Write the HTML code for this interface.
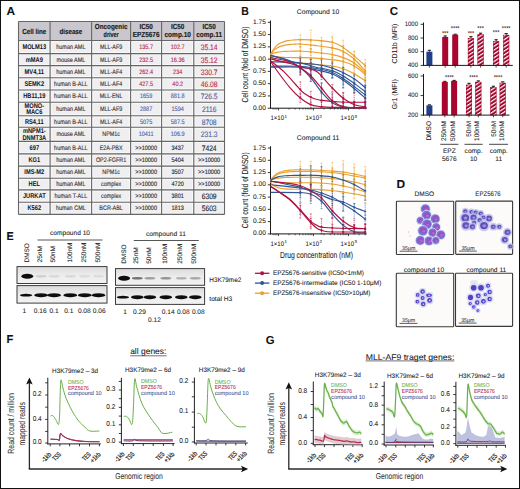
<!DOCTYPE html>
<html><head><meta charset="utf-8"><style>
html,body{margin:0;padding:0;background:#fff;}
body{width:520px;height:489px;overflow:hidden;}
svg{display:block;font-family:"Liberation Sans",sans-serif;}
</style></head><body>
<svg width="520" height="489" viewBox="0 0 520 489" dominant-baseline="central" text-rendering="geometricPrecision">
<rect x="0.5" y="0.5" width="519" height="488" fill="none" stroke="#111" stroke-width="1"/>
<text x="6.50" y="12.00" font-size="11.5" text-anchor="start" fill="#111" stroke="#111" stroke-width="0.07" font-weight="bold" textLength="8.60" lengthAdjust="spacingAndGlyphs" >A</text>
<rect x="18.50" y="21.50" width="206.00" height="19.00" fill="#c9c7cd" />
<rect x="18.50" y="40.50" width="206.00" height="173.90" fill="#efeff1" />
<rect x="19.70" y="41.70" width="29.20" height="10.70" fill="none" stroke="#fafafa" stroke-width="0.8"/>
<rect x="51.30" y="41.70" width="39.10" height="10.70" fill="none" stroke="#fafafa" stroke-width="0.8"/>
<rect x="92.80" y="41.70" width="36.60" height="10.70" fill="none" stroke="#fafafa" stroke-width="0.8"/>
<rect x="131.80" y="41.70" width="28.60" height="10.70" fill="none" stroke="#fafafa" stroke-width="0.8"/>
<rect x="162.80" y="41.70" width="29.80" height="10.70" fill="none" stroke="#fafafa" stroke-width="0.8"/>
<rect x="195.00" y="41.70" width="28.30" height="10.70" fill="none" stroke="#fafafa" stroke-width="0.8"/>
<rect x="19.70" y="54.80" width="29.20" height="9.60" fill="none" stroke="#fafafa" stroke-width="0.8"/>
<rect x="51.30" y="54.80" width="39.10" height="9.60" fill="none" stroke="#fafafa" stroke-width="0.8"/>
<rect x="92.80" y="54.80" width="36.60" height="9.60" fill="none" stroke="#fafafa" stroke-width="0.8"/>
<rect x="131.80" y="54.80" width="28.60" height="9.60" fill="none" stroke="#fafafa" stroke-width="0.8"/>
<rect x="162.80" y="54.80" width="29.80" height="9.60" fill="none" stroke="#fafafa" stroke-width="0.8"/>
<rect x="195.00" y="54.80" width="28.30" height="9.60" fill="none" stroke="#fafafa" stroke-width="0.8"/>
<rect x="19.70" y="66.80" width="29.20" height="9.70" fill="none" stroke="#fafafa" stroke-width="0.8"/>
<rect x="51.30" y="66.80" width="39.10" height="9.70" fill="none" stroke="#fafafa" stroke-width="0.8"/>
<rect x="92.80" y="66.80" width="36.60" height="9.70" fill="none" stroke="#fafafa" stroke-width="0.8"/>
<rect x="131.80" y="66.80" width="28.60" height="9.70" fill="none" stroke="#fafafa" stroke-width="0.8"/>
<rect x="162.80" y="66.80" width="29.80" height="9.70" fill="none" stroke="#fafafa" stroke-width="0.8"/>
<rect x="195.00" y="66.80" width="28.30" height="9.70" fill="none" stroke="#fafafa" stroke-width="0.8"/>
<rect x="19.70" y="78.90" width="29.20" height="9.90" fill="none" stroke="#fafafa" stroke-width="0.8"/>
<rect x="51.30" y="78.90" width="39.10" height="9.90" fill="none" stroke="#fafafa" stroke-width="0.8"/>
<rect x="92.80" y="78.90" width="36.60" height="9.90" fill="none" stroke="#fafafa" stroke-width="0.8"/>
<rect x="131.80" y="78.90" width="28.60" height="9.90" fill="none" stroke="#fafafa" stroke-width="0.8"/>
<rect x="162.80" y="78.90" width="29.80" height="9.90" fill="none" stroke="#fafafa" stroke-width="0.8"/>
<rect x="195.00" y="78.90" width="28.30" height="9.90" fill="none" stroke="#fafafa" stroke-width="0.8"/>
<rect x="19.70" y="91.20" width="29.20" height="9.80" fill="none" stroke="#fafafa" stroke-width="0.8"/>
<rect x="51.30" y="91.20" width="39.10" height="9.80" fill="none" stroke="#fafafa" stroke-width="0.8"/>
<rect x="92.80" y="91.20" width="36.60" height="9.80" fill="none" stroke="#fafafa" stroke-width="0.8"/>
<rect x="131.80" y="91.20" width="28.60" height="9.80" fill="none" stroke="#fafafa" stroke-width="0.8"/>
<rect x="162.80" y="91.20" width="29.80" height="9.80" fill="none" stroke="#fafafa" stroke-width="0.8"/>
<rect x="195.00" y="91.20" width="28.30" height="9.80" fill="none" stroke="#fafafa" stroke-width="0.8"/>
<rect x="19.70" y="103.40" width="29.20" height="11.20" fill="none" stroke="#fafafa" stroke-width="0.8"/>
<rect x="51.30" y="103.40" width="39.10" height="11.20" fill="none" stroke="#fafafa" stroke-width="0.8"/>
<rect x="92.80" y="103.40" width="36.60" height="11.20" fill="none" stroke="#fafafa" stroke-width="0.8"/>
<rect x="131.80" y="103.40" width="28.60" height="11.20" fill="none" stroke="#fafafa" stroke-width="0.8"/>
<rect x="162.80" y="103.40" width="29.80" height="11.20" fill="none" stroke="#fafafa" stroke-width="0.8"/>
<rect x="195.00" y="103.40" width="28.30" height="11.20" fill="none" stroke="#fafafa" stroke-width="0.8"/>
<rect x="19.70" y="117.00" width="29.20" height="9.00" fill="none" stroke="#fafafa" stroke-width="0.8"/>
<rect x="51.30" y="117.00" width="39.10" height="9.00" fill="none" stroke="#fafafa" stroke-width="0.8"/>
<rect x="92.80" y="117.00" width="36.60" height="9.00" fill="none" stroke="#fafafa" stroke-width="0.8"/>
<rect x="131.80" y="117.00" width="28.60" height="9.00" fill="none" stroke="#fafafa" stroke-width="0.8"/>
<rect x="162.80" y="117.00" width="29.80" height="9.00" fill="none" stroke="#fafafa" stroke-width="0.8"/>
<rect x="195.00" y="117.00" width="28.30" height="9.00" fill="none" stroke="#fafafa" stroke-width="0.8"/>
<rect x="19.70" y="128.40" width="29.20" height="11.80" fill="none" stroke="#fafafa" stroke-width="0.8"/>
<rect x="51.30" y="128.40" width="39.10" height="11.80" fill="none" stroke="#fafafa" stroke-width="0.8"/>
<rect x="92.80" y="128.40" width="36.60" height="11.80" fill="none" stroke="#fafafa" stroke-width="0.8"/>
<rect x="131.80" y="128.40" width="28.60" height="11.80" fill="none" stroke="#fafafa" stroke-width="0.8"/>
<rect x="162.80" y="128.40" width="29.80" height="11.80" fill="none" stroke="#fafafa" stroke-width="0.8"/>
<rect x="195.00" y="128.40" width="28.30" height="11.80" fill="none" stroke="#fafafa" stroke-width="0.8"/>
<rect x="19.70" y="142.60" width="29.20" height="10.10" fill="none" stroke="#fafafa" stroke-width="0.8"/>
<rect x="51.30" y="142.60" width="39.10" height="10.10" fill="none" stroke="#fafafa" stroke-width="0.8"/>
<rect x="92.80" y="142.60" width="36.60" height="10.10" fill="none" stroke="#fafafa" stroke-width="0.8"/>
<rect x="131.80" y="142.60" width="28.60" height="10.10" fill="none" stroke="#fafafa" stroke-width="0.8"/>
<rect x="162.80" y="142.60" width="29.80" height="10.10" fill="none" stroke="#fafafa" stroke-width="0.8"/>
<rect x="195.00" y="142.60" width="28.30" height="10.10" fill="none" stroke="#fafafa" stroke-width="0.8"/>
<rect x="19.70" y="155.10" width="29.20" height="9.80" fill="none" stroke="#fafafa" stroke-width="0.8"/>
<rect x="51.30" y="155.10" width="39.10" height="9.80" fill="none" stroke="#fafafa" stroke-width="0.8"/>
<rect x="92.80" y="155.10" width="36.60" height="9.80" fill="none" stroke="#fafafa" stroke-width="0.8"/>
<rect x="131.80" y="155.10" width="28.60" height="9.80" fill="none" stroke="#fafafa" stroke-width="0.8"/>
<rect x="162.80" y="155.10" width="29.80" height="9.80" fill="none" stroke="#fafafa" stroke-width="0.8"/>
<rect x="195.00" y="155.10" width="28.30" height="9.80" fill="none" stroke="#fafafa" stroke-width="0.8"/>
<rect x="19.70" y="167.30" width="29.20" height="9.70" fill="none" stroke="#fafafa" stroke-width="0.8"/>
<rect x="51.30" y="167.30" width="39.10" height="9.70" fill="none" stroke="#fafafa" stroke-width="0.8"/>
<rect x="92.80" y="167.30" width="36.60" height="9.70" fill="none" stroke="#fafafa" stroke-width="0.8"/>
<rect x="131.80" y="167.30" width="28.60" height="9.70" fill="none" stroke="#fafafa" stroke-width="0.8"/>
<rect x="162.80" y="167.30" width="29.80" height="9.70" fill="none" stroke="#fafafa" stroke-width="0.8"/>
<rect x="195.00" y="167.30" width="28.30" height="9.70" fill="none" stroke="#fafafa" stroke-width="0.8"/>
<rect x="19.70" y="179.40" width="29.20" height="9.30" fill="none" stroke="#fafafa" stroke-width="0.8"/>
<rect x="51.30" y="179.40" width="39.10" height="9.30" fill="none" stroke="#fafafa" stroke-width="0.8"/>
<rect x="92.80" y="179.40" width="36.60" height="9.30" fill="none" stroke="#fafafa" stroke-width="0.8"/>
<rect x="131.80" y="179.40" width="28.60" height="9.30" fill="none" stroke="#fafafa" stroke-width="0.8"/>
<rect x="162.80" y="179.40" width="29.80" height="9.30" fill="none" stroke="#fafafa" stroke-width="0.8"/>
<rect x="195.00" y="179.40" width="28.30" height="9.30" fill="none" stroke="#fafafa" stroke-width="0.8"/>
<rect x="19.70" y="191.10" width="29.20" height="10.00" fill="none" stroke="#fafafa" stroke-width="0.8"/>
<rect x="51.30" y="191.10" width="39.10" height="10.00" fill="none" stroke="#fafafa" stroke-width="0.8"/>
<rect x="92.80" y="191.10" width="36.60" height="10.00" fill="none" stroke="#fafafa" stroke-width="0.8"/>
<rect x="131.80" y="191.10" width="28.60" height="10.00" fill="none" stroke="#fafafa" stroke-width="0.8"/>
<rect x="162.80" y="191.10" width="29.80" height="10.00" fill="none" stroke="#fafafa" stroke-width="0.8"/>
<rect x="195.00" y="191.10" width="28.30" height="10.00" fill="none" stroke="#fafafa" stroke-width="0.8"/>
<rect x="19.70" y="203.50" width="29.20" height="9.70" fill="none" stroke="#fafafa" stroke-width="0.8"/>
<rect x="51.30" y="203.50" width="39.10" height="9.70" fill="none" stroke="#fafafa" stroke-width="0.8"/>
<rect x="92.80" y="203.50" width="36.60" height="9.70" fill="none" stroke="#fafafa" stroke-width="0.8"/>
<rect x="131.80" y="203.50" width="28.60" height="9.70" fill="none" stroke="#fafafa" stroke-width="0.8"/>
<rect x="162.80" y="203.50" width="29.80" height="9.70" fill="none" stroke="#fafafa" stroke-width="0.8"/>
<rect x="195.00" y="203.50" width="28.30" height="9.70" fill="none" stroke="#fafafa" stroke-width="0.8"/>
<line x1="18.50" y1="21.50" x2="18.50" y2="214.40" stroke="#666" stroke-width="1.1" />
<line x1="50.10" y1="21.50" x2="50.10" y2="214.40" stroke="#666" stroke-width="1.1" />
<line x1="91.60" y1="21.50" x2="91.60" y2="214.40" stroke="#666" stroke-width="1.1" />
<line x1="130.60" y1="21.50" x2="130.60" y2="214.40" stroke="#666" stroke-width="1.1" />
<line x1="161.60" y1="21.50" x2="161.60" y2="214.40" stroke="#666" stroke-width="1.1" />
<line x1="193.80" y1="21.50" x2="193.80" y2="214.40" stroke="#666" stroke-width="1.1" />
<line x1="224.50" y1="21.50" x2="224.50" y2="214.40" stroke="#666" stroke-width="1.1" />
<line x1="18.50" y1="21.50" x2="224.50" y2="21.50" stroke="#666" stroke-width="1.1" />
<line x1="18.50" y1="40.50" x2="224.50" y2="40.50" stroke="#666" stroke-width="1.1" />
<line x1="18.50" y1="53.60" x2="224.50" y2="53.60" stroke="#666" stroke-width="1.1" />
<line x1="18.50" y1="65.60" x2="224.50" y2="65.60" stroke="#666" stroke-width="1.1" />
<line x1="18.50" y1="77.70" x2="224.50" y2="77.70" stroke="#666" stroke-width="1.1" />
<line x1="18.50" y1="90.00" x2="224.50" y2="90.00" stroke="#666" stroke-width="1.1" />
<line x1="18.50" y1="102.20" x2="224.50" y2="102.20" stroke="#666" stroke-width="1.1" />
<line x1="18.50" y1="115.80" x2="224.50" y2="115.80" stroke="#666" stroke-width="1.1" />
<line x1="18.50" y1="127.20" x2="224.50" y2="127.20" stroke="#666" stroke-width="1.1" />
<line x1="18.50" y1="141.40" x2="224.50" y2="141.40" stroke="#666" stroke-width="1.1" />
<line x1="18.50" y1="153.90" x2="224.50" y2="153.90" stroke="#666" stroke-width="1.1" />
<line x1="18.50" y1="166.10" x2="224.50" y2="166.10" stroke="#666" stroke-width="1.1" />
<line x1="18.50" y1="178.20" x2="224.50" y2="178.20" stroke="#666" stroke-width="1.1" />
<line x1="18.50" y1="189.90" x2="224.50" y2="189.90" stroke="#666" stroke-width="1.1" />
<line x1="18.50" y1="202.30" x2="224.50" y2="202.30" stroke="#666" stroke-width="1.1" />
<line x1="18.50" y1="214.40" x2="224.50" y2="214.40" stroke="#666" stroke-width="1.1" />
<text x="34.30" y="31.00" font-size="7.3" text-anchor="middle" fill="#1a1a1a" stroke="#1a1a1a" stroke-width="0.15" font-weight="bold" textLength="23.90" lengthAdjust="spacingAndGlyphs" >Cell line</text>
<text x="70.85" y="31.00" font-size="7.3" text-anchor="middle" fill="#1a1a1a" stroke="#1a1a1a" stroke-width="0.15" font-weight="bold" textLength="22.90" lengthAdjust="spacingAndGlyphs" >disease</text>
<text x="111.10" y="26.20" font-size="7.3" text-anchor="middle" fill="#1a1a1a" stroke="#1a1a1a" stroke-width="0.15" font-weight="bold" textLength="32.70" lengthAdjust="spacingAndGlyphs" >Oncogenic</text>
<text x="111.10" y="34.60" font-size="7.3" text-anchor="middle" fill="#1a1a1a" stroke="#1a1a1a" stroke-width="0.15" font-weight="bold" textLength="15.00" lengthAdjust="spacingAndGlyphs" >driver</text>
<text x="146.10" y="26.10" font-size="7.3" text-anchor="middle" fill="#1a1a1a" stroke="#1a1a1a" stroke-width="0.15" font-weight="bold" textLength="13.40" lengthAdjust="spacingAndGlyphs" >IC50</text>
<text x="146.10" y="34.60" font-size="7.3" text-anchor="middle" fill="#1a1a1a" stroke="#1a1a1a" stroke-width="0.15" font-weight="bold" textLength="26.90" lengthAdjust="spacingAndGlyphs" >EPZ5676</text>
<text x="177.70" y="26.10" font-size="7.3" text-anchor="middle" fill="#1a1a1a" stroke="#1a1a1a" stroke-width="0.15" font-weight="bold" textLength="13.40" lengthAdjust="spacingAndGlyphs" >IC50</text>
<text x="177.70" y="34.60" font-size="7.3" text-anchor="middle" fill="#1a1a1a" stroke="#1a1a1a" stroke-width="0.15" font-weight="bold" textLength="26.40" lengthAdjust="spacingAndGlyphs" >comp.10</text>
<text x="209.15" y="26.10" font-size="7.3" text-anchor="middle" fill="#1a1a1a" stroke="#1a1a1a" stroke-width="0.15" font-weight="bold" textLength="13.40" lengthAdjust="spacingAndGlyphs" >IC50</text>
<text x="209.15" y="34.60" font-size="7.3" text-anchor="middle" fill="#1a1a1a" stroke="#1a1a1a" stroke-width="0.15" font-weight="bold" textLength="25.90" lengthAdjust="spacingAndGlyphs" >comp.11</text>
<text x="34.30" y="47.65" font-size="6.8" text-anchor="middle" fill="#111" font-weight="bold" textLength="23.80" lengthAdjust="spacingAndGlyphs" >MOLM13</text>
<text x="70.85" y="47.65" font-size="6.6" text-anchor="middle" fill="#333" stroke="#333" stroke-width="0.12" textLength="29.23" lengthAdjust="spacingAndGlyphs" >human AML</text>
<text x="111.10" y="47.65" font-size="6.6" text-anchor="middle" fill="#333" stroke="#333" stroke-width="0.12" textLength="22.26" lengthAdjust="spacingAndGlyphs" >MLL-AF9</text>
<text x="146.10" y="47.65" font-size="6.5" text-anchor="middle" fill="#b8284f" stroke="#b8284f" stroke-width="0.12" textLength="13.83" lengthAdjust="spacingAndGlyphs" >135.7</text>
<text x="177.70" y="47.65" font-size="6.5" text-anchor="middle" fill="#b8284f" stroke="#b8284f" stroke-width="0.12" textLength="13.83" lengthAdjust="spacingAndGlyphs" >102.7</text>
<text x="209.15" y="47.65" font-size="7.9" text-anchor="middle" fill="#b8284f" stroke="#b8284f" stroke-width="0.12" textLength="16.80" lengthAdjust="spacingAndGlyphs" >35.14</text>
<text x="34.30" y="60.20" font-size="6.8" text-anchor="middle" fill="#111" font-weight="bold" textLength="17.14" lengthAdjust="spacingAndGlyphs" >mMA9</text>
<text x="70.85" y="60.20" font-size="6.6" text-anchor="middle" fill="#333" stroke="#333" stroke-width="0.12" textLength="28.93" lengthAdjust="spacingAndGlyphs" >mouse AML</text>
<text x="111.10" y="60.20" font-size="6.6" text-anchor="middle" fill="#333" stroke="#333" stroke-width="0.12" textLength="22.26" lengthAdjust="spacingAndGlyphs" >MLL-AF9</text>
<text x="146.10" y="60.20" font-size="6.5" text-anchor="middle" fill="#b8284f" stroke="#b8284f" stroke-width="0.12" textLength="13.83" lengthAdjust="spacingAndGlyphs" >232.5</text>
<text x="177.70" y="60.20" font-size="6.5" text-anchor="middle" fill="#b8284f" stroke="#b8284f" stroke-width="0.12" textLength="13.83" lengthAdjust="spacingAndGlyphs" >16.36</text>
<text x="209.15" y="60.20" font-size="7.9" text-anchor="middle" fill="#b8284f" stroke="#b8284f" stroke-width="0.12" textLength="16.80" lengthAdjust="spacingAndGlyphs" >35.12</text>
<text x="34.30" y="72.25" font-size="6.8" text-anchor="middle" fill="#111" font-weight="bold" textLength="19.37" lengthAdjust="spacingAndGlyphs" >MV4,11</text>
<text x="70.85" y="72.25" font-size="6.6" text-anchor="middle" fill="#333" stroke="#333" stroke-width="0.12" textLength="29.23" lengthAdjust="spacingAndGlyphs" >human AML</text>
<text x="111.10" y="72.25" font-size="6.6" text-anchor="middle" fill="#333" stroke="#333" stroke-width="0.12" textLength="22.26" lengthAdjust="spacingAndGlyphs" >MLL-AF4</text>
<text x="146.10" y="72.25" font-size="6.5" text-anchor="middle" fill="#b8284f" stroke="#b8284f" stroke-width="0.12" textLength="13.83" lengthAdjust="spacingAndGlyphs" >262.4</text>
<text x="177.70" y="72.25" font-size="6.5" text-anchor="middle" fill="#b8284f" stroke="#b8284f" stroke-width="0.12" textLength="9.22" lengthAdjust="spacingAndGlyphs" >234</text>
<text x="209.15" y="72.25" font-size="7.9" text-anchor="middle" fill="#b8284f" stroke="#b8284f" stroke-width="0.12" textLength="16.80" lengthAdjust="spacingAndGlyphs" >330.7</text>
<text x="34.30" y="84.45" font-size="6.8" text-anchor="middle" fill="#111" font-weight="bold" textLength="19.68" lengthAdjust="spacingAndGlyphs" >SEMK2</text>
<text x="70.85" y="84.45" font-size="6.6" text-anchor="middle" fill="#333" stroke="#333" stroke-width="0.12" textLength="33.50" lengthAdjust="spacingAndGlyphs" >human B-ALL</text>
<text x="111.10" y="84.45" font-size="6.6" text-anchor="middle" fill="#333" stroke="#333" stroke-width="0.12" textLength="22.26" lengthAdjust="spacingAndGlyphs" >MLL-AF4</text>
<text x="146.10" y="84.45" font-size="6.5" text-anchor="middle" fill="#b8284f" stroke="#b8284f" stroke-width="0.12" textLength="13.83" lengthAdjust="spacingAndGlyphs" >427.5</text>
<text x="177.70" y="84.45" font-size="6.5" text-anchor="middle" fill="#b8284f" stroke="#b8284f" stroke-width="0.12" textLength="10.75" lengthAdjust="spacingAndGlyphs" >40.2</text>
<text x="209.15" y="84.45" font-size="7.9" text-anchor="middle" fill="#b8284f" stroke="#b8284f" stroke-width="0.12" textLength="16.80" lengthAdjust="spacingAndGlyphs" >46.08</text>
<text x="34.30" y="96.70" font-size="6.8" text-anchor="middle" fill="#111" font-weight="bold" textLength="22.23" lengthAdjust="spacingAndGlyphs" >HB11,19</text>
<text x="70.85" y="96.70" font-size="6.6" text-anchor="middle" fill="#333" stroke="#333" stroke-width="0.12" textLength="33.50" lengthAdjust="spacingAndGlyphs" >human B-ALL</text>
<text x="111.10" y="96.70" font-size="6.6" text-anchor="middle" fill="#333" stroke="#333" stroke-width="0.12" textLength="22.86" lengthAdjust="spacingAndGlyphs" >MLL-ENL</text>
<text x="146.10" y="96.70" font-size="6.5" text-anchor="middle" fill="#4b5f9e" stroke="#4b5f9e" stroke-width="0.12" textLength="12.29" lengthAdjust="spacingAndGlyphs" >1659</text>
<text x="177.70" y="96.70" font-size="6.5" text-anchor="middle" fill="#4b5f9e" stroke="#4b5f9e" stroke-width="0.12" textLength="13.83" lengthAdjust="spacingAndGlyphs" >881.8</text>
<text x="209.15" y="96.70" font-size="7.9" text-anchor="middle" fill="#4b5f9e" stroke="#4b5f9e" stroke-width="0.12" textLength="16.80" lengthAdjust="spacingAndGlyphs" >726.5</text>
<text x="34.30" y="106.30" font-size="6.8" text-anchor="middle" fill="#111" font-weight="bold" textLength="19.67" lengthAdjust="spacingAndGlyphs" >MONO-</text>
<text x="34.30" y="112.90" font-size="6.8" text-anchor="middle" fill="#111" font-weight="bold" textLength="16.19" lengthAdjust="spacingAndGlyphs" >MAC6</text>
<text x="70.85" y="109.60" font-size="6.6" text-anchor="middle" fill="#333" stroke="#333" stroke-width="0.12" textLength="29.23" lengthAdjust="spacingAndGlyphs" >human AML</text>
<text x="111.10" y="109.60" font-size="6.6" text-anchor="middle" fill="#333" stroke="#333" stroke-width="0.12" textLength="22.26" lengthAdjust="spacingAndGlyphs" >MLL-AF9</text>
<text x="146.10" y="109.60" font-size="6.5" text-anchor="middle" fill="#4b5f9e" stroke="#4b5f9e" stroke-width="0.12" textLength="12.29" lengthAdjust="spacingAndGlyphs" >2887</text>
<text x="177.70" y="109.60" font-size="6.5" text-anchor="middle" fill="#4b5f9e" stroke="#4b5f9e" stroke-width="0.12" textLength="12.29" lengthAdjust="spacingAndGlyphs" >1594</text>
<text x="209.15" y="109.60" font-size="7.9" text-anchor="middle" fill="#4b5f9e" stroke="#4b5f9e" stroke-width="0.12" textLength="14.44" lengthAdjust="spacingAndGlyphs" >2116</text>
<text x="34.30" y="122.10" font-size="6.8" text-anchor="middle" fill="#111" font-weight="bold" textLength="18.74" lengthAdjust="spacingAndGlyphs" >RS4,11</text>
<text x="70.85" y="122.10" font-size="6.6" text-anchor="middle" fill="#333" stroke="#333" stroke-width="0.12" textLength="33.50" lengthAdjust="spacingAndGlyphs" >human B-ALL</text>
<text x="111.10" y="122.10" font-size="6.6" text-anchor="middle" fill="#333" stroke="#333" stroke-width="0.12" textLength="22.26" lengthAdjust="spacingAndGlyphs" >MLL-AF4</text>
<text x="146.10" y="122.10" font-size="6.5" text-anchor="middle" fill="#4b5f9e" stroke="#4b5f9e" stroke-width="0.12" textLength="12.29" lengthAdjust="spacingAndGlyphs" >5075</text>
<text x="177.70" y="122.10" font-size="6.5" text-anchor="middle" fill="#4b5f9e" stroke="#4b5f9e" stroke-width="0.12" textLength="13.83" lengthAdjust="spacingAndGlyphs" >587.5</text>
<text x="209.15" y="122.10" font-size="7.9" text-anchor="middle" fill="#4b5f9e" stroke="#4b5f9e" stroke-width="0.12" textLength="14.94" lengthAdjust="spacingAndGlyphs" >8708</text>
<text x="34.30" y="131.60" font-size="6.8" text-anchor="middle" fill="#111" font-weight="bold" textLength="22.85" lengthAdjust="spacingAndGlyphs" >mNPM1-</text>
<text x="34.30" y="138.20" font-size="6.8" text-anchor="middle" fill="#111" font-weight="bold" textLength="23.80" lengthAdjust="spacingAndGlyphs" >DNMT3A</text>
<text x="70.85" y="134.90" font-size="6.6" text-anchor="middle" fill="#333" stroke="#333" stroke-width="0.12" textLength="28.93" lengthAdjust="spacingAndGlyphs" >mouse AML</text>
<text x="111.10" y="134.90" font-size="6.6" text-anchor="middle" fill="#333" stroke="#333" stroke-width="0.12" textLength="17.74" lengthAdjust="spacingAndGlyphs" >NPM1c</text>
<text x="146.10" y="134.90" font-size="6.5" text-anchor="middle" fill="#4b5f9e" stroke="#4b5f9e" stroke-width="0.12" textLength="14.95" lengthAdjust="spacingAndGlyphs" >10411</text>
<text x="177.70" y="134.90" font-size="6.5" text-anchor="middle" fill="#4b5f9e" stroke="#4b5f9e" stroke-width="0.12" textLength="13.83" lengthAdjust="spacingAndGlyphs" >106.9</text>
<text x="209.15" y="134.90" font-size="7.9" text-anchor="middle" fill="#4b5f9e" stroke="#4b5f9e" stroke-width="0.12" textLength="16.80" lengthAdjust="spacingAndGlyphs" >231.3</text>
<text x="34.30" y="148.25" font-size="6.8" text-anchor="middle" fill="#111" font-weight="bold" textLength="9.53" lengthAdjust="spacingAndGlyphs" >697</text>
<text x="70.85" y="148.25" font-size="6.6" text-anchor="middle" fill="#333" stroke="#333" stroke-width="0.12" textLength="33.50" lengthAdjust="spacingAndGlyphs" >human B-ALL</text>
<text x="111.10" y="148.25" font-size="6.6" text-anchor="middle" fill="#333" stroke="#333" stroke-width="0.12" textLength="22.86" lengthAdjust="spacingAndGlyphs" >E2A-PBX</text>
<text x="146.10" y="148.25" font-size="6.5" text-anchor="middle" fill="#222" stroke="#222" stroke-width="0.12" textLength="21.82" lengthAdjust="spacingAndGlyphs" >&gt;&gt;10000</text>
<text x="177.70" y="148.25" font-size="6.5" text-anchor="middle" fill="#222" stroke="#222" stroke-width="0.12" textLength="12.29" lengthAdjust="spacingAndGlyphs" >3437</text>
<text x="209.15" y="148.25" font-size="7.9" text-anchor="middle" fill="#222" stroke="#222" stroke-width="0.12" textLength="14.94" lengthAdjust="spacingAndGlyphs" >7424</text>
<text x="34.30" y="160.60" font-size="6.8" text-anchor="middle" fill="#111" font-weight="bold" textLength="11.74" lengthAdjust="spacingAndGlyphs" >KG1</text>
<text x="70.85" y="160.60" font-size="6.6" text-anchor="middle" fill="#333" stroke="#333" stroke-width="0.12" textLength="29.23" lengthAdjust="spacingAndGlyphs" >human AML</text>
<text x="111.10" y="160.60" font-size="6.6" text-anchor="middle" fill="#333" stroke="#333" stroke-width="0.12" textLength="30.37" lengthAdjust="spacingAndGlyphs" >OP2-FGFR1</text>
<text x="146.10" y="160.60" font-size="6.5" text-anchor="middle" fill="#222" stroke="#222" stroke-width="0.12" textLength="21.82" lengthAdjust="spacingAndGlyphs" >&gt;&gt;10000</text>
<text x="177.70" y="160.60" font-size="6.5" text-anchor="middle" fill="#222" stroke="#222" stroke-width="0.12" textLength="12.29" lengthAdjust="spacingAndGlyphs" >5404</text>
<text x="209.15" y="160.60" font-size="6.5" text-anchor="middle" fill="#222" stroke="#222" stroke-width="0.12" textLength="22.07" lengthAdjust="spacingAndGlyphs" >&gt;&gt;10000</text>
<text x="34.30" y="172.75" font-size="6.8" text-anchor="middle" fill="#111" font-weight="bold" textLength="19.99" lengthAdjust="spacingAndGlyphs" >IMS-M2</text>
<text x="70.85" y="172.75" font-size="6.6" text-anchor="middle" fill="#333" stroke="#333" stroke-width="0.12" textLength="29.23" lengthAdjust="spacingAndGlyphs" >human AML</text>
<text x="111.10" y="172.75" font-size="6.6" text-anchor="middle" fill="#333" stroke="#333" stroke-width="0.12" textLength="17.74" lengthAdjust="spacingAndGlyphs" >NPM1c</text>
<text x="146.10" y="172.75" font-size="6.5" text-anchor="middle" fill="#222" stroke="#222" stroke-width="0.12" textLength="21.82" lengthAdjust="spacingAndGlyphs" >&gt;&gt;10000</text>
<text x="177.70" y="172.75" font-size="6.5" text-anchor="middle" fill="#222" stroke="#222" stroke-width="0.12" textLength="12.29" lengthAdjust="spacingAndGlyphs" >3507</text>
<text x="209.15" y="172.75" font-size="6.5" text-anchor="middle" fill="#222" stroke="#222" stroke-width="0.12" textLength="22.07" lengthAdjust="spacingAndGlyphs" >&gt;&gt;10000</text>
<text x="34.30" y="184.65" font-size="6.8" text-anchor="middle" fill="#111" font-weight="bold" textLength="11.42" lengthAdjust="spacingAndGlyphs" >HEL</text>
<text x="70.85" y="184.65" font-size="6.6" text-anchor="middle" fill="#333" stroke="#333" stroke-width="0.12" textLength="29.23" lengthAdjust="spacingAndGlyphs" >human AML</text>
<text x="111.10" y="184.65" font-size="6.6" text-anchor="middle" fill="#333" stroke="#333" stroke-width="0.12" textLength="20.15" lengthAdjust="spacingAndGlyphs" >complex</text>
<text x="146.10" y="184.65" font-size="6.5" text-anchor="middle" fill="#222" stroke="#222" stroke-width="0.12" textLength="21.82" lengthAdjust="spacingAndGlyphs" >&gt;&gt;10000</text>
<text x="177.70" y="184.65" font-size="6.5" text-anchor="middle" fill="#222" stroke="#222" stroke-width="0.12" textLength="12.29" lengthAdjust="spacingAndGlyphs" >4720</text>
<text x="209.15" y="184.65" font-size="6.5" text-anchor="middle" fill="#222" stroke="#222" stroke-width="0.12" textLength="22.07" lengthAdjust="spacingAndGlyphs" >&gt;&gt;10000</text>
<text x="34.30" y="196.70" font-size="6.8" text-anchor="middle" fill="#111" font-weight="bold" textLength="22.74" lengthAdjust="spacingAndGlyphs" >JURKAT</text>
<text x="70.85" y="196.70" font-size="6.6" text-anchor="middle" fill="#333" stroke="#333" stroke-width="0.12" textLength="32.79" lengthAdjust="spacingAndGlyphs" >human T-ALL</text>
<text x="111.10" y="196.70" font-size="6.6" text-anchor="middle" fill="#333" stroke="#333" stroke-width="0.12" textLength="20.15" lengthAdjust="spacingAndGlyphs" >complex</text>
<text x="146.10" y="196.70" font-size="6.5" text-anchor="middle" fill="#222" stroke="#222" stroke-width="0.12" textLength="21.82" lengthAdjust="spacingAndGlyphs" >&gt;&gt;10000</text>
<text x="177.70" y="196.70" font-size="6.5" text-anchor="middle" fill="#222" stroke="#222" stroke-width="0.12" textLength="12.29" lengthAdjust="spacingAndGlyphs" >3801</text>
<text x="209.15" y="196.70" font-size="7.9" text-anchor="middle" fill="#222" stroke="#222" stroke-width="0.12" textLength="14.94" lengthAdjust="spacingAndGlyphs" >6309</text>
<text x="34.30" y="208.95" font-size="6.8" text-anchor="middle" fill="#111" font-weight="bold" textLength="13.66" lengthAdjust="spacingAndGlyphs" >K562</text>
<text x="70.85" y="208.95" font-size="6.6" text-anchor="middle" fill="#333" stroke="#333" stroke-width="0.12" textLength="29.84" lengthAdjust="spacingAndGlyphs" >human CML</text>
<text x="111.10" y="208.95" font-size="6.6" text-anchor="middle" fill="#333" stroke="#333" stroke-width="0.12" textLength="23.46" lengthAdjust="spacingAndGlyphs" >BCR-ABL</text>
<text x="146.10" y="208.95" font-size="6.5" text-anchor="middle" fill="#222" stroke="#222" stroke-width="0.12" textLength="21.82" lengthAdjust="spacingAndGlyphs" >&gt;&gt;10000</text>
<text x="177.70" y="208.95" font-size="6.5" text-anchor="middle" fill="#222" stroke="#222" stroke-width="0.12" textLength="12.29" lengthAdjust="spacingAndGlyphs" >1813</text>
<text x="209.15" y="208.95" font-size="7.9" text-anchor="middle" fill="#222" stroke="#222" stroke-width="0.12" textLength="14.94" lengthAdjust="spacingAndGlyphs" >5603</text>
<text x="241.30" y="12.20" font-size="11.5" text-anchor="start" fill="#111" stroke="#111" stroke-width="0.07" font-weight="bold" textLength="7.60" lengthAdjust="spacingAndGlyphs" >B</text>
<text x="318.00" y="12.30" font-size="6.7" text-anchor="middle" fill="#222" stroke="#222" stroke-width="0.07" textLength="42.50" lengthAdjust="spacingAndGlyphs" >Compound 10</text>
<line x1="267.80" y1="108.20" x2="270.50" y2="108.20" stroke="#222" stroke-width="0.9" />
<text x="265.80" y="108.20" font-size="6.6" text-anchor="end" fill="#222" stroke="#222" stroke-width="0.07" textLength="12.80" lengthAdjust="spacingAndGlyphs" >0.00</text>
<line x1="267.80" y1="95.93" x2="270.50" y2="95.93" stroke="#222" stroke-width="0.9" />
<text x="265.80" y="95.93" font-size="6.6" text-anchor="end" fill="#222" stroke="#222" stroke-width="0.07" textLength="12.80" lengthAdjust="spacingAndGlyphs" >0.25</text>
<line x1="267.80" y1="83.67" x2="270.50" y2="83.67" stroke="#222" stroke-width="0.9" />
<text x="265.80" y="83.67" font-size="6.6" text-anchor="end" fill="#222" stroke="#222" stroke-width="0.07" textLength="12.80" lengthAdjust="spacingAndGlyphs" >0.50</text>
<line x1="267.80" y1="71.40" x2="270.50" y2="71.40" stroke="#222" stroke-width="0.9" />
<text x="265.80" y="71.40" font-size="6.6" text-anchor="end" fill="#222" stroke="#222" stroke-width="0.07" textLength="12.80" lengthAdjust="spacingAndGlyphs" >0.75</text>
<line x1="267.80" y1="59.13" x2="270.50" y2="59.13" stroke="#222" stroke-width="0.9" />
<text x="265.80" y="59.13" font-size="6.6" text-anchor="end" fill="#222" stroke="#222" stroke-width="0.07" textLength="12.80" lengthAdjust="spacingAndGlyphs" >1.00</text>
<line x1="267.80" y1="46.86" x2="270.50" y2="46.86" stroke="#222" stroke-width="0.9" />
<text x="265.80" y="46.86" font-size="6.6" text-anchor="end" fill="#222" stroke="#222" stroke-width="0.07" textLength="12.80" lengthAdjust="spacingAndGlyphs" >1.25</text>
<line x1="267.80" y1="34.59" x2="270.50" y2="34.59" stroke="#222" stroke-width="0.9" />
<text x="265.80" y="34.59" font-size="6.6" text-anchor="end" fill="#222" stroke="#222" stroke-width="0.07" textLength="12.80" lengthAdjust="spacingAndGlyphs" >1.50</text>
<line x1="267.80" y1="22.33" x2="270.50" y2="22.33" stroke="#222" stroke-width="0.9" />
<text x="265.80" y="22.33" font-size="6.6" text-anchor="end" fill="#222" stroke="#222" stroke-width="0.07" textLength="12.80" lengthAdjust="spacingAndGlyphs" >1.75</text>
<line x1="273.08" y1="108.20" x2="273.08" y2="109.50" stroke="#222" stroke-width="0.8" />
<line x1="275.11" y1="108.20" x2="275.11" y2="109.50" stroke="#222" stroke-width="0.8" />
<line x1="276.90" y1="108.20" x2="276.90" y2="109.50" stroke="#222" stroke-width="0.8" />
<line x1="278.50" y1="108.20" x2="278.50" y2="110.40" stroke="#222" stroke-width="0.8" />
<line x1="289.04" y1="108.20" x2="289.04" y2="109.50" stroke="#222" stroke-width="0.8" />
<line x1="295.20" y1="108.20" x2="295.20" y2="109.50" stroke="#222" stroke-width="0.8" />
<line x1="299.57" y1="108.20" x2="299.57" y2="109.50" stroke="#222" stroke-width="0.8" />
<line x1="302.96" y1="108.20" x2="302.96" y2="109.50" stroke="#222" stroke-width="0.8" />
<line x1="305.74" y1="108.20" x2="305.74" y2="109.50" stroke="#222" stroke-width="0.8" />
<line x1="308.08" y1="108.20" x2="308.08" y2="109.50" stroke="#222" stroke-width="0.8" />
<line x1="310.11" y1="108.20" x2="310.11" y2="109.50" stroke="#222" stroke-width="0.8" />
<line x1="311.90" y1="108.20" x2="311.90" y2="109.50" stroke="#222" stroke-width="0.8" />
<line x1="313.50" y1="108.20" x2="313.50" y2="110.40" stroke="#222" stroke-width="0.8" />
<line x1="324.04" y1="108.20" x2="324.04" y2="109.50" stroke="#222" stroke-width="0.8" />
<line x1="330.20" y1="108.20" x2="330.20" y2="109.50" stroke="#222" stroke-width="0.8" />
<line x1="334.57" y1="108.20" x2="334.57" y2="109.50" stroke="#222" stroke-width="0.8" />
<line x1="337.96" y1="108.20" x2="337.96" y2="109.50" stroke="#222" stroke-width="0.8" />
<line x1="340.74" y1="108.20" x2="340.74" y2="109.50" stroke="#222" stroke-width="0.8" />
<line x1="343.08" y1="108.20" x2="343.08" y2="109.50" stroke="#222" stroke-width="0.8" />
<line x1="345.11" y1="108.20" x2="345.11" y2="109.50" stroke="#222" stroke-width="0.8" />
<line x1="346.90" y1="108.20" x2="346.90" y2="109.50" stroke="#222" stroke-width="0.8" />
<line x1="348.50" y1="108.20" x2="348.50" y2="110.40" stroke="#222" stroke-width="0.8" />
<line x1="359.04" y1="108.20" x2="359.04" y2="109.50" stroke="#222" stroke-width="0.8" />
<line x1="365.20" y1="108.20" x2="365.20" y2="109.50" stroke="#222" stroke-width="0.8" />
<text x="270.40" y="118.30" font-size="6.6" text-anchor="start" fill="#222" stroke="#222" stroke-width="0.07" textLength="13.60" lengthAdjust="spacingAndGlyphs" >1×10</text>
<text x="284.50" y="116.20" font-size="4.4" text-anchor="start" fill="#222" stroke="#222" stroke-width="0.07" >1</text>
<text x="305.40" y="118.30" font-size="6.6" text-anchor="start" fill="#222" stroke="#222" stroke-width="0.07" textLength="13.60" lengthAdjust="spacingAndGlyphs" >1×10</text>
<text x="319.50" y="116.20" font-size="4.4" text-anchor="start" fill="#222" stroke="#222" stroke-width="0.07" >2</text>
<text x="340.40" y="118.30" font-size="6.6" text-anchor="start" fill="#222" stroke="#222" stroke-width="0.07" textLength="13.60" lengthAdjust="spacingAndGlyphs" >1×10</text>
<text x="354.50" y="116.20" font-size="4.4" text-anchor="start" fill="#222" stroke="#222" stroke-width="0.07" >3</text>
<line x1="270.50" y1="20.50" x2="270.50" y2="108.65" stroke="#1a1a1a" stroke-width="1" />
<line x1="270.05" y1="108.20" x2="366.50" y2="108.20" stroke="#1a1a1a" stroke-width="1" />
<text x="245.20" y="64.50" font-size="8.8" text-anchor="middle" fill="#222" stroke="#222" stroke-width="0.07" textLength="76.00" lengthAdjust="spacingAndGlyphs" transform="rotate(-90 245.20 64.50)" >Cell count (fold of DMSO)</text>
<text x="318.00" y="138.00" font-size="6.7" text-anchor="middle" fill="#222" stroke="#222" stroke-width="0.07" textLength="42.50" lengthAdjust="spacingAndGlyphs" >Compound 11</text>
<line x1="267.80" y1="233.90" x2="270.50" y2="233.90" stroke="#222" stroke-width="0.9" />
<text x="265.80" y="233.90" font-size="6.6" text-anchor="end" fill="#222" stroke="#222" stroke-width="0.07" textLength="12.80" lengthAdjust="spacingAndGlyphs" >0.00</text>
<line x1="267.80" y1="221.63" x2="270.50" y2="221.63" stroke="#222" stroke-width="0.9" />
<text x="265.80" y="221.63" font-size="6.6" text-anchor="end" fill="#222" stroke="#222" stroke-width="0.07" textLength="12.80" lengthAdjust="spacingAndGlyphs" >0.25</text>
<line x1="267.80" y1="209.37" x2="270.50" y2="209.37" stroke="#222" stroke-width="0.9" />
<text x="265.80" y="209.37" font-size="6.6" text-anchor="end" fill="#222" stroke="#222" stroke-width="0.07" textLength="12.80" lengthAdjust="spacingAndGlyphs" >0.50</text>
<line x1="267.80" y1="197.10" x2="270.50" y2="197.10" stroke="#222" stroke-width="0.9" />
<text x="265.80" y="197.10" font-size="6.6" text-anchor="end" fill="#222" stroke="#222" stroke-width="0.07" textLength="12.80" lengthAdjust="spacingAndGlyphs" >0.75</text>
<line x1="267.80" y1="184.83" x2="270.50" y2="184.83" stroke="#222" stroke-width="0.9" />
<text x="265.80" y="184.83" font-size="6.6" text-anchor="end" fill="#222" stroke="#222" stroke-width="0.07" textLength="12.80" lengthAdjust="spacingAndGlyphs" >1.00</text>
<line x1="267.80" y1="172.56" x2="270.50" y2="172.56" stroke="#222" stroke-width="0.9" />
<text x="265.80" y="172.56" font-size="6.6" text-anchor="end" fill="#222" stroke="#222" stroke-width="0.07" textLength="12.80" lengthAdjust="spacingAndGlyphs" >1.25</text>
<line x1="267.80" y1="160.30" x2="270.50" y2="160.30" stroke="#222" stroke-width="0.9" />
<text x="265.80" y="160.30" font-size="6.6" text-anchor="end" fill="#222" stroke="#222" stroke-width="0.07" textLength="12.80" lengthAdjust="spacingAndGlyphs" >1.50</text>
<line x1="267.80" y1="148.03" x2="270.50" y2="148.03" stroke="#222" stroke-width="0.9" />
<text x="265.80" y="148.03" font-size="6.6" text-anchor="end" fill="#222" stroke="#222" stroke-width="0.07" textLength="12.80" lengthAdjust="spacingAndGlyphs" >1.75</text>
<line x1="273.08" y1="233.90" x2="273.08" y2="235.20" stroke="#222" stroke-width="0.8" />
<line x1="275.11" y1="233.90" x2="275.11" y2="235.20" stroke="#222" stroke-width="0.8" />
<line x1="276.90" y1="233.90" x2="276.90" y2="235.20" stroke="#222" stroke-width="0.8" />
<line x1="278.50" y1="233.90" x2="278.50" y2="236.10" stroke="#222" stroke-width="0.8" />
<line x1="289.04" y1="233.90" x2="289.04" y2="235.20" stroke="#222" stroke-width="0.8" />
<line x1="295.20" y1="233.90" x2="295.20" y2="235.20" stroke="#222" stroke-width="0.8" />
<line x1="299.57" y1="233.90" x2="299.57" y2="235.20" stroke="#222" stroke-width="0.8" />
<line x1="302.96" y1="233.90" x2="302.96" y2="235.20" stroke="#222" stroke-width="0.8" />
<line x1="305.74" y1="233.90" x2="305.74" y2="235.20" stroke="#222" stroke-width="0.8" />
<line x1="308.08" y1="233.90" x2="308.08" y2="235.20" stroke="#222" stroke-width="0.8" />
<line x1="310.11" y1="233.90" x2="310.11" y2="235.20" stroke="#222" stroke-width="0.8" />
<line x1="311.90" y1="233.90" x2="311.90" y2="235.20" stroke="#222" stroke-width="0.8" />
<line x1="313.50" y1="233.90" x2="313.50" y2="236.10" stroke="#222" stroke-width="0.8" />
<line x1="324.04" y1="233.90" x2="324.04" y2="235.20" stroke="#222" stroke-width="0.8" />
<line x1="330.20" y1="233.90" x2="330.20" y2="235.20" stroke="#222" stroke-width="0.8" />
<line x1="334.57" y1="233.90" x2="334.57" y2="235.20" stroke="#222" stroke-width="0.8" />
<line x1="337.96" y1="233.90" x2="337.96" y2="235.20" stroke="#222" stroke-width="0.8" />
<line x1="340.74" y1="233.90" x2="340.74" y2="235.20" stroke="#222" stroke-width="0.8" />
<line x1="343.08" y1="233.90" x2="343.08" y2="235.20" stroke="#222" stroke-width="0.8" />
<line x1="345.11" y1="233.90" x2="345.11" y2="235.20" stroke="#222" stroke-width="0.8" />
<line x1="346.90" y1="233.90" x2="346.90" y2="235.20" stroke="#222" stroke-width="0.8" />
<line x1="348.50" y1="233.90" x2="348.50" y2="236.10" stroke="#222" stroke-width="0.8" />
<line x1="359.04" y1="233.90" x2="359.04" y2="235.20" stroke="#222" stroke-width="0.8" />
<line x1="365.20" y1="233.90" x2="365.20" y2="235.20" stroke="#222" stroke-width="0.8" />
<text x="270.40" y="244.00" font-size="6.6" text-anchor="start" fill="#222" stroke="#222" stroke-width="0.07" textLength="13.60" lengthAdjust="spacingAndGlyphs" >1×10</text>
<text x="284.50" y="241.90" font-size="4.4" text-anchor="start" fill="#222" stroke="#222" stroke-width="0.07" >1</text>
<text x="305.40" y="244.00" font-size="6.6" text-anchor="start" fill="#222" stroke="#222" stroke-width="0.07" textLength="13.60" lengthAdjust="spacingAndGlyphs" >1×10</text>
<text x="319.50" y="241.90" font-size="4.4" text-anchor="start" fill="#222" stroke="#222" stroke-width="0.07" >2</text>
<text x="340.40" y="244.00" font-size="6.6" text-anchor="start" fill="#222" stroke="#222" stroke-width="0.07" textLength="13.60" lengthAdjust="spacingAndGlyphs" >1×10</text>
<text x="354.50" y="241.90" font-size="4.4" text-anchor="start" fill="#222" stroke="#222" stroke-width="0.07" >3</text>
<line x1="270.50" y1="146.20" x2="270.50" y2="234.35" stroke="#1a1a1a" stroke-width="1" />
<line x1="270.05" y1="233.90" x2="366.50" y2="233.90" stroke="#1a1a1a" stroke-width="1" />
<text x="245.20" y="190.20" font-size="8.8" text-anchor="middle" fill="#222" stroke="#222" stroke-width="0.07" textLength="76.00" lengthAdjust="spacingAndGlyphs" transform="rotate(-90 245.20 190.20)" >Cell count (fold of DMSO)</text>
<text x="316.50" y="255.30" font-size="8.8" text-anchor="middle" fill="#222" stroke="#222" stroke-width="0.07" textLength="73.00" lengthAdjust="spacingAndGlyphs" >Drug concentration (nM)</text>
<line x1="254.90" y1="273.30" x2="269.40" y2="273.30" stroke="#b0123f" stroke-width="1.3" />
<circle cx="262.1" cy="273.3" r="2.0" fill="#b0123f"/>
<text x="272.90" y="273.30" font-size="6.5" text-anchor="start" fill="#222" stroke="#222" stroke-width="0.07" textLength="91.00" lengthAdjust="spacingAndGlyphs" >EPZ5676-sensitive (IC50&lt;1mM)</text>
<line x1="254.90" y1="283.10" x2="269.40" y2="283.10" stroke="#2f5596" stroke-width="1.3" />
<circle cx="262.1" cy="283.1" r="2.0" fill="#2f5596"/>
<text x="272.90" y="283.10" font-size="6.5" text-anchor="start" fill="#222" stroke="#222" stroke-width="0.07" textLength="108.40" lengthAdjust="spacingAndGlyphs" >EPZ5676-intermediate (IC50 1-10μM)</text>
<line x1="254.90" y1="293.20" x2="269.40" y2="293.20" stroke="#e8a02c" stroke-width="1.3" />
<circle cx="262.1" cy="293.2" r="2.0" fill="#e8a02c"/>
<text x="272.90" y="293.20" font-size="6.5" text-anchor="start" fill="#222" stroke="#222" stroke-width="0.07" textLength="97.60" lengthAdjust="spacingAndGlyphs" >EPZ5676-insensitive (IC50&gt;10μM)</text>
<line x1="300.3" y1="34.81" x2="300.3" y2="44.41" stroke="#e8a02c" stroke-width="0.9" stroke-dasharray="1.4 0.6" opacity="0.6"/>
<path d="M299.2,34.81 H301.40000000000003 M299.2,44.41 H301.40000000000003" stroke="#e8a02c" stroke-width="0.7" opacity="0.6"/>
<rect x="299.40000000000003" y="38.71" width="1.8" height="1.8" fill="#e8a02c" opacity="0.9"/>
<line x1="310.8" y1="30.00" x2="310.8" y2="50.06" stroke="#e8a02c" stroke-width="0.9" stroke-dasharray="1.4 0.6" opacity="0.6"/>
<path d="M309.7,30.00 H311.90000000000003 M309.7,50.06 H311.90000000000003" stroke="#e8a02c" stroke-width="0.7" opacity="0.6"/>
<rect x="309.90000000000003" y="39.13" width="1.8" height="1.8" fill="#e8a02c" opacity="0.9"/>
<line x1="321.5" y1="37.48" x2="321.5" y2="44.48" stroke="#e8a02c" stroke-width="0.9" stroke-dasharray="1.4 0.6" opacity="0.6"/>
<path d="M320.4,37.48 H322.6 M320.4,44.48 H322.6" stroke="#e8a02c" stroke-width="0.7" opacity="0.6"/>
<rect x="320.6" y="40.08" width="1.8" height="1.8" fill="#e8a02c" opacity="0.9"/>
<line x1="332.3" y1="36.19" x2="332.3" y2="48.39" stroke="#e8a02c" stroke-width="0.9" stroke-dasharray="1.4 0.6" opacity="0.6"/>
<path d="M331.2,36.19 H333.40000000000003 M331.2,48.39 H333.40000000000003" stroke="#e8a02c" stroke-width="0.7" opacity="0.6"/>
<rect x="331.40000000000003" y="41.39" width="1.8" height="1.8" fill="#e8a02c" opacity="0.9"/>
<line x1="343.2" y1="40.08" x2="343.2" y2="54.88" stroke="#e8a02c" stroke-width="0.9" stroke-dasharray="1.4 0.6" opacity="0.6"/>
<path d="M342.09999999999997,40.08 H344.3 M342.09999999999997,54.88 H344.3" stroke="#e8a02c" stroke-width="0.7" opacity="0.6"/>
<rect x="342.3" y="46.58" width="1.8" height="1.8" fill="#e8a02c" opacity="0.9"/>
<line x1="354.2" y1="51.07" x2="354.2" y2="60.67" stroke="#e8a02c" stroke-width="0.9" stroke-dasharray="1.4 0.6" opacity="0.6"/>
<path d="M353.09999999999997,51.07 H355.3 M353.09999999999997,60.67 H355.3" stroke="#e8a02c" stroke-width="0.7" opacity="0.6"/>
<rect x="353.3" y="54.97" width="1.8" height="1.8" fill="#e8a02c" opacity="0.9"/>
<line x1="365.2" y1="59.63" x2="365.2" y2="71.83" stroke="#e8a02c" stroke-width="0.9" stroke-dasharray="1.4 0.6" opacity="0.6"/>
<path d="M364.09999999999997,59.63 H366.3 M364.09999999999997,71.83 H366.3" stroke="#e8a02c" stroke-width="0.7" opacity="0.6"/>
<rect x="364.3" y="64.83" width="1.8" height="1.8" fill="#e8a02c" opacity="0.9"/>
<line x1="300.3" y1="40.45" x2="300.3" y2="47.45" stroke="#e8a02c" stroke-width="0.9" stroke-dasharray="1.4 0.6" opacity="0.6"/>
<path d="M299.2,40.45 H301.40000000000003 M299.2,47.45 H301.40000000000003" stroke="#e8a02c" stroke-width="0.7" opacity="0.6"/>
<rect x="299.40000000000003" y="43.05" width="1.8" height="1.8" fill="#e8a02c" opacity="0.9"/>
<line x1="310.8" y1="41.48" x2="310.8" y2="48.48" stroke="#e8a02c" stroke-width="0.9" stroke-dasharray="1.4 0.6" opacity="0.6"/>
<path d="M309.7,41.48 H311.90000000000003 M309.7,48.48 H311.90000000000003" stroke="#e8a02c" stroke-width="0.7" opacity="0.6"/>
<rect x="309.90000000000003" y="44.08" width="1.8" height="1.8" fill="#e8a02c" opacity="0.9"/>
<line x1="321.5" y1="40.23" x2="321.5" y2="52.43" stroke="#e8a02c" stroke-width="0.9" stroke-dasharray="1.4 0.6" opacity="0.6"/>
<path d="M320.4,40.23 H322.6 M320.4,52.43 H322.6" stroke="#e8a02c" stroke-width="0.7" opacity="0.6"/>
<rect x="320.6" y="45.43" width="1.8" height="1.8" fill="#e8a02c" opacity="0.9"/>
<line x1="332.3" y1="37.89" x2="332.3" y2="57.89" stroke="#e8a02c" stroke-width="0.9" stroke-dasharray="1.4 0.6" opacity="0.6"/>
<path d="M331.2,37.89 H333.40000000000003 M331.2,57.89 H333.40000000000003" stroke="#e8a02c" stroke-width="0.7" opacity="0.6"/>
<rect x="331.40000000000003" y="46.99" width="1.8" height="1.8" fill="#e8a02c" opacity="0.9"/>
<line x1="343.2" y1="45.47" x2="343.2" y2="57.67" stroke="#e8a02c" stroke-width="0.9" stroke-dasharray="1.4 0.6" opacity="0.6"/>
<path d="M342.09999999999997,45.47 H344.3 M342.09999999999997,57.67 H344.3" stroke="#e8a02c" stroke-width="0.7" opacity="0.6"/>
<rect x="342.3" y="50.67" width="1.8" height="1.8" fill="#e8a02c" opacity="0.9"/>
<line x1="354.2" y1="51.62" x2="354.2" y2="66.42" stroke="#e8a02c" stroke-width="0.9" stroke-dasharray="1.4 0.6" opacity="0.6"/>
<path d="M353.09999999999997,51.62 H355.3 M353.09999999999997,66.42 H355.3" stroke="#e8a02c" stroke-width="0.7" opacity="0.6"/>
<rect x="353.3" y="58.12" width="1.8" height="1.8" fill="#e8a02c" opacity="0.9"/>
<line x1="365.2" y1="63.28" x2="365.2" y2="78.08" stroke="#e8a02c" stroke-width="0.9" stroke-dasharray="1.4 0.6" opacity="0.6"/>
<path d="M364.09999999999997,63.28 H366.3 M364.09999999999997,78.08 H366.3" stroke="#e8a02c" stroke-width="0.7" opacity="0.6"/>
<rect x="364.3" y="69.78" width="1.8" height="1.8" fill="#e8a02c" opacity="0.9"/>
<line x1="300.3" y1="46.32" x2="300.3" y2="55.92" stroke="#e8a02c" stroke-width="0.9" stroke-dasharray="1.4 0.6" opacity="0.6"/>
<path d="M299.2,46.32 H301.40000000000003 M299.2,55.92 H301.40000000000003" stroke="#e8a02c" stroke-width="0.7" opacity="0.6"/>
<rect x="299.40000000000003" y="50.22" width="1.8" height="1.8" fill="#e8a02c" opacity="0.9"/>
<line x1="310.8" y1="48.46" x2="310.8" y2="55.46" stroke="#e8a02c" stroke-width="0.9" stroke-dasharray="1.4 0.6" opacity="0.6"/>
<path d="M309.7,48.46 H311.90000000000003 M309.7,55.46 H311.90000000000003" stroke="#e8a02c" stroke-width="0.7" opacity="0.6"/>
<rect x="309.90000000000003" y="51.06" width="1.8" height="1.8" fill="#e8a02c" opacity="0.9"/>
<line x1="321.5" y1="48.36" x2="321.5" y2="57.96" stroke="#e8a02c" stroke-width="0.9" stroke-dasharray="1.4 0.6" opacity="0.6"/>
<path d="M320.4,48.36 H322.6 M320.4,57.96 H322.6" stroke="#e8a02c" stroke-width="0.7" opacity="0.6"/>
<rect x="320.6" y="52.26" width="1.8" height="1.8" fill="#e8a02c" opacity="0.9"/>
<line x1="332.3" y1="45.89" x2="332.3" y2="63.29" stroke="#e8a02c" stroke-width="0.9" stroke-dasharray="1.4 0.6" opacity="0.6"/>
<path d="M331.2,45.89 H333.40000000000003 M331.2,63.29 H333.40000000000003" stroke="#e8a02c" stroke-width="0.7" opacity="0.6"/>
<rect x="331.40000000000003" y="53.69" width="1.8" height="1.8" fill="#e8a02c" opacity="0.9"/>
<line x1="343.2" y1="46.35" x2="343.2" y2="68.95" stroke="#e8a02c" stroke-width="0.9" stroke-dasharray="1.4 0.6" opacity="0.6"/>
<path d="M342.09999999999997,46.35 H344.3 M342.09999999999997,68.95 H344.3" stroke="#e8a02c" stroke-width="0.7" opacity="0.6"/>
<rect x="342.3" y="56.75" width="1.8" height="1.8" fill="#e8a02c" opacity="0.9"/>
<line x1="354.2" y1="58.26" x2="354.2" y2="67.86" stroke="#e8a02c" stroke-width="0.9" stroke-dasharray="1.4 0.6" opacity="0.6"/>
<path d="M353.09999999999997,58.26 H355.3 M353.09999999999997,67.86 H355.3" stroke="#e8a02c" stroke-width="0.7" opacity="0.6"/>
<rect x="353.3" y="62.16" width="1.8" height="1.8" fill="#e8a02c" opacity="0.9"/>
<line x1="365.2" y1="66.64" x2="365.2" y2="78.84" stroke="#e8a02c" stroke-width="0.9" stroke-dasharray="1.4 0.6" opacity="0.6"/>
<path d="M364.09999999999997,66.64 H366.3 M364.09999999999997,78.84 H366.3" stroke="#e8a02c" stroke-width="0.7" opacity="0.6"/>
<rect x="364.3" y="71.84" width="1.8" height="1.8" fill="#e8a02c" opacity="0.9"/>
<line x1="300.3" y1="46.29" x2="300.3" y2="68.89" stroke="#e8a02c" stroke-width="0.9" stroke-dasharray="1.4 0.6" opacity="0.6"/>
<path d="M299.2,46.29 H301.40000000000003 M299.2,68.89 H301.40000000000003" stroke="#e8a02c" stroke-width="0.7" opacity="0.6"/>
<rect x="299.40000000000003" y="56.69" width="1.8" height="1.8" fill="#e8a02c" opacity="0.9"/>
<line x1="310.8" y1="49.25" x2="310.8" y2="66.65" stroke="#e8a02c" stroke-width="0.9" stroke-dasharray="1.4 0.6" opacity="0.6"/>
<path d="M309.7,49.25 H311.90000000000003 M309.7,66.65 H311.90000000000003" stroke="#e8a02c" stroke-width="0.7" opacity="0.6"/>
<rect x="309.90000000000003" y="57.05" width="1.8" height="1.8" fill="#e8a02c" opacity="0.9"/>
<line x1="321.5" y1="50.00" x2="321.5" y2="67.40" stroke="#e8a02c" stroke-width="0.9" stroke-dasharray="1.4 0.6" opacity="0.6"/>
<path d="M320.4,50.00 H322.6 M320.4,67.40 H322.6" stroke="#e8a02c" stroke-width="0.7" opacity="0.6"/>
<rect x="320.6" y="57.80" width="1.8" height="1.8" fill="#e8a02c" opacity="0.9"/>
<line x1="332.3" y1="48.39" x2="332.3" y2="70.99" stroke="#e8a02c" stroke-width="0.9" stroke-dasharray="1.4 0.6" opacity="0.6"/>
<path d="M331.2,48.39 H333.40000000000003 M331.2,70.99 H333.40000000000003" stroke="#e8a02c" stroke-width="0.7" opacity="0.6"/>
<rect x="331.40000000000003" y="58.79" width="1.8" height="1.8" fill="#e8a02c" opacity="0.9"/>
<line x1="343.2" y1="52.84" x2="343.2" y2="70.24" stroke="#e8a02c" stroke-width="0.9" stroke-dasharray="1.4 0.6" opacity="0.6"/>
<path d="M342.09999999999997,52.84 H344.3 M342.09999999999997,70.24 H344.3" stroke="#e8a02c" stroke-width="0.7" opacity="0.6"/>
<rect x="342.3" y="60.64" width="1.8" height="1.8" fill="#e8a02c" opacity="0.9"/>
<line x1="354.2" y1="58.63" x2="354.2" y2="73.43" stroke="#e8a02c" stroke-width="0.9" stroke-dasharray="1.4 0.6" opacity="0.6"/>
<path d="M353.09999999999997,58.63 H355.3 M353.09999999999997,73.43 H355.3" stroke="#e8a02c" stroke-width="0.7" opacity="0.6"/>
<rect x="353.3" y="65.12" width="1.8" height="1.8" fill="#e8a02c" opacity="0.9"/>
<line x1="365.2" y1="70.77" x2="365.2" y2="77.77" stroke="#e8a02c" stroke-width="0.9" stroke-dasharray="1.4 0.6" opacity="0.6"/>
<path d="M364.09999999999997,70.77 H366.3 M364.09999999999997,77.77 H366.3" stroke="#e8a02c" stroke-width="0.7" opacity="0.6"/>
<rect x="364.3" y="73.37" width="1.8" height="1.8" fill="#e8a02c" opacity="0.9"/>
<line x1="300.3" y1="57.98" x2="300.3" y2="67.58" stroke="#e8a02c" stroke-width="0.9" stroke-dasharray="1.4 0.6" opacity="0.6"/>
<path d="M299.2,57.98 H301.40000000000003 M299.2,67.58 H301.40000000000003" stroke="#e8a02c" stroke-width="0.7" opacity="0.6"/>
<rect x="299.40000000000003" y="61.88" width="1.8" height="1.8" fill="#e8a02c" opacity="0.9"/>
<line x1="310.8" y1="59.20" x2="310.8" y2="68.80" stroke="#e8a02c" stroke-width="0.9" stroke-dasharray="1.4 0.6" opacity="0.6"/>
<path d="M309.7,59.20 H311.90000000000003 M309.7,68.80 H311.90000000000003" stroke="#e8a02c" stroke-width="0.7" opacity="0.6"/>
<rect x="309.90000000000003" y="63.10" width="1.8" height="1.8" fill="#e8a02c" opacity="0.9"/>
<line x1="321.5" y1="58.96" x2="321.5" y2="71.16" stroke="#e8a02c" stroke-width="0.9" stroke-dasharray="1.4 0.6" opacity="0.6"/>
<path d="M320.4,58.96 H322.6 M320.4,71.16 H322.6" stroke="#e8a02c" stroke-width="0.7" opacity="0.6"/>
<rect x="320.6" y="64.16" width="1.8" height="1.8" fill="#e8a02c" opacity="0.9"/>
<line x1="332.3" y1="57.29" x2="332.3" y2="74.69" stroke="#e8a02c" stroke-width="0.9" stroke-dasharray="1.4 0.6" opacity="0.6"/>
<path d="M331.2,57.29 H333.40000000000003 M331.2,74.69 H333.40000000000003" stroke="#e8a02c" stroke-width="0.7" opacity="0.6"/>
<rect x="331.40000000000003" y="65.09" width="1.8" height="1.8" fill="#e8a02c" opacity="0.9"/>
<line x1="343.2" y1="60.14" x2="343.2" y2="77.54" stroke="#e8a02c" stroke-width="0.9" stroke-dasharray="1.4 0.6" opacity="0.6"/>
<path d="M342.09999999999997,60.14 H344.3 M342.09999999999997,77.54 H344.3" stroke="#e8a02c" stroke-width="0.7" opacity="0.6"/>
<rect x="342.3" y="67.94" width="1.8" height="1.8" fill="#e8a02c" opacity="0.9"/>
<line x1="354.2" y1="63.69" x2="354.2" y2="83.69" stroke="#e8a02c" stroke-width="0.9" stroke-dasharray="1.4 0.6" opacity="0.6"/>
<path d="M353.09999999999997,63.69 H355.3 M353.09999999999997,83.69 H355.3" stroke="#e8a02c" stroke-width="0.7" opacity="0.6"/>
<rect x="353.3" y="72.79" width="1.8" height="1.8" fill="#e8a02c" opacity="0.9"/>
<line x1="365.2" y1="70.81" x2="365.2" y2="90.81" stroke="#e8a02c" stroke-width="0.9" stroke-dasharray="1.4 0.6" opacity="0.6"/>
<path d="M364.09999999999997,70.81 H366.3 M364.09999999999997,90.81 H366.3" stroke="#e8a02c" stroke-width="0.7" opacity="0.6"/>
<rect x="364.3" y="79.91" width="1.8" height="1.8" fill="#e8a02c" opacity="0.9"/>
<line x1="300.3" y1="56.81" x2="300.3" y2="69.81" stroke="#2f5596" stroke-width="0.9" stroke-dasharray="1.4 0.6" opacity="0.6"/>
<path d="M299.2,56.81 H301.40000000000003 M299.2,69.81 H301.40000000000003" stroke="#2f5596" stroke-width="0.7" opacity="0.6"/>
<rect x="299.40000000000003" y="62.41" width="1.8" height="1.8" fill="#2f5596" opacity="0.9"/>
<line x1="310.8" y1="59.52" x2="310.8" y2="68.52" stroke="#2f5596" stroke-width="0.9" stroke-dasharray="1.4 0.6" opacity="0.6"/>
<path d="M309.7,59.52 H311.90000000000003 M309.7,68.52 H311.90000000000003" stroke="#2f5596" stroke-width="0.7" opacity="0.6"/>
<rect x="309.90000000000003" y="63.12" width="1.8" height="1.8" fill="#2f5596" opacity="0.9"/>
<line x1="321.5" y1="58.21" x2="321.5" y2="73.21" stroke="#2f5596" stroke-width="0.9" stroke-dasharray="1.4 0.6" opacity="0.6"/>
<path d="M320.4,58.21 H322.6 M320.4,73.21 H322.6" stroke="#2f5596" stroke-width="0.7" opacity="0.6"/>
<rect x="320.6" y="64.81" width="1.8" height="1.8" fill="#2f5596" opacity="0.9"/>
<line x1="332.3" y1="61.63" x2="332.3" y2="74.63" stroke="#2f5596" stroke-width="0.9" stroke-dasharray="1.4 0.6" opacity="0.6"/>
<path d="M331.2,61.63 H333.40000000000003 M331.2,74.63 H333.40000000000003" stroke="#2f5596" stroke-width="0.7" opacity="0.6"/>
<rect x="331.40000000000003" y="67.23" width="1.8" height="1.8" fill="#2f5596" opacity="0.9"/>
<line x1="343.2" y1="67.30" x2="343.2" y2="78.30" stroke="#2f5596" stroke-width="0.9" stroke-dasharray="1.4 0.6" opacity="0.6"/>
<path d="M342.09999999999997,67.30 H344.3 M342.09999999999997,78.30 H344.3" stroke="#2f5596" stroke-width="0.7" opacity="0.6"/>
<rect x="342.3" y="71.90" width="1.8" height="1.8" fill="#2f5596" opacity="0.9"/>
<line x1="354.2" y1="75.49" x2="354.2" y2="82.49" stroke="#2f5596" stroke-width="0.9" stroke-dasharray="1.4 0.6" opacity="0.6"/>
<path d="M353.09999999999997,75.49 H355.3 M353.09999999999997,82.49 H355.3" stroke="#2f5596" stroke-width="0.7" opacity="0.6"/>
<rect x="353.3" y="78.09" width="1.8" height="1.8" fill="#2f5596" opacity="0.9"/>
<line x1="365.2" y1="79.97" x2="365.2" y2="94.97" stroke="#2f5596" stroke-width="0.9" stroke-dasharray="1.4 0.6" opacity="0.6"/>
<path d="M364.09999999999997,79.97 H366.3 M364.09999999999997,94.97 H366.3" stroke="#2f5596" stroke-width="0.7" opacity="0.6"/>
<rect x="364.3" y="86.57" width="1.8" height="1.8" fill="#2f5596" opacity="0.9"/>
<line x1="300.3" y1="57.56" x2="300.3" y2="68.56" stroke="#2f5596" stroke-width="0.9" stroke-dasharray="1.4 0.6" opacity="0.6"/>
<path d="M299.2,57.56 H301.40000000000003 M299.2,68.56 H301.40000000000003" stroke="#2f5596" stroke-width="0.7" opacity="0.6"/>
<rect x="299.40000000000003" y="62.16" width="1.8" height="1.8" fill="#2f5596" opacity="0.9"/>
<line x1="310.8" y1="62.37" x2="310.8" y2="69.37" stroke="#2f5596" stroke-width="0.9" stroke-dasharray="1.4 0.6" opacity="0.6"/>
<path d="M309.7,62.37 H311.90000000000003 M309.7,69.37 H311.90000000000003" stroke="#2f5596" stroke-width="0.7" opacity="0.6"/>
<rect x="309.90000000000003" y="64.97" width="1.8" height="1.8" fill="#2f5596" opacity="0.9"/>
<line x1="321.5" y1="59.88" x2="321.5" y2="76.88" stroke="#2f5596" stroke-width="0.9" stroke-dasharray="1.4 0.6" opacity="0.6"/>
<path d="M320.4,59.88 H322.6 M320.4,76.88 H322.6" stroke="#2f5596" stroke-width="0.7" opacity="0.6"/>
<rect x="320.6" y="67.48" width="1.8" height="1.8" fill="#2f5596" opacity="0.9"/>
<line x1="332.3" y1="63.24" x2="332.3" y2="78.24" stroke="#2f5596" stroke-width="0.9" stroke-dasharray="1.4 0.6" opacity="0.6"/>
<path d="M331.2,63.24 H333.40000000000003 M331.2,78.24 H333.40000000000003" stroke="#2f5596" stroke-width="0.7" opacity="0.6"/>
<rect x="331.40000000000003" y="69.84" width="1.8" height="1.8" fill="#2f5596" opacity="0.9"/>
<line x1="343.2" y1="67.40" x2="343.2" y2="84.40" stroke="#2f5596" stroke-width="0.9" stroke-dasharray="1.4 0.6" opacity="0.6"/>
<path d="M342.09999999999997,67.40 H344.3 M342.09999999999997,84.40 H344.3" stroke="#2f5596" stroke-width="0.7" opacity="0.6"/>
<rect x="342.3" y="75.00" width="1.8" height="1.8" fill="#2f5596" opacity="0.9"/>
<line x1="354.2" y1="73.77" x2="354.2" y2="92.77" stroke="#2f5596" stroke-width="0.9" stroke-dasharray="1.4 0.6" opacity="0.6"/>
<path d="M353.09999999999997,73.77 H355.3 M353.09999999999997,92.77 H355.3" stroke="#2f5596" stroke-width="0.7" opacity="0.6"/>
<rect x="353.3" y="82.37" width="1.8" height="1.8" fill="#2f5596" opacity="0.9"/>
<line x1="365.2" y1="85.17" x2="365.2" y2="98.17" stroke="#2f5596" stroke-width="0.9" stroke-dasharray="1.4 0.6" opacity="0.6"/>
<path d="M364.09999999999997,85.17 H366.3 M364.09999999999997,98.17 H366.3" stroke="#2f5596" stroke-width="0.7" opacity="0.6"/>
<rect x="364.3" y="90.77" width="1.8" height="1.8" fill="#2f5596" opacity="0.9"/>
<line x1="300.3" y1="58.01" x2="300.3" y2="75.01" stroke="#2f5596" stroke-width="0.9" stroke-dasharray="1.4 0.6" opacity="0.6"/>
<path d="M299.2,58.01 H301.40000000000003 M299.2,75.01 H301.40000000000003" stroke="#2f5596" stroke-width="0.7" opacity="0.6"/>
<rect x="299.40000000000003" y="65.61" width="1.8" height="1.8" fill="#2f5596" opacity="0.9"/>
<line x1="310.8" y1="59.29" x2="310.8" y2="76.29" stroke="#2f5596" stroke-width="0.9" stroke-dasharray="1.4 0.6" opacity="0.6"/>
<path d="M309.7,59.29 H311.90000000000003 M309.7,76.29 H311.90000000000003" stroke="#2f5596" stroke-width="0.7" opacity="0.6"/>
<rect x="309.90000000000003" y="66.89" width="1.8" height="1.8" fill="#2f5596" opacity="0.9"/>
<line x1="321.5" y1="64.29" x2="321.5" y2="75.29" stroke="#2f5596" stroke-width="0.9" stroke-dasharray="1.4 0.6" opacity="0.6"/>
<path d="M320.4,64.29 H322.6 M320.4,75.29 H322.6" stroke="#2f5596" stroke-width="0.7" opacity="0.6"/>
<rect x="320.6" y="68.89" width="1.8" height="1.8" fill="#2f5596" opacity="0.9"/>
<line x1="332.3" y1="66.87" x2="332.3" y2="77.87" stroke="#2f5596" stroke-width="0.9" stroke-dasharray="1.4 0.6" opacity="0.6"/>
<path d="M331.2,66.87 H333.40000000000003 M331.2,77.87 H333.40000000000003" stroke="#2f5596" stroke-width="0.7" opacity="0.6"/>
<rect x="331.40000000000003" y="71.47" width="1.8" height="1.8" fill="#2f5596" opacity="0.9"/>
<line x1="343.2" y1="69.10" x2="343.2" y2="88.10" stroke="#2f5596" stroke-width="0.9" stroke-dasharray="1.4 0.6" opacity="0.6"/>
<path d="M342.09999999999997,69.10 H344.3 M342.09999999999997,88.10 H344.3" stroke="#2f5596" stroke-width="0.7" opacity="0.6"/>
<rect x="342.3" y="77.70" width="1.8" height="1.8" fill="#2f5596" opacity="0.9"/>
<line x1="354.2" y1="81.96" x2="354.2" y2="90.96" stroke="#2f5596" stroke-width="0.9" stroke-dasharray="1.4 0.6" opacity="0.6"/>
<path d="M353.09999999999997,81.96 H355.3 M353.09999999999997,90.96 H355.3" stroke="#2f5596" stroke-width="0.7" opacity="0.6"/>
<rect x="353.3" y="85.56" width="1.8" height="1.8" fill="#2f5596" opacity="0.9"/>
<line x1="365.2" y1="85.37" x2="365.2" y2="104.37" stroke="#2f5596" stroke-width="0.9" stroke-dasharray="1.4 0.6" opacity="0.6"/>
<path d="M364.09999999999997,85.37 H366.3 M364.09999999999997,104.37 H366.3" stroke="#2f5596" stroke-width="0.7" opacity="0.6"/>
<rect x="364.3" y="93.97" width="1.8" height="1.8" fill="#2f5596" opacity="0.9"/>
<line x1="300.3" y1="62.95" x2="300.3" y2="71.95" stroke="#2f5596" stroke-width="0.9" stroke-dasharray="1.4 0.6" opacity="0.6"/>
<path d="M299.2,62.95 H301.40000000000003 M299.2,71.95 H301.40000000000003" stroke="#2f5596" stroke-width="0.7" opacity="0.6"/>
<rect x="299.40000000000003" y="66.55" width="1.8" height="1.8" fill="#2f5596" opacity="0.9"/>
<line x1="310.8" y1="63.49" x2="310.8" y2="74.49" stroke="#2f5596" stroke-width="0.9" stroke-dasharray="1.4 0.6" opacity="0.6"/>
<path d="M309.7,63.49 H311.90000000000003 M309.7,74.49 H311.90000000000003" stroke="#2f5596" stroke-width="0.7" opacity="0.6"/>
<rect x="309.90000000000003" y="68.09" width="1.8" height="1.8" fill="#2f5596" opacity="0.9"/>
<line x1="321.5" y1="67.71" x2="321.5" y2="74.71" stroke="#2f5596" stroke-width="0.9" stroke-dasharray="1.4 0.6" opacity="0.6"/>
<path d="M320.4,67.71 H322.6 M320.4,74.71 H322.6" stroke="#2f5596" stroke-width="0.7" opacity="0.6"/>
<rect x="320.6" y="70.31" width="1.8" height="1.8" fill="#2f5596" opacity="0.9"/>
<line x1="332.3" y1="70.47" x2="332.3" y2="77.47" stroke="#2f5596" stroke-width="0.9" stroke-dasharray="1.4 0.6" opacity="0.6"/>
<path d="M331.2,70.47 H333.40000000000003 M331.2,77.47 H333.40000000000003" stroke="#2f5596" stroke-width="0.7" opacity="0.6"/>
<rect x="331.40000000000003" y="73.07" width="1.8" height="1.8" fill="#2f5596" opacity="0.9"/>
<line x1="343.2" y1="72.70" x2="343.2" y2="87.70" stroke="#2f5596" stroke-width="0.9" stroke-dasharray="1.4 0.6" opacity="0.6"/>
<path d="M342.09999999999997,72.70 H344.3 M342.09999999999997,87.70 H344.3" stroke="#2f5596" stroke-width="0.7" opacity="0.6"/>
<rect x="342.3" y="79.30" width="1.8" height="1.8" fill="#2f5596" opacity="0.9"/>
<line x1="354.2" y1="84.05" x2="354.2" y2="93.05" stroke="#2f5596" stroke-width="0.9" stroke-dasharray="1.4 0.6" opacity="0.6"/>
<path d="M353.09999999999997,84.05 H355.3 M353.09999999999997,93.05 H355.3" stroke="#2f5596" stroke-width="0.7" opacity="0.6"/>
<rect x="353.3" y="87.65" width="1.8" height="1.8" fill="#2f5596" opacity="0.9"/>
<line x1="365.2" y1="93.54" x2="365.2" y2="102.54" stroke="#2f5596" stroke-width="0.9" stroke-dasharray="1.4 0.6" opacity="0.6"/>
<path d="M364.09999999999997,93.54 H366.3 M364.09999999999997,102.54 H366.3" stroke="#2f5596" stroke-width="0.7" opacity="0.6"/>
<rect x="364.3" y="97.14" width="1.8" height="1.8" fill="#2f5596" opacity="0.9"/>
<line x1="300.3" y1="62.28" x2="300.3" y2="73.28" stroke="#2f5596" stroke-width="0.9" stroke-dasharray="1.4 0.6" opacity="0.6"/>
<path d="M299.2,62.28 H301.40000000000003 M299.2,73.28 H301.40000000000003" stroke="#2f5596" stroke-width="0.7" opacity="0.6"/>
<rect x="299.40000000000003" y="66.88" width="1.8" height="1.8" fill="#2f5596" opacity="0.9"/>
<line x1="310.8" y1="74.27" x2="310.8" y2="81.27" stroke="#2f5596" stroke-width="0.9" stroke-dasharray="1.4 0.6" opacity="0.6"/>
<path d="M309.7,74.27 H311.90000000000003 M309.7,81.27 H311.90000000000003" stroke="#2f5596" stroke-width="0.7" opacity="0.6"/>
<rect x="309.90000000000003" y="76.87" width="1.8" height="1.8" fill="#2f5596" opacity="0.9"/>
<line x1="321.5" y1="82.50" x2="321.5" y2="101.50" stroke="#2f5596" stroke-width="0.9" stroke-dasharray="1.4 0.6" opacity="0.6"/>
<path d="M320.4,82.50 H322.6 M320.4,101.50 H322.6" stroke="#2f5596" stroke-width="0.7" opacity="0.6"/>
<rect x="320.6" y="91.10" width="1.8" height="1.8" fill="#2f5596" opacity="0.9"/>
<line x1="332.3" y1="97.22" x2="332.3" y2="108.00" stroke="#2f5596" stroke-width="0.9" stroke-dasharray="1.4 0.6" opacity="0.6"/>
<path d="M331.2,97.22 H333.40000000000003 M331.2,108.00 H333.40000000000003" stroke="#2f5596" stroke-width="0.7" opacity="0.6"/>
<rect x="331.40000000000003" y="101.82" width="1.8" height="1.8" fill="#2f5596" opacity="0.9"/>
<line x1="343.2" y1="97.34" x2="343.2" y2="108.00" stroke="#2f5596" stroke-width="0.9" stroke-dasharray="1.4 0.6" opacity="0.6"/>
<path d="M342.09999999999997,97.34 H344.3 M342.09999999999997,108.00 H344.3" stroke="#2f5596" stroke-width="0.7" opacity="0.6"/>
<rect x="342.3" y="105.94" width="1.8" height="1.8" fill="#2f5596" opacity="0.9"/>
<line x1="354.2" y1="102.23" x2="354.2" y2="108.00" stroke="#2f5596" stroke-width="0.9" stroke-dasharray="1.4 0.6" opacity="0.6"/>
<path d="M353.09999999999997,102.23 H355.3 M353.09999999999997,108.00 H355.3" stroke="#2f5596" stroke-width="0.7" opacity="0.6"/>
<rect x="353.3" y="106.83" width="1.8" height="1.8" fill="#2f5596" opacity="0.9"/>
<line x1="365.2" y1="101.49" x2="365.2" y2="108.00" stroke="#2f5596" stroke-width="0.9" stroke-dasharray="1.4 0.6" opacity="0.6"/>
<path d="M364.09999999999997,101.49 H366.3 M364.09999999999997,108.00 H366.3" stroke="#2f5596" stroke-width="0.7" opacity="0.6"/>
<rect x="364.3" y="107.09" width="1.8" height="1.8" fill="#2f5596" opacity="0.9"/>
<line x1="300.3" y1="63.13" x2="300.3" y2="72.13" stroke="#b0123f" stroke-width="0.9" stroke-dasharray="1.4 0.6" opacity="0.6"/>
<path d="M299.2,63.13 H301.40000000000003 M299.2,72.13 H301.40000000000003" stroke="#b0123f" stroke-width="0.7" opacity="0.6"/>
<rect x="299.40000000000003" y="66.73" width="1.8" height="1.8" fill="#b0123f" opacity="0.9"/>
<line x1="310.8" y1="70.41" x2="310.8" y2="81.41" stroke="#b0123f" stroke-width="0.9" stroke-dasharray="1.4 0.6" opacity="0.6"/>
<path d="M309.7,70.41 H311.90000000000003 M309.7,81.41 H311.90000000000003" stroke="#b0123f" stroke-width="0.7" opacity="0.6"/>
<rect x="309.90000000000003" y="75.01" width="1.8" height="1.8" fill="#b0123f" opacity="0.9"/>
<line x1="321.5" y1="83.62" x2="321.5" y2="92.62" stroke="#b0123f" stroke-width="0.9" stroke-dasharray="1.4 0.6" opacity="0.6"/>
<path d="M320.4,83.62 H322.6 M320.4,92.62 H322.6" stroke="#b0123f" stroke-width="0.7" opacity="0.6"/>
<rect x="320.6" y="87.22" width="1.8" height="1.8" fill="#b0123f" opacity="0.9"/>
<line x1="332.3" y1="94.17" x2="332.3" y2="107.17" stroke="#b0123f" stroke-width="0.9" stroke-dasharray="1.4 0.6" opacity="0.6"/>
<path d="M331.2,94.17 H333.40000000000003 M331.2,107.17 H333.40000000000003" stroke="#b0123f" stroke-width="0.7" opacity="0.6"/>
<rect x="331.40000000000003" y="99.77" width="1.8" height="1.8" fill="#b0123f" opacity="0.9"/>
<line x1="343.2" y1="97.05" x2="343.2" y2="108.00" stroke="#b0123f" stroke-width="0.9" stroke-dasharray="1.4 0.6" opacity="0.6"/>
<path d="M342.09999999999997,97.05 H344.3 M342.09999999999997,108.00 H344.3" stroke="#b0123f" stroke-width="0.7" opacity="0.6"/>
<rect x="342.3" y="105.65" width="1.8" height="1.8" fill="#b0123f" opacity="0.9"/>
<line x1="354.2" y1="102.12" x2="354.2" y2="108.00" stroke="#b0123f" stroke-width="0.9" stroke-dasharray="1.4 0.6" opacity="0.6"/>
<path d="M353.09999999999997,102.12 H355.3 M353.09999999999997,108.00 H355.3" stroke="#b0123f" stroke-width="0.7" opacity="0.6"/>
<rect x="353.3" y="106.72" width="1.8" height="1.8" fill="#b0123f" opacity="0.9"/>
<line x1="365.2" y1="101.49" x2="365.2" y2="108.00" stroke="#b0123f" stroke-width="0.9" stroke-dasharray="1.4 0.6" opacity="0.6"/>
<path d="M364.09999999999997,101.49 H366.3 M364.09999999999997,108.00 H366.3" stroke="#b0123f" stroke-width="0.7" opacity="0.6"/>
<rect x="364.3" y="107.09" width="1.8" height="1.8" fill="#b0123f" opacity="0.9"/>
<line x1="300.3" y1="58.08" x2="300.3" y2="75.08" stroke="#b0123f" stroke-width="0.9" stroke-dasharray="1.4 0.6" opacity="0.6"/>
<path d="M299.2,58.08 H301.40000000000003 M299.2,75.08 H301.40000000000003" stroke="#b0123f" stroke-width="0.7" opacity="0.6"/>
<rect x="299.40000000000003" y="65.68" width="1.8" height="1.8" fill="#b0123f" opacity="0.9"/>
<line x1="310.8" y1="62.95" x2="310.8" y2="75.95" stroke="#b0123f" stroke-width="0.9" stroke-dasharray="1.4 0.6" opacity="0.6"/>
<path d="M309.7,62.95 H311.90000000000003 M309.7,75.95 H311.90000000000003" stroke="#b0123f" stroke-width="0.7" opacity="0.6"/>
<rect x="309.90000000000003" y="68.55" width="1.8" height="1.8" fill="#b0123f" opacity="0.9"/>
<line x1="321.5" y1="72.61" x2="321.5" y2="79.61" stroke="#b0123f" stroke-width="0.9" stroke-dasharray="1.4 0.6" opacity="0.6"/>
<path d="M320.4,72.61 H322.6 M320.4,79.61 H322.6" stroke="#b0123f" stroke-width="0.7" opacity="0.6"/>
<rect x="320.6" y="75.21" width="1.8" height="1.8" fill="#b0123f" opacity="0.9"/>
<line x1="332.3" y1="84.48" x2="332.3" y2="91.48" stroke="#b0123f" stroke-width="0.9" stroke-dasharray="1.4 0.6" opacity="0.6"/>
<path d="M331.2,84.48 H333.40000000000003 M331.2,91.48 H333.40000000000003" stroke="#b0123f" stroke-width="0.7" opacity="0.6"/>
<rect x="331.40000000000003" y="87.08" width="1.8" height="1.8" fill="#b0123f" opacity="0.9"/>
<line x1="343.2" y1="92.80" x2="343.2" y2="103.80" stroke="#b0123f" stroke-width="0.9" stroke-dasharray="1.4 0.6" opacity="0.6"/>
<path d="M342.09999999999997,92.80 H344.3 M342.09999999999997,103.80 H344.3" stroke="#b0123f" stroke-width="0.7" opacity="0.6"/>
<rect x="342.3" y="97.40" width="1.8" height="1.8" fill="#b0123f" opacity="0.9"/>
<line x1="354.2" y1="101.09" x2="354.2" y2="108.00" stroke="#b0123f" stroke-width="0.9" stroke-dasharray="1.4 0.6" opacity="0.6"/>
<path d="M353.09999999999997,101.09 H355.3 M353.09999999999997,108.00 H355.3" stroke="#b0123f" stroke-width="0.7" opacity="0.6"/>
<rect x="353.3" y="103.69" width="1.8" height="1.8" fill="#b0123f" opacity="0.9"/>
<line x1="365.2" y1="97.24" x2="365.2" y2="108.00" stroke="#b0123f" stroke-width="0.9" stroke-dasharray="1.4 0.6" opacity="0.6"/>
<path d="M364.09999999999997,97.24 H366.3 M364.09999999999997,108.00 H366.3" stroke="#b0123f" stroke-width="0.7" opacity="0.6"/>
<rect x="364.3" y="105.84" width="1.8" height="1.8" fill="#b0123f" opacity="0.9"/>
<line x1="300.3" y1="81.81" x2="300.3" y2="96.81" stroke="#b0123f" stroke-width="0.9" stroke-dasharray="1.4 0.6" opacity="0.6"/>
<path d="M299.2,81.81 H301.40000000000003 M299.2,96.81 H301.40000000000003" stroke="#b0123f" stroke-width="0.7" opacity="0.6"/>
<rect x="299.40000000000003" y="88.41" width="1.8" height="1.8" fill="#b0123f" opacity="0.9"/>
<line x1="310.8" y1="91.39" x2="310.8" y2="102.39" stroke="#b0123f" stroke-width="0.9" stroke-dasharray="1.4 0.6" opacity="0.6"/>
<path d="M309.7,91.39 H311.90000000000003 M309.7,102.39 H311.90000000000003" stroke="#b0123f" stroke-width="0.7" opacity="0.6"/>
<rect x="309.90000000000003" y="95.99" width="1.8" height="1.8" fill="#b0123f" opacity="0.9"/>
<line x1="321.5" y1="93.79" x2="321.5" y2="106.79" stroke="#b0123f" stroke-width="0.9" stroke-dasharray="1.4 0.6" opacity="0.6"/>
<path d="M320.4,93.79 H322.6 M320.4,106.79 H322.6" stroke="#b0123f" stroke-width="0.7" opacity="0.6"/>
<rect x="320.6" y="99.39" width="1.8" height="1.8" fill="#b0123f" opacity="0.9"/>
<line x1="332.3" y1="92.82" x2="332.3" y2="108.00" stroke="#b0123f" stroke-width="0.9" stroke-dasharray="1.4 0.6" opacity="0.6"/>
<path d="M331.2,92.82 H333.40000000000003 M331.2,108.00 H333.40000000000003" stroke="#b0123f" stroke-width="0.7" opacity="0.6"/>
<rect x="331.40000000000003" y="100.42" width="1.8" height="1.8" fill="#b0123f" opacity="0.9"/>
<line x1="343.2" y1="92.54" x2="343.2" y2="108.00" stroke="#b0123f" stroke-width="0.9" stroke-dasharray="1.4 0.6" opacity="0.6"/>
<path d="M342.09999999999997,92.54 H344.3 M342.09999999999997,108.00 H344.3" stroke="#b0123f" stroke-width="0.7" opacity="0.6"/>
<rect x="342.3" y="101.14" width="1.8" height="1.8" fill="#b0123f" opacity="0.9"/>
<line x1="354.2" y1="92.67" x2="354.2" y2="108.00" stroke="#b0123f" stroke-width="0.9" stroke-dasharray="1.4 0.6" opacity="0.6"/>
<path d="M353.09999999999997,92.67 H355.3 M353.09999999999997,108.00 H355.3" stroke="#b0123f" stroke-width="0.7" opacity="0.6"/>
<rect x="353.3" y="101.27" width="1.8" height="1.8" fill="#b0123f" opacity="0.9"/>
<line x1="365.2" y1="98.80" x2="365.2" y2="105.80" stroke="#b0123f" stroke-width="0.9" stroke-dasharray="1.4 0.6" opacity="0.6"/>
<path d="M364.09999999999997,98.80 H366.3 M364.09999999999997,105.80 H366.3" stroke="#b0123f" stroke-width="0.7" opacity="0.6"/>
<rect x="364.3" y="101.40" width="1.8" height="1.8" fill="#b0123f" opacity="0.9"/>
<line x1="300.3" y1="93.40" x2="300.3" y2="102.40" stroke="#b0123f" stroke-width="0.9" stroke-dasharray="1.4 0.6" opacity="0.6"/>
<path d="M299.2,93.40 H301.40000000000003 M299.2,102.40 H301.40000000000003" stroke="#b0123f" stroke-width="0.7" opacity="0.6"/>
<rect x="299.40000000000003" y="97.00" width="1.8" height="1.8" fill="#b0123f" opacity="0.9"/>
<line x1="310.8" y1="97.08" x2="310.8" y2="108.00" stroke="#b0123f" stroke-width="0.9" stroke-dasharray="1.4 0.6" opacity="0.6"/>
<path d="M309.7,97.08 H311.90000000000003 M309.7,108.00 H311.90000000000003" stroke="#b0123f" stroke-width="0.7" opacity="0.6"/>
<rect x="309.90000000000003" y="103.68" width="1.8" height="1.8" fill="#b0123f" opacity="0.9"/>
<line x1="321.5" y1="102.18" x2="321.5" y2="108.00" stroke="#b0123f" stroke-width="0.9" stroke-dasharray="1.4 0.6" opacity="0.6"/>
<path d="M320.4,102.18 H322.6 M320.4,108.00 H322.6" stroke="#b0123f" stroke-width="0.7" opacity="0.6"/>
<rect x="320.6" y="105.78" width="1.8" height="1.8" fill="#b0123f" opacity="0.9"/>
<line x1="332.3" y1="102.76" x2="332.3" y2="108.00" stroke="#b0123f" stroke-width="0.9" stroke-dasharray="1.4 0.6" opacity="0.6"/>
<path d="M331.2,102.76 H333.40000000000003 M331.2,108.00 H333.40000000000003" stroke="#b0123f" stroke-width="0.7" opacity="0.6"/>
<rect x="331.40000000000003" y="106.36" width="1.8" height="1.8" fill="#b0123f" opacity="0.9"/>
<line x1="343.2" y1="102.93" x2="343.2" y2="108.00" stroke="#b0123f" stroke-width="0.9" stroke-dasharray="1.4 0.6" opacity="0.6"/>
<path d="M342.09999999999997,102.93 H344.3 M342.09999999999997,108.00 H344.3" stroke="#b0123f" stroke-width="0.7" opacity="0.6"/>
<rect x="342.3" y="106.53" width="1.8" height="1.8" fill="#b0123f" opacity="0.9"/>
<line x1="354.2" y1="102.96" x2="354.2" y2="108.00" stroke="#b0123f" stroke-width="0.9" stroke-dasharray="1.4 0.6" opacity="0.6"/>
<path d="M353.09999999999997,102.96 H355.3 M353.09999999999997,108.00 H355.3" stroke="#b0123f" stroke-width="0.7" opacity="0.6"/>
<rect x="353.3" y="106.56" width="1.8" height="1.8" fill="#b0123f" opacity="0.9"/>
<line x1="365.2" y1="103.00" x2="365.2" y2="108.00" stroke="#b0123f" stroke-width="0.9" stroke-dasharray="1.4 0.6" opacity="0.6"/>
<path d="M364.09999999999997,103.00 H366.3 M364.09999999999997,108.00 H366.3" stroke="#b0123f" stroke-width="0.7" opacity="0.6"/>
<rect x="364.3" y="106.60" width="1.8" height="1.8" fill="#b0123f" opacity="0.9"/>
<path d="M270.50,54.50 C270.92,53.74 272.17,51.25 273.00,49.97 C273.83,48.68 274.67,47.69 275.50,46.79 C276.33,45.89 277.17,45.20 278.00,44.57 C278.83,43.94 279.67,43.46 280.50,43.02 C281.33,42.58 282.17,42.24 283.00,41.93 C283.83,41.62 284.67,41.39 285.50,41.17 C286.33,40.96 287.17,40.79 288.00,40.64 C288.83,40.49 289.67,40.37 290.50,40.27 C291.33,40.16 292.17,40.08 293.00,40.01 C293.83,39.93 294.67,39.88 295.50,39.82 C296.33,39.77 297.17,39.73 298.00,39.70 C298.83,39.66 297.67,39.52 300.50,39.61 C303.33,39.69 309.68,39.75 315.00,40.20 C320.32,40.65 327.72,41.10 332.40,42.30 C337.08,43.50 339.52,45.18 343.10,47.40 C346.68,49.62 350.17,52.50 353.90,55.60 C357.63,58.70 363.57,64.27 365.50,66.00" stroke="#e8a02c" stroke-width="1.15" fill="none" />
<path d="M270.50,54.50 C270.92,53.96 272.17,52.20 273.00,51.29 C273.83,50.38 274.67,49.68 275.50,49.04 C276.33,48.40 277.17,47.91 278.00,47.46 C278.83,47.02 279.67,46.68 280.50,46.36 C281.33,46.05 282.17,45.81 283.00,45.59 C283.83,45.38 284.67,45.21 285.50,45.06 C286.33,44.90 287.17,44.79 288.00,44.68 C288.83,44.57 289.67,44.49 290.50,44.41 C291.33,44.34 292.17,44.28 293.00,44.23 C293.83,44.18 294.67,44.14 295.50,44.10 C296.33,44.06 297.17,44.04 298.00,44.01 C298.83,43.98 297.67,43.72 300.50,43.95 C303.33,44.18 309.68,44.74 315.00,45.40 C320.32,46.06 327.72,46.88 332.40,47.90 C337.08,48.92 339.52,49.70 343.10,51.50 C346.68,53.30 350.17,55.45 353.90,58.70 C357.63,61.95 363.57,68.95 365.50,71.00" stroke="#e8a02c" stroke-width="1.15" fill="none" />
<path d="M270.50,54.50 C270.92,54.31 272.17,53.66 273.00,53.34 C273.83,53.02 274.67,52.79 275.50,52.58 C276.33,52.37 277.17,52.21 278.00,52.07 C278.83,51.93 279.67,51.83 280.50,51.74 C281.33,51.65 282.17,51.58 283.00,51.52 C283.83,51.46 284.67,51.42 285.50,51.38 C286.33,51.34 287.17,51.31 288.00,51.28 C288.83,51.26 289.67,51.24 290.50,51.22 C291.33,51.20 292.17,51.19 293.00,51.18 C293.83,51.17 294.67,51.16 295.50,51.15 C296.33,51.15 297.17,51.14 298.00,51.13 C298.83,51.13 297.67,50.93 300.50,51.12 C303.33,51.32 309.68,51.72 315.00,52.30 C320.32,52.88 327.72,53.72 332.40,54.60 C337.08,55.48 339.52,56.23 343.10,57.60 C346.68,58.97 350.17,60.23 353.90,62.80 C357.63,65.37 363.57,71.30 365.50,73.00" stroke="#e8a02c" stroke-width="1.15" fill="none" />
<path d="M270.50,54.50 C270.92,54.70 272.17,55.39 273.00,55.72 C273.83,56.05 274.67,56.26 275.50,56.46 C276.33,56.66 277.17,56.79 278.00,56.91 C278.83,57.03 279.67,57.11 280.50,57.18 C281.33,57.25 282.17,57.30 283.00,57.35 C283.83,57.39 284.67,57.42 285.50,57.45 C286.33,57.47 287.17,57.49 288.00,57.51 C288.83,57.52 289.67,57.53 290.50,57.54 C291.33,57.55 292.17,57.56 293.00,57.57 C293.83,57.57 294.67,57.58 295.50,57.58 C296.33,57.58 297.17,57.59 298.00,57.59 C298.83,57.59 297.67,57.51 300.50,57.59 C303.33,57.68 309.68,57.75 315.00,58.10 C320.32,58.45 327.72,59.13 332.40,59.70 C337.08,60.27 339.52,60.48 343.10,61.50 C346.68,62.52 350.17,63.63 353.90,65.80 C357.63,67.97 363.57,73.05 365.50,74.50" stroke="#e8a02c" stroke-width="1.15" fill="none" />
<path d="M270.50,55.50 C270.92,55.98 272.17,57.60 273.00,58.37 C273.83,59.14 274.67,59.65 275.50,60.11 C276.33,60.58 277.17,60.89 278.00,61.17 C278.83,61.45 279.67,61.64 280.50,61.81 C281.33,61.98 282.17,62.10 283.00,62.20 C283.83,62.30 284.67,62.37 285.50,62.44 C286.33,62.50 287.17,62.54 288.00,62.58 C288.83,62.62 289.67,62.64 290.50,62.67 C291.33,62.69 292.17,62.70 293.00,62.72 C293.83,62.73 294.67,62.74 295.50,62.75 C296.33,62.76 297.17,62.76 298.00,62.77 C298.83,62.78 297.67,62.49 300.50,62.78 C303.33,63.07 309.68,63.96 315.00,64.50 C320.32,65.04 327.72,65.28 332.40,66.00 C337.08,66.72 339.52,67.55 343.10,68.80 C346.68,70.05 350.17,71.47 353.90,73.50 C357.63,75.53 363.57,79.75 365.50,81.00" stroke="#e8a02c" stroke-width="1.15" fill="none" />
<path d="M270.50,55.30 C273.48,56.18 283.72,59.28 288.40,60.60 C293.08,61.92 294.17,62.58 298.60,63.20 C303.03,63.82 309.43,63.50 315.00,64.30 C320.57,65.10 327.30,66.58 332.00,68.00 C336.70,69.42 339.47,70.95 343.20,72.80 C346.93,74.65 350.68,76.62 354.40,79.10 C358.12,81.58 363.65,86.27 365.50,87.70" stroke="#2f5596" stroke-width="1.15" fill="none" />
<path d="M270.50,61.80 C275.18,61.93 291.18,61.73 298.60,62.60 C306.02,63.47 309.43,65.67 315.00,67.00 C320.57,68.33 327.30,69.12 332.00,70.60 C336.70,72.08 339.47,73.77 343.20,75.90 C346.93,78.03 350.68,80.73 354.40,83.40 C358.12,86.07 363.65,90.48 365.50,91.90" stroke="#2f5596" stroke-width="1.15" fill="none" />
<path d="M270.50,66.20 C275.18,66.22 291.18,65.95 298.60,66.30 C306.02,66.65 309.43,67.32 315.00,68.30 C320.57,69.28 327.30,70.48 332.00,72.20 C336.70,73.92 339.47,76.20 343.20,78.60 C346.93,81.00 350.68,83.85 354.40,86.60 C358.12,89.35 363.65,93.68 365.50,95.10" stroke="#2f5596" stroke-width="1.15" fill="none" />
<path d="M270.50,67.20 C275.18,67.20 291.18,66.80 298.60,67.20 C306.02,67.60 309.43,68.50 315.00,69.60 C320.57,70.70 327.30,72.03 332.00,73.80 C336.70,75.57 339.47,77.72 343.20,80.20 C346.93,82.68 350.68,85.68 354.40,88.70 C358.12,91.72 363.65,96.70 365.50,98.30" stroke="#2f5596" stroke-width="1.15" fill="none" />
<path d="M270.50,55.50 C273.42,56.25 283.08,58.00 288.00,60.00 C292.92,62.00 296.23,64.58 300.00,67.50 C303.77,70.42 307.03,73.43 310.60,77.50 C314.17,81.57 317.83,87.72 321.40,91.90 C324.97,96.08 328.45,100.12 332.00,102.60 C335.55,105.08 338.87,105.93 342.70,106.80 C346.53,107.67 351.20,107.60 355.00,107.80 C358.80,108.00 363.75,107.97 365.50,108.00" stroke="#2f5596" stroke-width="1.15" fill="none" />
<path d="M270.50,57.60 C273.48,58.25 283.48,59.87 288.40,61.50 C293.32,63.13 296.40,65.15 300.00,67.40 C303.60,69.65 306.43,71.57 310.00,75.00 C313.57,78.43 317.73,83.75 321.40,88.00 C325.07,92.25 328.45,97.42 332.00,100.50 C335.55,103.58 338.87,105.30 342.70,106.50 C346.53,107.70 351.20,107.45 355.00,107.70 C358.80,107.95 363.75,107.95 365.50,108.00" stroke="#b0123f" stroke-width="1.15" fill="none" />
<path d="M270.50,59.00 C273.75,59.75 285.08,62.25 290.00,63.50 C294.92,64.75 295.83,65.32 300.00,66.50 C304.17,67.68 311.43,69.02 315.00,70.60 C318.57,72.18 318.57,73.15 321.40,76.00 C324.23,78.85 328.37,83.98 332.00,87.70 C335.63,91.42 339.47,95.47 343.20,98.30 C346.93,101.13 350.68,103.28 354.40,104.70 C358.12,106.12 363.65,106.45 365.50,106.80" stroke="#b0123f" stroke-width="1.15" fill="none" />
<path d="M270.50,60.80 C272.85,62.72 280.42,68.35 284.60,72.30 C288.78,76.25 292.30,80.97 295.60,84.50 C298.90,88.03 301.27,91.12 304.40,93.50 C307.53,95.88 311.47,97.65 314.40,98.80 C317.33,99.95 317.73,99.87 322.00,100.40 C326.27,100.93 332.75,101.68 340.00,102.00 C347.25,102.32 361.25,102.25 365.50,102.30" stroke="#b0123f" stroke-width="1.15" fill="none" />
<path d="M270.50,61.30 C271.92,63.33 275.73,69.08 279.00,73.50 C282.27,77.92 286.60,83.77 290.10,87.80 C293.60,91.83 296.68,94.93 300.00,97.70 C303.32,100.47 306.67,102.92 310.00,104.40 C313.33,105.88 315.83,106.10 320.00,106.60 C324.17,107.10 327.42,107.25 335.00,107.40 C342.58,107.55 360.42,107.48 365.50,107.50" stroke="#b0123f" stroke-width="1.15" fill="none" />
<line x1="300.3" y1="166.21" x2="300.3" y2="173.21" stroke="#e8a02c" stroke-width="0.9" stroke-dasharray="1.4 0.6" opacity="0.6"/>
<path d="M299.2,166.21 H301.40000000000003 M299.2,173.21 H301.40000000000003" stroke="#e8a02c" stroke-width="0.7" opacity="0.6"/>
<rect x="299.40000000000003" y="168.81" width="1.8" height="1.8" fill="#e8a02c" opacity="0.9"/>
<line x1="310.8" y1="161.22" x2="310.8" y2="178.62" stroke="#e8a02c" stroke-width="0.9" stroke-dasharray="1.4 0.6" opacity="0.6"/>
<path d="M309.7,161.22 H311.90000000000003 M309.7,178.62 H311.90000000000003" stroke="#e8a02c" stroke-width="0.7" opacity="0.6"/>
<rect x="309.90000000000003" y="169.02" width="1.8" height="1.8" fill="#e8a02c" opacity="0.9"/>
<line x1="321.5" y1="162.98" x2="321.5" y2="177.78" stroke="#e8a02c" stroke-width="0.9" stroke-dasharray="1.4 0.6" opacity="0.6"/>
<path d="M320.4,162.98 H322.6 M320.4,177.78 H322.6" stroke="#e8a02c" stroke-width="0.7" opacity="0.6"/>
<rect x="320.6" y="169.48" width="1.8" height="1.8" fill="#e8a02c" opacity="0.9"/>
<line x1="332.3" y1="162.33" x2="332.3" y2="179.73" stroke="#e8a02c" stroke-width="0.9" stroke-dasharray="1.4 0.6" opacity="0.6"/>
<path d="M331.2,162.33 H333.40000000000003 M331.2,179.73 H333.40000000000003" stroke="#e8a02c" stroke-width="0.7" opacity="0.6"/>
<rect x="331.40000000000003" y="170.13" width="1.8" height="1.8" fill="#e8a02c" opacity="0.9"/>
<line x1="343.2" y1="160.74" x2="343.2" y2="183.34" stroke="#e8a02c" stroke-width="0.9" stroke-dasharray="1.4 0.6" opacity="0.6"/>
<path d="M342.09999999999997,160.74 H344.3 M342.09999999999997,183.34 H344.3" stroke="#e8a02c" stroke-width="0.7" opacity="0.6"/>
<rect x="342.3" y="171.14" width="1.8" height="1.8" fill="#e8a02c" opacity="0.9"/>
<line x1="354.2" y1="164.05" x2="354.2" y2="184.05" stroke="#e8a02c" stroke-width="0.9" stroke-dasharray="1.4 0.6" opacity="0.6"/>
<path d="M353.09999999999997,164.05 H355.3 M353.09999999999997,184.05 H355.3" stroke="#e8a02c" stroke-width="0.7" opacity="0.6"/>
<rect x="353.3" y="173.15" width="1.8" height="1.8" fill="#e8a02c" opacity="0.9"/>
<line x1="365.2" y1="166.53" x2="365.2" y2="186.53" stroke="#e8a02c" stroke-width="0.9" stroke-dasharray="1.4 0.6" opacity="0.6"/>
<path d="M364.09999999999997,166.53 H366.3 M364.09999999999997,186.53 H366.3" stroke="#e8a02c" stroke-width="0.7" opacity="0.6"/>
<rect x="364.3" y="175.63" width="1.8" height="1.8" fill="#e8a02c" opacity="0.9"/>
<line x1="300.3" y1="161.40" x2="300.3" y2="181.40" stroke="#e8a02c" stroke-width="0.9" stroke-dasharray="1.4 0.6" opacity="0.6"/>
<path d="M299.2,161.40 H301.40000000000003 M299.2,181.40 H301.40000000000003" stroke="#e8a02c" stroke-width="0.7" opacity="0.6"/>
<rect x="299.40000000000003" y="170.50" width="1.8" height="1.8" fill="#e8a02c" opacity="0.9"/>
<line x1="310.8" y1="165.37" x2="310.8" y2="177.57" stroke="#e8a02c" stroke-width="0.9" stroke-dasharray="1.4 0.6" opacity="0.6"/>
<path d="M309.7,165.37 H311.90000000000003 M309.7,177.57 H311.90000000000003" stroke="#e8a02c" stroke-width="0.7" opacity="0.6"/>
<rect x="309.90000000000003" y="170.57" width="1.8" height="1.8" fill="#e8a02c" opacity="0.9"/>
<line x1="321.5" y1="167.08" x2="321.5" y2="176.68" stroke="#e8a02c" stroke-width="0.9" stroke-dasharray="1.4 0.6" opacity="0.6"/>
<path d="M320.4,167.08 H322.6 M320.4,176.68 H322.6" stroke="#e8a02c" stroke-width="0.7" opacity="0.6"/>
<rect x="320.6" y="170.98" width="1.8" height="1.8" fill="#e8a02c" opacity="0.9"/>
<line x1="332.3" y1="167.74" x2="332.3" y2="177.34" stroke="#e8a02c" stroke-width="0.9" stroke-dasharray="1.4 0.6" opacity="0.6"/>
<path d="M331.2,167.74 H333.40000000000003 M331.2,177.34 H333.40000000000003" stroke="#e8a02c" stroke-width="0.7" opacity="0.6"/>
<rect x="331.40000000000003" y="171.64" width="1.8" height="1.8" fill="#e8a02c" opacity="0.9"/>
<line x1="343.2" y1="164.04" x2="343.2" y2="184.04" stroke="#e8a02c" stroke-width="0.9" stroke-dasharray="1.4 0.6" opacity="0.6"/>
<path d="M342.09999999999997,164.04 H344.3 M342.09999999999997,184.04 H344.3" stroke="#e8a02c" stroke-width="0.7" opacity="0.6"/>
<rect x="342.3" y="173.14" width="1.8" height="1.8" fill="#e8a02c" opacity="0.9"/>
<line x1="354.2" y1="167.34" x2="354.2" y2="184.74" stroke="#e8a02c" stroke-width="0.9" stroke-dasharray="1.4 0.6" opacity="0.6"/>
<path d="M353.09999999999997,167.34 H355.3 M353.09999999999997,184.74 H355.3" stroke="#e8a02c" stroke-width="0.7" opacity="0.6"/>
<rect x="353.3" y="175.14" width="1.8" height="1.8" fill="#e8a02c" opacity="0.9"/>
<line x1="365.2" y1="170.65" x2="365.2" y2="185.45" stroke="#e8a02c" stroke-width="0.9" stroke-dasharray="1.4 0.6" opacity="0.6"/>
<path d="M364.09999999999997,170.65 H366.3 M364.09999999999997,185.45 H366.3" stroke="#e8a02c" stroke-width="0.7" opacity="0.6"/>
<rect x="364.3" y="177.15" width="1.8" height="1.8" fill="#e8a02c" opacity="0.9"/>
<line x1="300.3" y1="172.42" x2="300.3" y2="182.02" stroke="#e8a02c" stroke-width="0.9" stroke-dasharray="1.4 0.6" opacity="0.6"/>
<path d="M299.2,172.42 H301.40000000000003 M299.2,182.02 H301.40000000000003" stroke="#e8a02c" stroke-width="0.7" opacity="0.6"/>
<rect x="299.40000000000003" y="176.32" width="1.8" height="1.8" fill="#e8a02c" opacity="0.9"/>
<line x1="310.8" y1="167.35" x2="310.8" y2="187.35" stroke="#e8a02c" stroke-width="0.9" stroke-dasharray="1.4 0.6" opacity="0.6"/>
<path d="M309.7,167.35 H311.90000000000003 M309.7,187.35 H311.90000000000003" stroke="#e8a02c" stroke-width="0.7" opacity="0.6"/>
<rect x="309.90000000000003" y="176.45" width="1.8" height="1.8" fill="#e8a02c" opacity="0.9"/>
<line x1="321.5" y1="169.12" x2="321.5" y2="186.52" stroke="#e8a02c" stroke-width="0.9" stroke-dasharray="1.4 0.6" opacity="0.6"/>
<path d="M320.4,169.12 H322.6 M320.4,186.52 H322.6" stroke="#e8a02c" stroke-width="0.7" opacity="0.6"/>
<rect x="320.6" y="176.92" width="1.8" height="1.8" fill="#e8a02c" opacity="0.9"/>
<line x1="332.3" y1="168.54" x2="332.3" y2="188.54" stroke="#e8a02c" stroke-width="0.9" stroke-dasharray="1.4 0.6" opacity="0.6"/>
<path d="M331.2,168.54 H333.40000000000003 M331.2,188.54 H333.40000000000003" stroke="#e8a02c" stroke-width="0.7" opacity="0.6"/>
<rect x="331.40000000000003" y="177.64" width="1.8" height="1.8" fill="#e8a02c" opacity="0.9"/>
<line x1="343.2" y1="173.94" x2="343.2" y2="186.14" stroke="#e8a02c" stroke-width="0.9" stroke-dasharray="1.4 0.6" opacity="0.6"/>
<path d="M342.09999999999997,173.94 H344.3 M342.09999999999997,186.14 H344.3" stroke="#e8a02c" stroke-width="0.7" opacity="0.6"/>
<rect x="342.3" y="179.14" width="1.8" height="1.8" fill="#e8a02c" opacity="0.9"/>
<line x1="354.2" y1="177.25" x2="354.2" y2="186.85" stroke="#e8a02c" stroke-width="0.9" stroke-dasharray="1.4 0.6" opacity="0.6"/>
<path d="M353.09999999999997,177.25 H355.3 M353.09999999999997,186.85 H355.3" stroke="#e8a02c" stroke-width="0.7" opacity="0.6"/>
<rect x="353.3" y="181.15" width="1.8" height="1.8" fill="#e8a02c" opacity="0.9"/>
<line x1="365.2" y1="178.63" x2="365.2" y2="190.83" stroke="#e8a02c" stroke-width="0.9" stroke-dasharray="1.4 0.6" opacity="0.6"/>
<path d="M364.09999999999997,178.63 H366.3 M364.09999999999997,190.83 H366.3" stroke="#e8a02c" stroke-width="0.7" opacity="0.6"/>
<rect x="364.3" y="183.83" width="1.8" height="1.8" fill="#e8a02c" opacity="0.9"/>
<line x1="300.3" y1="174.10" x2="300.3" y2="191.50" stroke="#e8a02c" stroke-width="0.9" stroke-dasharray="1.4 0.6" opacity="0.6"/>
<path d="M299.2,174.10 H301.40000000000003 M299.2,191.50 H301.40000000000003" stroke="#e8a02c" stroke-width="0.7" opacity="0.6"/>
<rect x="299.40000000000003" y="181.90" width="1.8" height="1.8" fill="#e8a02c" opacity="0.9"/>
<line x1="310.8" y1="179.30" x2="310.8" y2="186.30" stroke="#e8a02c" stroke-width="0.9" stroke-dasharray="1.4 0.6" opacity="0.6"/>
<path d="M309.7,179.30 H311.90000000000003 M309.7,186.30 H311.90000000000003" stroke="#e8a02c" stroke-width="0.7" opacity="0.6"/>
<rect x="309.90000000000003" y="181.90" width="1.8" height="1.8" fill="#e8a02c" opacity="0.9"/>
<line x1="321.5" y1="179.76" x2="321.5" y2="186.76" stroke="#e8a02c" stroke-width="0.9" stroke-dasharray="1.4 0.6" opacity="0.6"/>
<path d="M320.4,179.76 H322.6 M320.4,186.76 H322.6" stroke="#e8a02c" stroke-width="0.7" opacity="0.6"/>
<rect x="320.6" y="182.36" width="1.8" height="1.8" fill="#e8a02c" opacity="0.9"/>
<line x1="332.3" y1="179.25" x2="332.3" y2="188.85" stroke="#e8a02c" stroke-width="0.9" stroke-dasharray="1.4 0.6" opacity="0.6"/>
<path d="M331.2,179.25 H333.40000000000003 M331.2,188.85 H333.40000000000003" stroke="#e8a02c" stroke-width="0.7" opacity="0.6"/>
<rect x="331.40000000000003" y="183.15" width="1.8" height="1.8" fill="#e8a02c" opacity="0.9"/>
<line x1="343.2" y1="174.75" x2="343.2" y2="197.35" stroke="#e8a02c" stroke-width="0.9" stroke-dasharray="1.4 0.6" opacity="0.6"/>
<path d="M342.09999999999997,174.75 H344.3 M342.09999999999997,197.35 H344.3" stroke="#e8a02c" stroke-width="0.7" opacity="0.6"/>
<rect x="342.3" y="185.15" width="1.8" height="1.8" fill="#e8a02c" opacity="0.9"/>
<line x1="354.2" y1="185.06" x2="354.2" y2="192.06" stroke="#e8a02c" stroke-width="0.9" stroke-dasharray="1.4 0.6" opacity="0.6"/>
<path d="M353.09999999999997,185.06 H355.3 M353.09999999999997,192.06 H355.3" stroke="#e8a02c" stroke-width="0.7" opacity="0.6"/>
<rect x="353.3" y="187.66" width="1.8" height="1.8" fill="#e8a02c" opacity="0.9"/>
<line x1="365.2" y1="184.51" x2="365.2" y2="199.31" stroke="#e8a02c" stroke-width="0.9" stroke-dasharray="1.4 0.6" opacity="0.6"/>
<path d="M364.09999999999997,184.51 H366.3 M364.09999999999997,199.31 H366.3" stroke="#e8a02c" stroke-width="0.7" opacity="0.6"/>
<rect x="364.3" y="191.01" width="1.8" height="1.8" fill="#e8a02c" opacity="0.9"/>
<line x1="300.3" y1="183.18" x2="300.3" y2="195.38" stroke="#e8a02c" stroke-width="0.9" stroke-dasharray="1.4 0.6" opacity="0.6"/>
<path d="M299.2,183.18 H301.40000000000003 M299.2,195.38 H301.40000000000003" stroke="#e8a02c" stroke-width="0.7" opacity="0.6"/>
<rect x="299.40000000000003" y="188.38" width="1.8" height="1.8" fill="#e8a02c" opacity="0.9"/>
<line x1="310.8" y1="178.07" x2="310.8" y2="200.67" stroke="#e8a02c" stroke-width="0.9" stroke-dasharray="1.4 0.6" opacity="0.6"/>
<path d="M309.7,178.07 H311.90000000000003 M309.7,200.67 H311.90000000000003" stroke="#e8a02c" stroke-width="0.7" opacity="0.6"/>
<rect x="309.90000000000003" y="188.47" width="1.8" height="1.8" fill="#e8a02c" opacity="0.9"/>
<line x1="321.5" y1="179.82" x2="321.5" y2="199.82" stroke="#e8a02c" stroke-width="0.9" stroke-dasharray="1.4 0.6" opacity="0.6"/>
<path d="M320.4,179.82 H322.6 M320.4,199.82 H322.6" stroke="#e8a02c" stroke-width="0.7" opacity="0.6"/>
<rect x="320.6" y="188.92" width="1.8" height="1.8" fill="#e8a02c" opacity="0.9"/>
<line x1="332.3" y1="179.24" x2="332.3" y2="201.84" stroke="#e8a02c" stroke-width="0.9" stroke-dasharray="1.4 0.6" opacity="0.6"/>
<path d="M331.2,179.24 H333.40000000000003 M331.2,201.84 H333.40000000000003" stroke="#e8a02c" stroke-width="0.7" opacity="0.6"/>
<rect x="331.40000000000003" y="189.64" width="1.8" height="1.8" fill="#e8a02c" opacity="0.9"/>
<line x1="343.2" y1="184.63" x2="343.2" y2="199.43" stroke="#e8a02c" stroke-width="0.9" stroke-dasharray="1.4 0.6" opacity="0.6"/>
<path d="M342.09999999999997,184.63 H344.3 M342.09999999999997,199.43 H344.3" stroke="#e8a02c" stroke-width="0.7" opacity="0.6"/>
<rect x="342.3" y="191.13" width="1.8" height="1.8" fill="#e8a02c" opacity="0.9"/>
<line x1="354.2" y1="189.04" x2="354.2" y2="198.64" stroke="#e8a02c" stroke-width="0.9" stroke-dasharray="1.4 0.6" opacity="0.6"/>
<path d="M353.09999999999997,189.04 H355.3 M353.09999999999997,198.64 H355.3" stroke="#e8a02c" stroke-width="0.7" opacity="0.6"/>
<rect x="353.3" y="192.94" width="1.8" height="1.8" fill="#e8a02c" opacity="0.9"/>
<line x1="365.2" y1="191.14" x2="365.2" y2="200.74" stroke="#e8a02c" stroke-width="0.9" stroke-dasharray="1.4 0.6" opacity="0.6"/>
<path d="M364.09999999999997,191.14 H366.3 M364.09999999999997,200.74 H366.3" stroke="#e8a02c" stroke-width="0.7" opacity="0.6"/>
<rect x="364.3" y="195.04" width="1.8" height="1.8" fill="#e8a02c" opacity="0.9"/>
<line x1="300.3" y1="168.84" x2="300.3" y2="181.84" stroke="#2f5596" stroke-width="0.9" stroke-dasharray="1.4 0.6" opacity="0.6"/>
<path d="M299.2,168.84 H301.40000000000003 M299.2,181.84 H301.40000000000003" stroke="#2f5596" stroke-width="0.7" opacity="0.6"/>
<rect x="299.40000000000003" y="174.44" width="1.8" height="1.8" fill="#2f5596" opacity="0.9"/>
<line x1="310.8" y1="165.88" x2="310.8" y2="184.88" stroke="#2f5596" stroke-width="0.9" stroke-dasharray="1.4 0.6" opacity="0.6"/>
<path d="M309.7,165.88 H311.90000000000003 M309.7,184.88 H311.90000000000003" stroke="#2f5596" stroke-width="0.7" opacity="0.6"/>
<rect x="309.90000000000003" y="174.48" width="1.8" height="1.8" fill="#2f5596" opacity="0.9"/>
<line x1="321.5" y1="166.51" x2="321.5" y2="185.51" stroke="#2f5596" stroke-width="0.9" stroke-dasharray="1.4 0.6" opacity="0.6"/>
<path d="M320.4,166.51 H322.6 M320.4,185.51 H322.6" stroke="#2f5596" stroke-width="0.7" opacity="0.6"/>
<rect x="320.6" y="175.11" width="1.8" height="1.8" fill="#2f5596" opacity="0.9"/>
<line x1="332.3" y1="172.58" x2="332.3" y2="181.58" stroke="#2f5596" stroke-width="0.9" stroke-dasharray="1.4 0.6" opacity="0.6"/>
<path d="M331.2,172.58 H333.40000000000003 M331.2,181.58 H333.40000000000003" stroke="#2f5596" stroke-width="0.7" opacity="0.6"/>
<rect x="331.40000000000003" y="176.18" width="1.8" height="1.8" fill="#2f5596" opacity="0.9"/>
<line x1="343.2" y1="174.58" x2="343.2" y2="185.58" stroke="#2f5596" stroke-width="0.9" stroke-dasharray="1.4 0.6" opacity="0.6"/>
<path d="M342.09999999999997,174.58 H344.3 M342.09999999999997,185.58 H344.3" stroke="#2f5596" stroke-width="0.7" opacity="0.6"/>
<rect x="342.3" y="179.18" width="1.8" height="1.8" fill="#2f5596" opacity="0.9"/>
<line x1="354.2" y1="179.11" x2="354.2" y2="190.11" stroke="#2f5596" stroke-width="0.9" stroke-dasharray="1.4 0.6" opacity="0.6"/>
<path d="M353.09999999999997,179.11 H355.3 M353.09999999999997,190.11 H355.3" stroke="#2f5596" stroke-width="0.7" opacity="0.6"/>
<rect x="353.3" y="183.71" width="1.8" height="1.8" fill="#2f5596" opacity="0.9"/>
<line x1="365.2" y1="181.33" x2="365.2" y2="200.33" stroke="#2f5596" stroke-width="0.9" stroke-dasharray="1.4 0.6" opacity="0.6"/>
<path d="M364.09999999999997,181.33 H366.3 M364.09999999999997,200.33 H366.3" stroke="#2f5596" stroke-width="0.7" opacity="0.6"/>
<rect x="364.3" y="189.93" width="1.8" height="1.8" fill="#2f5596" opacity="0.9"/>
<line x1="300.3" y1="180.62" x2="300.3" y2="193.62" stroke="#2f5596" stroke-width="0.9" stroke-dasharray="1.4 0.6" opacity="0.6"/>
<path d="M299.2,180.62 H301.40000000000003 M299.2,193.62 H301.40000000000003" stroke="#2f5596" stroke-width="0.7" opacity="0.6"/>
<rect x="299.40000000000003" y="186.22" width="1.8" height="1.8" fill="#2f5596" opacity="0.9"/>
<line x1="310.8" y1="181.97" x2="310.8" y2="200.97" stroke="#2f5596" stroke-width="0.9" stroke-dasharray="1.4 0.6" opacity="0.6"/>
<path d="M309.7,181.97 H311.90000000000003 M309.7,200.97 H311.90000000000003" stroke="#2f5596" stroke-width="0.7" opacity="0.6"/>
<rect x="309.90000000000003" y="190.57" width="1.8" height="1.8" fill="#2f5596" opacity="0.9"/>
<line x1="321.5" y1="190.70" x2="321.5" y2="199.70" stroke="#2f5596" stroke-width="0.9" stroke-dasharray="1.4 0.6" opacity="0.6"/>
<path d="M320.4,190.70 H322.6 M320.4,199.70 H322.6" stroke="#2f5596" stroke-width="0.7" opacity="0.6"/>
<rect x="320.6" y="194.30" width="1.8" height="1.8" fill="#2f5596" opacity="0.9"/>
<line x1="332.3" y1="191.07" x2="332.3" y2="208.07" stroke="#2f5596" stroke-width="0.9" stroke-dasharray="1.4 0.6" opacity="0.6"/>
<path d="M331.2,191.07 H333.40000000000003 M331.2,208.07 H333.40000000000003" stroke="#2f5596" stroke-width="0.7" opacity="0.6"/>
<rect x="331.40000000000003" y="198.67" width="1.8" height="1.8" fill="#2f5596" opacity="0.9"/>
<line x1="343.2" y1="193.50" x2="343.2" y2="210.50" stroke="#2f5596" stroke-width="0.9" stroke-dasharray="1.4 0.6" opacity="0.6"/>
<path d="M342.09999999999997,193.50 H344.3 M342.09999999999997,210.50 H344.3" stroke="#2f5596" stroke-width="0.7" opacity="0.6"/>
<rect x="342.3" y="201.10" width="1.8" height="1.8" fill="#2f5596" opacity="0.9"/>
<line x1="354.2" y1="203.71" x2="354.2" y2="210.71" stroke="#2f5596" stroke-width="0.9" stroke-dasharray="1.4 0.6" opacity="0.6"/>
<path d="M353.09999999999997,203.71 H355.3 M353.09999999999997,210.71 H355.3" stroke="#2f5596" stroke-width="0.7" opacity="0.6"/>
<rect x="353.3" y="206.31" width="1.8" height="1.8" fill="#2f5596" opacity="0.9"/>
<line x1="365.2" y1="202.98" x2="365.2" y2="219.98" stroke="#2f5596" stroke-width="0.9" stroke-dasharray="1.4 0.6" opacity="0.6"/>
<path d="M364.09999999999997,202.98 H366.3 M364.09999999999997,219.98 H366.3" stroke="#2f5596" stroke-width="0.7" opacity="0.6"/>
<rect x="364.3" y="210.58" width="1.8" height="1.8" fill="#2f5596" opacity="0.9"/>
<line x1="300.3" y1="178.63" x2="300.3" y2="197.63" stroke="#2f5596" stroke-width="0.9" stroke-dasharray="1.4 0.6" opacity="0.6"/>
<path d="M299.2,178.63 H301.40000000000003 M299.2,197.63 H301.40000000000003" stroke="#2f5596" stroke-width="0.7" opacity="0.6"/>
<rect x="299.40000000000003" y="187.23" width="1.8" height="1.8" fill="#2f5596" opacity="0.9"/>
<line x1="310.8" y1="184.68" x2="310.8" y2="195.68" stroke="#2f5596" stroke-width="0.9" stroke-dasharray="1.4 0.6" opacity="0.6"/>
<path d="M309.7,184.68 H311.90000000000003 M309.7,195.68 H311.90000000000003" stroke="#2f5596" stroke-width="0.7" opacity="0.6"/>
<rect x="309.90000000000003" y="189.28" width="1.8" height="1.8" fill="#2f5596" opacity="0.9"/>
<line x1="321.5" y1="187.79" x2="321.5" y2="198.79" stroke="#2f5596" stroke-width="0.9" stroke-dasharray="1.4 0.6" opacity="0.6"/>
<path d="M320.4,187.79 H322.6 M320.4,198.79 H322.6" stroke="#2f5596" stroke-width="0.7" opacity="0.6"/>
<rect x="320.6" y="192.39" width="1.8" height="1.8" fill="#2f5596" opacity="0.9"/>
<line x1="332.3" y1="188.69" x2="332.3" y2="205.69" stroke="#2f5596" stroke-width="0.9" stroke-dasharray="1.4 0.6" opacity="0.6"/>
<path d="M331.2,188.69 H333.40000000000003 M331.2,205.69 H333.40000000000003" stroke="#2f5596" stroke-width="0.7" opacity="0.6"/>
<rect x="331.40000000000003" y="196.29" width="1.8" height="1.8" fill="#2f5596" opacity="0.9"/>
<line x1="343.2" y1="196.50" x2="343.2" y2="211.50" stroke="#2f5596" stroke-width="0.9" stroke-dasharray="1.4 0.6" opacity="0.6"/>
<path d="M342.09999999999997,196.50 H344.3 M342.09999999999997,211.50 H344.3" stroke="#2f5596" stroke-width="0.7" opacity="0.6"/>
<rect x="342.3" y="203.10" width="1.8" height="1.8" fill="#2f5596" opacity="0.9"/>
<line x1="354.2" y1="203.38" x2="354.2" y2="218.38" stroke="#2f5596" stroke-width="0.9" stroke-dasharray="1.4 0.6" opacity="0.6"/>
<path d="M353.09999999999997,203.38 H355.3 M353.09999999999997,218.38 H355.3" stroke="#2f5596" stroke-width="0.7" opacity="0.6"/>
<rect x="353.3" y="209.97" width="1.8" height="1.8" fill="#2f5596" opacity="0.9"/>
<line x1="365.2" y1="214.77" x2="365.2" y2="223.77" stroke="#2f5596" stroke-width="0.9" stroke-dasharray="1.4 0.6" opacity="0.6"/>
<path d="M364.09999999999997,214.77 H366.3 M364.09999999999997,223.77 H366.3" stroke="#2f5596" stroke-width="0.7" opacity="0.6"/>
<rect x="364.3" y="218.37" width="1.8" height="1.8" fill="#2f5596" opacity="0.9"/>
<line x1="300.3" y1="183.14" x2="300.3" y2="202.14" stroke="#2f5596" stroke-width="0.9" stroke-dasharray="1.4 0.6" opacity="0.6"/>
<path d="M299.2,183.14 H301.40000000000003 M299.2,202.14 H301.40000000000003" stroke="#2f5596" stroke-width="0.7" opacity="0.6"/>
<rect x="299.40000000000003" y="191.74" width="1.8" height="1.8" fill="#2f5596" opacity="0.9"/>
<line x1="310.8" y1="184.63" x2="310.8" y2="203.63" stroke="#2f5596" stroke-width="0.9" stroke-dasharray="1.4 0.6" opacity="0.6"/>
<path d="M309.7,184.63 H311.90000000000003 M309.7,203.63 H311.90000000000003" stroke="#2f5596" stroke-width="0.7" opacity="0.6"/>
<rect x="309.90000000000003" y="193.23" width="1.8" height="1.8" fill="#2f5596" opacity="0.9"/>
<line x1="321.5" y1="193.62" x2="321.5" y2="208.62" stroke="#2f5596" stroke-width="0.9" stroke-dasharray="1.4 0.6" opacity="0.6"/>
<path d="M320.4,193.62 H322.6 M320.4,208.62 H322.6" stroke="#2f5596" stroke-width="0.7" opacity="0.6"/>
<rect x="320.6" y="200.22" width="1.8" height="1.8" fill="#2f5596" opacity="0.9"/>
<line x1="332.3" y1="210.51" x2="332.3" y2="217.51" stroke="#2f5596" stroke-width="0.9" stroke-dasharray="1.4 0.6" opacity="0.6"/>
<path d="M331.2,210.51 H333.40000000000003 M331.2,217.51 H333.40000000000003" stroke="#2f5596" stroke-width="0.7" opacity="0.6"/>
<rect x="331.40000000000003" y="213.11" width="1.8" height="1.8" fill="#2f5596" opacity="0.9"/>
<line x1="343.2" y1="216.90" x2="343.2" y2="233.70" stroke="#2f5596" stroke-width="0.9" stroke-dasharray="1.4 0.6" opacity="0.6"/>
<path d="M342.09999999999997,216.90 H344.3 M342.09999999999997,233.70 H344.3" stroke="#2f5596" stroke-width="0.7" opacity="0.6"/>
<rect x="342.3" y="224.50" width="1.8" height="1.8" fill="#2f5596" opacity="0.9"/>
<line x1="354.2" y1="225.19" x2="354.2" y2="233.70" stroke="#2f5596" stroke-width="0.9" stroke-dasharray="1.4 0.6" opacity="0.6"/>
<path d="M353.09999999999997,225.19 H355.3 M353.09999999999997,233.70 H355.3" stroke="#2f5596" stroke-width="0.7" opacity="0.6"/>
<rect x="353.3" y="230.79" width="1.8" height="1.8" fill="#2f5596" opacity="0.9"/>
<line x1="365.2" y1="229.37" x2="365.2" y2="233.70" stroke="#2f5596" stroke-width="0.9" stroke-dasharray="1.4 0.6" opacity="0.6"/>
<path d="M364.09999999999997,229.37 H366.3 M364.09999999999997,233.70 H366.3" stroke="#2f5596" stroke-width="0.7" opacity="0.6"/>
<rect x="364.3" y="231.97" width="1.8" height="1.8" fill="#2f5596" opacity="0.9"/>
<line x1="300.3" y1="182.49" x2="300.3" y2="189.49" stroke="#b0123f" stroke-width="0.9" stroke-dasharray="1.4 0.6" opacity="0.6"/>
<path d="M299.2,182.49 H301.40000000000003 M299.2,189.49 H301.40000000000003" stroke="#b0123f" stroke-width="0.7" opacity="0.6"/>
<rect x="299.40000000000003" y="185.09" width="1.8" height="1.8" fill="#b0123f" opacity="0.9"/>
<line x1="310.8" y1="183.35" x2="310.8" y2="198.35" stroke="#b0123f" stroke-width="0.9" stroke-dasharray="1.4 0.6" opacity="0.6"/>
<path d="M309.7,183.35 H311.90000000000003 M309.7,198.35 H311.90000000000003" stroke="#b0123f" stroke-width="0.7" opacity="0.6"/>
<rect x="309.90000000000003" y="189.95" width="1.8" height="1.8" fill="#b0123f" opacity="0.9"/>
<line x1="321.5" y1="192.42" x2="321.5" y2="203.42" stroke="#b0123f" stroke-width="0.9" stroke-dasharray="1.4 0.6" opacity="0.6"/>
<path d="M320.4,192.42 H322.6 M320.4,203.42 H322.6" stroke="#b0123f" stroke-width="0.7" opacity="0.6"/>
<rect x="320.6" y="197.02" width="1.8" height="1.8" fill="#b0123f" opacity="0.9"/>
<line x1="332.3" y1="203.29" x2="332.3" y2="218.29" stroke="#b0123f" stroke-width="0.9" stroke-dasharray="1.4 0.6" opacity="0.6"/>
<path d="M331.2,203.29 H333.40000000000003 M331.2,218.29 H333.40000000000003" stroke="#b0123f" stroke-width="0.7" opacity="0.6"/>
<rect x="331.40000000000003" y="209.89" width="1.8" height="1.8" fill="#b0123f" opacity="0.9"/>
<line x1="343.2" y1="217.70" x2="343.2" y2="224.70" stroke="#b0123f" stroke-width="0.9" stroke-dasharray="1.4 0.6" opacity="0.6"/>
<path d="M342.09999999999997,217.70 H344.3 M342.09999999999997,224.70 H344.3" stroke="#b0123f" stroke-width="0.7" opacity="0.6"/>
<rect x="342.3" y="220.30" width="1.8" height="1.8" fill="#b0123f" opacity="0.9"/>
<line x1="354.2" y1="219.99" x2="354.2" y2="233.70" stroke="#b0123f" stroke-width="0.9" stroke-dasharray="1.4 0.6" opacity="0.6"/>
<path d="M353.09999999999997,219.99 H355.3 M353.09999999999997,233.70 H355.3" stroke="#b0123f" stroke-width="0.7" opacity="0.6"/>
<rect x="353.3" y="226.59" width="1.8" height="1.8" fill="#b0123f" opacity="0.9"/>
<line x1="365.2" y1="224.07" x2="365.2" y2="233.07" stroke="#b0123f" stroke-width="0.9" stroke-dasharray="1.4 0.6" opacity="0.6"/>
<path d="M364.09999999999997,224.07 H366.3 M364.09999999999997,233.07 H366.3" stroke="#b0123f" stroke-width="0.7" opacity="0.6"/>
<rect x="364.3" y="227.67" width="1.8" height="1.8" fill="#b0123f" opacity="0.9"/>
<line x1="300.3" y1="205.44" x2="300.3" y2="214.44" stroke="#b0123f" stroke-width="0.9" stroke-dasharray="1.4 0.6" opacity="0.6"/>
<path d="M299.2,205.44 H301.40000000000003 M299.2,214.44 H301.40000000000003" stroke="#b0123f" stroke-width="0.7" opacity="0.6"/>
<rect x="299.40000000000003" y="209.04" width="1.8" height="1.8" fill="#b0123f" opacity="0.9"/>
<line x1="310.8" y1="213.84" x2="310.8" y2="228.84" stroke="#b0123f" stroke-width="0.9" stroke-dasharray="1.4 0.6" opacity="0.6"/>
<path d="M309.7,213.84 H311.90000000000003 M309.7,228.84 H311.90000000000003" stroke="#b0123f" stroke-width="0.7" opacity="0.6"/>
<rect x="309.90000000000003" y="220.44" width="1.8" height="1.8" fill="#b0123f" opacity="0.9"/>
<line x1="321.5" y1="218.60" x2="321.5" y2="233.70" stroke="#b0123f" stroke-width="0.9" stroke-dasharray="1.4 0.6" opacity="0.6"/>
<path d="M320.4,218.60 H322.6 M320.4,233.70 H322.6" stroke="#b0123f" stroke-width="0.7" opacity="0.6"/>
<rect x="320.6" y="226.20" width="1.8" height="1.8" fill="#b0123f" opacity="0.9"/>
<line x1="332.3" y1="218.37" x2="332.3" y2="233.70" stroke="#b0123f" stroke-width="0.9" stroke-dasharray="1.4 0.6" opacity="0.6"/>
<path d="M331.2,218.37 H333.40000000000003 M331.2,233.70 H333.40000000000003" stroke="#b0123f" stroke-width="0.7" opacity="0.6"/>
<rect x="331.40000000000003" y="226.97" width="1.8" height="1.8" fill="#b0123f" opacity="0.9"/>
<line x1="343.2" y1="224.84" x2="343.2" y2="231.84" stroke="#b0123f" stroke-width="0.9" stroke-dasharray="1.4 0.6" opacity="0.6"/>
<path d="M342.09999999999997,224.84 H344.3 M342.09999999999997,231.84 H344.3" stroke="#b0123f" stroke-width="0.7" opacity="0.6"/>
<rect x="342.3" y="227.44" width="1.8" height="1.8" fill="#b0123f" opacity="0.9"/>
<line x1="354.2" y1="224.97" x2="354.2" y2="231.97" stroke="#b0123f" stroke-width="0.9" stroke-dasharray="1.4 0.6" opacity="0.6"/>
<path d="M353.09999999999997,224.97 H355.3 M353.09999999999997,231.97 H355.3" stroke="#b0123f" stroke-width="0.7" opacity="0.6"/>
<rect x="353.3" y="227.57" width="1.8" height="1.8" fill="#b0123f" opacity="0.9"/>
<line x1="365.2" y1="224.10" x2="365.2" y2="233.10" stroke="#b0123f" stroke-width="0.9" stroke-dasharray="1.4 0.6" opacity="0.6"/>
<path d="M364.09999999999997,224.10 H366.3 M364.09999999999997,233.10 H366.3" stroke="#b0123f" stroke-width="0.7" opacity="0.6"/>
<rect x="364.3" y="227.70" width="1.8" height="1.8" fill="#b0123f" opacity="0.9"/>
<line x1="300.3" y1="203.16" x2="300.3" y2="218.16" stroke="#b0123f" stroke-width="0.9" stroke-dasharray="1.4 0.6" opacity="0.6"/>
<path d="M299.2,203.16 H301.40000000000003 M299.2,218.16 H301.40000000000003" stroke="#b0123f" stroke-width="0.7" opacity="0.6"/>
<rect x="299.40000000000003" y="209.76" width="1.8" height="1.8" fill="#b0123f" opacity="0.9"/>
<line x1="310.8" y1="218.18" x2="310.8" y2="227.18" stroke="#b0123f" stroke-width="0.9" stroke-dasharray="1.4 0.6" opacity="0.6"/>
<path d="M309.7,218.18 H311.90000000000003 M309.7,227.18 H311.90000000000003" stroke="#b0123f" stroke-width="0.7" opacity="0.6"/>
<rect x="309.90000000000003" y="221.78" width="1.8" height="1.8" fill="#b0123f" opacity="0.9"/>
<line x1="321.5" y1="226.59" x2="321.5" y2="233.59" stroke="#b0123f" stroke-width="0.9" stroke-dasharray="1.4 0.6" opacity="0.6"/>
<path d="M320.4,226.59 H322.6 M320.4,233.59 H322.6" stroke="#b0123f" stroke-width="0.7" opacity="0.6"/>
<rect x="320.6" y="229.19" width="1.8" height="1.8" fill="#b0123f" opacity="0.9"/>
<line x1="332.3" y1="224.22" x2="332.3" y2="233.70" stroke="#b0123f" stroke-width="0.9" stroke-dasharray="1.4 0.6" opacity="0.6"/>
<path d="M331.2,224.22 H333.40000000000003 M331.2,233.70 H333.40000000000003" stroke="#b0123f" stroke-width="0.7" opacity="0.6"/>
<rect x="331.40000000000003" y="230.82" width="1.8" height="1.8" fill="#b0123f" opacity="0.9"/>
<line x1="343.2" y1="224.50" x2="343.2" y2="233.70" stroke="#b0123f" stroke-width="0.9" stroke-dasharray="1.4 0.6" opacity="0.6"/>
<path d="M342.09999999999997,224.50 H344.3 M342.09999999999997,233.70 H344.3" stroke="#b0123f" stroke-width="0.7" opacity="0.6"/>
<rect x="342.3" y="231.10" width="1.8" height="1.8" fill="#b0123f" opacity="0.9"/>
<line x1="354.2" y1="224.50" x2="354.2" y2="233.70" stroke="#b0123f" stroke-width="0.9" stroke-dasharray="1.4 0.6" opacity="0.6"/>
<path d="M353.09999999999997,224.50 H355.3 M353.09999999999997,233.70 H355.3" stroke="#b0123f" stroke-width="0.7" opacity="0.6"/>
<rect x="353.3" y="231.10" width="1.8" height="1.8" fill="#b0123f" opacity="0.9"/>
<line x1="365.2" y1="224.50" x2="365.2" y2="233.70" stroke="#b0123f" stroke-width="0.9" stroke-dasharray="1.4 0.6" opacity="0.6"/>
<path d="M364.09999999999997,224.50 H366.3 M364.09999999999997,233.70 H366.3" stroke="#b0123f" stroke-width="0.7" opacity="0.6"/>
<rect x="364.3" y="231.10" width="1.8" height="1.8" fill="#b0123f" opacity="0.9"/>
<path d="M270.50,180.60 C270.92,180.01 272.17,178.07 273.00,177.09 C273.83,176.10 274.67,175.37 275.50,174.70 C276.33,174.03 277.17,173.53 278.00,173.07 C278.83,172.61 279.67,172.27 280.50,171.96 C281.33,171.65 282.17,171.42 283.00,171.21 C283.83,171.00 284.67,170.84 285.50,170.69 C286.33,170.55 287.17,170.44 288.00,170.34 C288.83,170.25 289.67,170.17 290.50,170.11 C291.33,170.04 292.17,169.99 293.00,169.95 C293.83,169.90 294.67,169.87 295.50,169.83 C296.33,169.80 297.17,169.78 298.00,169.76 C298.83,169.74 297.67,169.67 300.50,169.71 C303.33,169.75 309.75,169.78 315.00,170.00 C320.25,170.22 327.33,170.67 332.00,171.00 C336.67,171.33 339.33,171.50 343.00,172.00 C346.67,172.50 350.25,173.23 354.00,174.00 C357.75,174.77 363.58,176.17 365.50,176.60" stroke="#e8a02c" stroke-width="1.15" fill="none" />
<path d="M270.50,180.60 C270.92,180.11 272.17,178.46 273.00,177.63 C273.83,176.80 274.67,176.18 275.50,175.61 C276.33,175.04 277.17,174.62 278.00,174.23 C278.83,173.85 279.67,173.56 280.50,173.30 C281.33,173.03 282.17,172.84 283.00,172.66 C283.83,172.48 284.67,172.35 285.50,172.23 C286.33,172.10 287.17,172.01 288.00,171.93 C288.83,171.85 289.67,171.79 290.50,171.73 C291.33,171.67 292.17,171.63 293.00,171.59 C293.83,171.55 294.67,171.52 295.50,171.50 C296.33,171.47 297.17,171.45 298.00,171.44 C298.83,171.42 297.67,171.38 300.50,171.39 C303.33,171.40 309.75,171.32 315.00,171.50 C320.25,171.68 327.33,172.08 332.00,172.50 C336.67,172.92 339.33,173.42 343.00,174.00 C346.67,174.58 350.25,175.32 354.00,176.00 C357.75,176.68 363.58,177.75 365.50,178.10" stroke="#e8a02c" stroke-width="1.15" fill="none" />
<path d="M270.50,180.60 C270.92,180.41 272.17,179.76 273.00,179.44 C273.83,179.12 274.67,178.89 275.50,178.68 C276.33,178.47 277.17,178.31 278.00,178.17 C278.83,178.03 279.67,177.93 280.50,177.84 C281.33,177.75 282.17,177.68 283.00,177.62 C283.83,177.56 284.67,177.52 285.50,177.48 C286.33,177.44 287.17,177.41 288.00,177.38 C288.83,177.36 289.67,177.34 290.50,177.32 C291.33,177.30 292.17,177.29 293.00,177.28 C293.83,177.27 294.67,177.26 295.50,177.25 C296.33,177.25 297.17,177.24 298.00,177.23 C298.83,177.23 297.67,177.20 300.50,177.22 C303.33,177.25 309.75,177.19 315.00,177.40 C320.25,177.61 327.33,178.07 332.00,178.50 C336.67,178.93 339.33,179.42 343.00,180.00 C346.67,180.58 350.25,181.20 354.00,182.00 C357.75,182.80 363.58,184.33 365.50,184.80" stroke="#e8a02c" stroke-width="1.15" fill="none" />
<path d="M270.50,181.00 C270.92,181.12 272.17,181.52 273.00,181.71 C273.83,181.90 274.67,182.02 275.50,182.14 C276.33,182.25 277.17,182.33 278.00,182.40 C278.83,182.47 279.67,182.51 280.50,182.56 C281.33,182.60 282.17,182.63 283.00,182.65 C283.83,182.68 284.67,182.69 285.50,182.71 C286.33,182.73 287.17,182.74 288.00,182.75 C288.83,182.76 289.67,182.76 290.50,182.77 C291.33,182.77 292.17,182.78 293.00,182.78 C293.83,182.78 294.67,182.79 295.50,182.79 C296.33,182.79 297.17,182.79 298.00,182.79 C298.83,182.79 297.67,182.79 300.50,182.80 C303.33,182.80 309.75,182.60 315.00,182.80 C320.25,183.00 327.33,183.47 332.00,184.00 C336.67,184.53 339.33,185.25 343.00,186.00 C346.67,186.75 350.25,187.50 354.00,188.50 C357.75,189.50 363.58,191.42 365.50,192.00" stroke="#e8a02c" stroke-width="1.15" fill="none" />
<path d="M270.50,182.00 C270.92,182.48 272.17,184.10 273.00,184.87 C273.83,185.64 274.67,186.15 275.50,186.61 C276.33,187.08 277.17,187.39 278.00,187.67 C278.83,187.95 279.67,188.14 280.50,188.31 C281.33,188.48 282.17,188.60 283.00,188.70 C283.83,188.80 284.67,188.87 285.50,188.94 C286.33,189.00 287.17,189.04 288.00,189.08 C288.83,189.12 289.67,189.14 290.50,189.17 C291.33,189.19 292.17,189.20 293.00,189.22 C293.83,189.23 294.67,189.24 295.50,189.25 C296.33,189.26 297.17,189.26 298.00,189.27 C298.83,189.28 297.67,189.26 300.50,189.28 C303.33,189.30 309.75,189.20 315.00,189.40 C320.25,189.60 327.33,190.07 332.00,190.50 C336.67,190.93 339.33,191.45 343.00,192.00 C346.67,192.55 350.25,193.13 354.00,193.80 C357.75,194.47 363.58,195.63 365.50,196.00" stroke="#e8a02c" stroke-width="1.15" fill="none" />
<path d="M270.50,180.60 C270.92,180.30 272.17,179.29 273.00,178.79 C273.83,178.29 274.67,177.93 275.50,177.60 C276.33,177.27 277.17,177.04 278.00,176.82 C278.83,176.60 279.67,176.44 280.50,176.30 C281.33,176.16 282.17,176.05 283.00,175.96 C283.83,175.87 284.67,175.80 285.50,175.74 C286.33,175.67 287.17,175.63 288.00,175.59 C288.83,175.55 289.67,175.52 290.50,175.49 C291.33,175.46 292.17,175.44 293.00,175.42 C293.83,175.41 294.67,175.39 295.50,175.38 C296.33,175.37 297.17,175.36 298.00,175.35 C298.83,175.35 297.67,175.33 300.50,175.34 C303.33,175.34 309.75,175.12 315.00,175.40 C320.25,175.68 327.33,176.23 332.00,177.00 C336.67,177.77 339.33,178.75 343.00,180.00 C346.67,181.25 350.25,182.67 354.00,184.50 C357.75,186.33 363.58,189.92 365.50,191.00" stroke="#2f5596" stroke-width="1.15" fill="none" />
<path d="M270.50,181.00 C273.48,181.62 283.48,183.70 288.40,184.70 C293.32,185.70 296.30,185.88 300.00,187.00 C303.70,188.12 307.10,190.07 310.60,191.40 C314.10,192.73 317.43,193.65 321.00,195.00 C324.57,196.35 328.30,198.33 332.00,199.50 C335.70,200.67 339.47,200.70 343.20,202.00 C346.93,203.30 350.68,205.70 354.40,207.30 C358.12,208.90 363.65,210.88 365.50,211.60" stroke="#2f5596" stroke-width="1.15" fill="none" />
<path d="M270.50,184.70 C275.18,185.22 291.18,186.75 298.60,187.80 C306.02,188.85 309.43,189.47 315.00,191.00 C320.57,192.53 327.30,194.83 332.00,197.00 C336.70,199.17 339.47,201.67 343.20,204.00 C346.93,206.33 350.68,208.42 354.40,211.00 C358.12,213.58 363.65,218.08 365.50,219.50" stroke="#2f5596" stroke-width="1.15" fill="none" />
<path d="M270.50,192.40 C275.42,192.43 293.32,192.33 300.00,192.60 C306.68,192.87 307.03,192.60 310.60,194.00 C314.17,195.40 317.83,197.72 321.40,201.00 C324.97,204.28 328.37,209.63 332.00,213.70 C335.63,217.77 339.47,222.38 343.20,225.40 C346.93,228.42 350.68,230.55 354.40,231.80 C358.12,233.05 363.65,232.72 365.50,232.90" stroke="#2f5596" stroke-width="1.15" fill="none" />
<path d="M270.50,181.20 C275.18,181.87 291.87,183.58 298.60,185.20 C305.33,186.82 307.10,188.80 310.90,190.90 C314.70,193.00 317.88,194.53 321.40,197.80 C324.92,201.07 328.37,206.60 332.00,210.50 C335.63,214.40 339.47,218.35 343.20,221.20 C346.93,224.05 350.68,226.37 354.40,227.60 C358.12,228.83 363.65,228.43 365.50,228.60" stroke="#b0123f" stroke-width="1.15" fill="none" />
<path d="M270.50,186.20 C271.85,187.07 275.47,189.30 278.60,191.40 C281.73,193.50 285.75,195.78 289.30,198.80 C292.85,201.82 296.35,205.77 299.90,209.50 C303.45,213.23 307.93,218.65 310.60,221.20 C313.27,223.75 314.00,223.78 315.90,224.80 C317.80,225.82 317.98,226.72 322.00,227.30 C326.02,227.88 332.75,228.08 340.00,228.30 C347.25,228.52 361.25,228.55 365.50,228.60" stroke="#b0123f" stroke-width="1.15" fill="none" />
<path d="M270.50,186.60 C271.85,187.47 275.47,189.67 278.60,191.80 C281.73,193.93 285.75,196.33 289.30,199.40 C292.85,202.47 296.35,206.35 299.90,210.20 C303.45,214.05 307.58,219.37 310.60,222.50 C313.62,225.63 315.43,227.50 318.00,229.00 C320.57,230.50 322.33,231.00 326.00,231.50 C329.67,232.00 333.42,231.92 340.00,232.00 C346.58,232.08 361.25,232.00 365.50,232.00" stroke="#b0123f" stroke-width="1.15" fill="none" />
<text x="389.80" y="12.40" font-size="11.5" text-anchor="start" fill="#111" stroke="#111" stroke-width="0.07" font-weight="bold" textLength="8.30" lengthAdjust="spacingAndGlyphs" >C</text>
<defs><pattern id="hatch" patternUnits="userSpaceOnUse" width="3.2" height="3.2" patternTransform="rotate(57)"><rect width="3.2" height="3.2" fill="#a3042c"/><rect width="1.2" height="3.2" fill="#fff"/></pattern></defs>
<line x1="420.60" y1="65.40" x2="423.50" y2="65.40" stroke="#222" stroke-width="0.9" />
<text x="418.00" y="65.40" font-size="6.5" text-anchor="end" fill="#222" stroke="#222" stroke-width="0.07" textLength="9.98" lengthAdjust="spacingAndGlyphs" >400</text>
<line x1="420.60" y1="51.70" x2="423.50" y2="51.70" stroke="#222" stroke-width="0.9" />
<text x="418.00" y="51.70" font-size="6.5" text-anchor="end" fill="#222" stroke="#222" stroke-width="0.07" textLength="9.98" lengthAdjust="spacingAndGlyphs" >600</text>
<line x1="420.60" y1="38.00" x2="423.50" y2="38.00" stroke="#222" stroke-width="0.9" />
<text x="418.00" y="38.00" font-size="6.5" text-anchor="end" fill="#222" stroke="#222" stroke-width="0.07" textLength="9.98" lengthAdjust="spacingAndGlyphs" >800</text>
<line x1="420.60" y1="24.30" x2="423.50" y2="24.30" stroke="#222" stroke-width="0.9" />
<text x="418.00" y="24.30" font-size="6.5" text-anchor="end" fill="#222" stroke="#222" stroke-width="0.07" textLength="13.30" lengthAdjust="spacingAndGlyphs" >1000</text>
<line x1="429.40" y1="50.33" x2="429.40" y2="51.70" stroke="#222" stroke-width="1.0" />
<line x1="427.80" y1="50.33" x2="431.00" y2="50.33" stroke="#222" stroke-width="1.1" />
<rect x="426.40" y="51.70" width="6.0" height="13.70" fill="#213f86"/>
<line x1="445.20" y1="35.95" x2="445.20" y2="36.97" stroke="#222" stroke-width="1.0" />
<line x1="443.60" y1="35.95" x2="446.80" y2="35.95" stroke="#222" stroke-width="1.1" />
<rect x="442.20" y="36.97" width="6.0" height="28.43" fill="#a8062f"/>
<text x="445.20" y="33.60" font-size="5.6" text-anchor="middle" fill="#222" stroke="#222" stroke-width="0.07" >***</text>
<line x1="455.20" y1="34.23" x2="455.20" y2="34.58" stroke="#222" stroke-width="1.0" />
<line x1="453.60" y1="34.23" x2="456.80" y2="34.23" stroke="#222" stroke-width="1.1" />
<rect x="452.20" y="34.58" width="6.0" height="30.83" fill="#a8062f"/>
<text x="455.20" y="28.80" font-size="5.6" text-anchor="middle" fill="#222" stroke="#222" stroke-width="0.07" >****</text>
<line x1="470.90" y1="36.63" x2="470.90" y2="38.00" stroke="#222" stroke-width="1.0" />
<line x1="469.30" y1="36.63" x2="472.50" y2="36.63" stroke="#222" stroke-width="1.1" />
<rect x="467.90" y="38.00" width="6.0" height="27.40" fill="url(#hatch)"/>
<rect x="468.15" y="38.25" width="5.5" height="27.15" fill="none" stroke="#a8062f" stroke-width="0.5"/>
<text x="470.90" y="33.80" font-size="5.6" text-anchor="middle" fill="#222" stroke="#222" stroke-width="0.07" >***</text>
<line x1="480.60" y1="33.21" x2="480.60" y2="34.23" stroke="#222" stroke-width="1.0" />
<line x1="479.00" y1="33.21" x2="482.20" y2="33.21" stroke="#222" stroke-width="1.1" />
<rect x="477.60" y="34.23" width="6.0" height="31.17" fill="url(#hatch)"/>
<rect x="477.85" y="34.48" width="5.5" height="30.92" fill="none" stroke="#a8062f" stroke-width="0.5"/>
<text x="480.60" y="28.80" font-size="5.6" text-anchor="middle" fill="#222" stroke="#222" stroke-width="0.07" >***</text>
<line x1="496.10" y1="39.71" x2="496.10" y2="41.08" stroke="#222" stroke-width="1.0" />
<line x1="494.50" y1="39.71" x2="497.70" y2="39.71" stroke="#222" stroke-width="1.1" />
<rect x="493.10" y="41.08" width="6.0" height="24.32" fill="url(#hatch)"/>
<rect x="493.35" y="41.33" width="5.5" height="24.07" fill="none" stroke="#a8062f" stroke-width="0.5"/>
<text x="496.10" y="33.40" font-size="5.6" text-anchor="middle" fill="#222" stroke="#222" stroke-width="0.07" >***</text>
<line x1="506.20" y1="33.55" x2="506.20" y2="34.92" stroke="#222" stroke-width="1.0" />
<line x1="504.60" y1="33.55" x2="507.80" y2="33.55" stroke="#222" stroke-width="1.1" />
<rect x="503.20" y="34.92" width="6.0" height="30.48" fill="url(#hatch)"/>
<rect x="503.45" y="35.17" width="5.5" height="30.23" fill="none" stroke="#a8062f" stroke-width="0.5"/>
<text x="506.20" y="28.80" font-size="5.6" text-anchor="middle" fill="#222" stroke="#222" stroke-width="0.07" >****</text>
<line x1="423.50" y1="22.50" x2="423.50" y2="65.85" stroke="#1a1a1a" stroke-width="1" />
<line x1="423.00" y1="65.40" x2="512.80" y2="65.40" stroke="#1a1a1a" stroke-width="1" />
<line x1="429.40" y1="65.40" x2="429.40" y2="67.60" stroke="#222" stroke-width="0.8" />
<line x1="445.20" y1="65.40" x2="445.20" y2="67.60" stroke="#222" stroke-width="0.8" />
<line x1="455.20" y1="65.40" x2="455.20" y2="67.60" stroke="#222" stroke-width="0.8" />
<line x1="470.90" y1="65.40" x2="470.90" y2="67.60" stroke="#222" stroke-width="0.8" />
<line x1="480.60" y1="65.40" x2="480.60" y2="67.60" stroke="#222" stroke-width="0.8" />
<line x1="496.10" y1="65.40" x2="496.10" y2="67.60" stroke="#222" stroke-width="0.8" />
<line x1="506.20" y1="65.40" x2="506.20" y2="67.60" stroke="#222" stroke-width="0.8" />
<text x="394.60" y="43.60" font-size="7.2" text-anchor="middle" fill="#222" stroke="#222" stroke-width="0.07" textLength="40.00" lengthAdjust="spacingAndGlyphs" transform="rotate(-90 394.60 43.60)" >CD11b (MFI)</text>
<line x1="420.60" y1="115.10" x2="423.50" y2="115.10" stroke="#222" stroke-width="0.9" />
<text x="418.00" y="115.10" font-size="6.5" text-anchor="end" fill="#222" stroke="#222" stroke-width="0.07" textLength="9.98" lengthAdjust="spacingAndGlyphs" >200</text>
<line x1="420.60" y1="95.55" x2="423.50" y2="95.55" stroke="#222" stroke-width="0.9" />
<text x="418.00" y="95.55" font-size="6.5" text-anchor="end" fill="#222" stroke="#222" stroke-width="0.07" textLength="9.98" lengthAdjust="spacingAndGlyphs" >400</text>
<line x1="420.60" y1="76.00" x2="423.50" y2="76.00" stroke="#222" stroke-width="0.9" />
<text x="418.00" y="76.00" font-size="6.5" text-anchor="end" fill="#222" stroke="#222" stroke-width="0.07" textLength="9.98" lengthAdjust="spacingAndGlyphs" >600</text>
<line x1="429.40" y1="104.84" x2="429.40" y2="105.32" stroke="#222" stroke-width="1.0" />
<line x1="427.80" y1="104.84" x2="431.00" y2="104.84" stroke="#222" stroke-width="1.1" />
<rect x="426.40" y="105.32" width="6.0" height="9.78" fill="#213f86"/>
<line x1="444.80" y1="81.38" x2="444.80" y2="81.86" stroke="#222" stroke-width="1.0" />
<line x1="443.20" y1="81.38" x2="446.40" y2="81.38" stroke="#222" stroke-width="1.1" />
<rect x="441.80" y="81.86" width="6.0" height="33.23" fill="#a8062f"/>
<line x1="454.10" y1="80.40" x2="454.10" y2="80.89" stroke="#222" stroke-width="1.0" />
<line x1="452.50" y1="80.40" x2="455.70" y2="80.40" stroke="#222" stroke-width="1.1" />
<rect x="451.10" y="80.89" width="6.0" height="34.21" fill="#a8062f"/>
<line x1="469.00" y1="83.33" x2="469.00" y2="84.80" stroke="#222" stroke-width="1.0" />
<line x1="467.40" y1="83.33" x2="470.60" y2="83.33" stroke="#222" stroke-width="1.1" />
<rect x="466.00" y="84.80" width="6.0" height="30.30" fill="url(#hatch)"/>
<rect x="466.25" y="85.05" width="5.5" height="30.05" fill="none" stroke="#a8062f" stroke-width="0.5"/>
<line x1="478.30" y1="80.89" x2="478.30" y2="81.86" stroke="#222" stroke-width="1.0" />
<line x1="476.70" y1="80.89" x2="479.90" y2="80.89" stroke="#222" stroke-width="1.1" />
<rect x="475.30" y="81.86" width="6.0" height="33.23" fill="url(#hatch)"/>
<rect x="475.55" y="82.11" width="5.5" height="32.98" fill="none" stroke="#a8062f" stroke-width="0.5"/>
<line x1="493.40" y1="86.26" x2="493.40" y2="87.24" stroke="#222" stroke-width="1.0" />
<line x1="491.80" y1="86.26" x2="495.00" y2="86.26" stroke="#222" stroke-width="1.1" />
<rect x="490.40" y="87.24" width="6.0" height="27.86" fill="url(#hatch)"/>
<rect x="490.65" y="87.49" width="5.5" height="27.61" fill="none" stroke="#a8062f" stroke-width="0.5"/>
<line x1="502.70" y1="81.86" x2="502.70" y2="82.84" stroke="#222" stroke-width="1.0" />
<line x1="501.10" y1="81.86" x2="504.30" y2="81.86" stroke="#222" stroke-width="1.1" />
<rect x="499.70" y="82.84" width="6.0" height="32.26" fill="url(#hatch)"/>
<rect x="499.95" y="83.09" width="5.5" height="32.01" fill="none" stroke="#a8062f" stroke-width="0.5"/>
<text x="449.40" y="78.20" font-size="5.6" text-anchor="middle" fill="#222" stroke="#222" stroke-width="0.07" >****</text>
<text x="473.60" y="78.20" font-size="5.6" text-anchor="middle" fill="#222" stroke="#222" stroke-width="0.07" >****</text>
<text x="498.00" y="78.20" font-size="5.6" text-anchor="middle" fill="#222" stroke="#222" stroke-width="0.07" >****</text>
<line x1="423.50" y1="73.90" x2="423.50" y2="115.55" stroke="#1a1a1a" stroke-width="1" />
<line x1="423.00" y1="115.10" x2="509.50" y2="115.10" stroke="#1a1a1a" stroke-width="1" />
<line x1="429.40" y1="115.10" x2="429.40" y2="117.30" stroke="#222" stroke-width="0.8" />
<line x1="444.80" y1="115.10" x2="444.80" y2="117.30" stroke="#222" stroke-width="0.8" />
<line x1="454.10" y1="115.10" x2="454.10" y2="117.30" stroke="#222" stroke-width="0.8" />
<line x1="469.00" y1="115.10" x2="469.00" y2="117.30" stroke="#222" stroke-width="0.8" />
<line x1="478.30" y1="115.10" x2="478.30" y2="117.30" stroke="#222" stroke-width="0.8" />
<line x1="493.40" y1="115.10" x2="493.40" y2="117.30" stroke="#222" stroke-width="0.8" />
<line x1="502.70" y1="115.10" x2="502.70" y2="117.30" stroke="#222" stroke-width="0.8" />
<text x="394.60" y="94.20" font-size="7.2" text-anchor="middle" fill="#222" stroke="#222" stroke-width="0.07" textLength="30.00" lengthAdjust="spacingAndGlyphs" transform="rotate(-90 394.60 94.20)" >Gr1 (MFI)</text>
<text x="429.50" y="121.00" font-size="6.8" text-anchor="end" fill="#222" stroke="#222" stroke-width="0.07" textLength="19.60" lengthAdjust="spacingAndGlyphs" transform="rotate(-90 429.50 121.00)" >DMSO</text>
<text x="444.90" y="121.00" font-size="6.8" text-anchor="end" fill="#222" stroke="#222" stroke-width="0.07" textLength="20.00" lengthAdjust="spacingAndGlyphs" transform="rotate(-90 444.90 121.00)" >250nM</text>
<text x="453.90" y="121.00" font-size="6.8" text-anchor="end" fill="#222" stroke="#222" stroke-width="0.07" textLength="20.00" lengthAdjust="spacingAndGlyphs" transform="rotate(-90 453.90 121.00)" >500nM</text>
<text x="469.20" y="121.00" font-size="6.8" text-anchor="end" fill="#222" stroke="#222" stroke-width="0.07" textLength="15.80" lengthAdjust="spacingAndGlyphs" transform="rotate(-90 469.20 121.00)" >50nM</text>
<text x="477.80" y="121.00" font-size="6.8" text-anchor="end" fill="#222" stroke="#222" stroke-width="0.07" textLength="20.00" lengthAdjust="spacingAndGlyphs" transform="rotate(-90 477.80 121.00)" >100nM</text>
<text x="494.20" y="121.00" font-size="6.8" text-anchor="end" fill="#222" stroke="#222" stroke-width="0.07" textLength="15.80" lengthAdjust="spacingAndGlyphs" transform="rotate(-90 494.20 121.00)" >50nM</text>
<text x="502.40" y="121.00" font-size="6.8" text-anchor="end" fill="#222" stroke="#222" stroke-width="0.07" textLength="20.00" lengthAdjust="spacingAndGlyphs" transform="rotate(-90 502.40 121.00)" >100nM</text>
<line x1="440.30" y1="144.30" x2="458.40" y2="144.30" stroke="#333" stroke-width="0.9" />
<line x1="464.50" y1="144.30" x2="482.70" y2="144.30" stroke="#333" stroke-width="0.9" />
<line x1="489.10" y1="144.30" x2="508.00" y2="144.30" stroke="#333" stroke-width="0.9" />
<text x="449.30" y="151.90" font-size="6.6" text-anchor="middle" fill="#222" stroke="#222" stroke-width="0.07" >EPZ</text>
<text x="449.30" y="159.30" font-size="6.6" text-anchor="middle" fill="#222" stroke="#222" stroke-width="0.07" >5676</text>
<text x="473.60" y="151.90" font-size="6.6" text-anchor="middle" fill="#222" stroke="#222" stroke-width="0.07" >comp.</text>
<text x="473.60" y="159.30" font-size="6.6" text-anchor="middle" fill="#222" stroke="#222" stroke-width="0.07" >10</text>
<text x="498.80" y="151.90" font-size="6.6" text-anchor="middle" fill="#222" stroke="#222" stroke-width="0.07" >comp.</text>
<text x="498.80" y="159.30" font-size="6.6" text-anchor="middle" fill="#222" stroke="#222" stroke-width="0.07" >11</text>
<text x="396.60" y="185.30" font-size="11.5" text-anchor="start" fill="#111" stroke="#111" stroke-width="0.07" font-weight="bold" textLength="8.60" lengthAdjust="spacingAndGlyphs" >D</text>
<rect x="396.40" y="201.20" width="57.30" height="53.30" rx="0.8" fill="#fdfbf9" stroke="#3a3a3a" stroke-width="1.1"/>
<text x="424.30" y="194.40" font-size="6.6" text-anchor="middle" fill="#222" stroke="#222" stroke-width="0.07" textLength="19.80" lengthAdjust="spacingAndGlyphs" >DMSO</text>
<text x="402.10" y="248.90" font-size="5.4" text-anchor="start" fill="#333" stroke="#333" stroke-width="0.07" textLength="13.20" lengthAdjust="spacingAndGlyphs" >35μm</text>
<line x1="399.70" y1="251.20" x2="417.50" y2="251.20" stroke="#333" stroke-width="0.8" />
<rect x="455.70" y="201.10" width="56.90" height="53.30" rx="0.8" fill="#fdfbf9" stroke="#3a3a3a" stroke-width="1.1"/>
<text x="488.00" y="194.40" font-size="6.6" text-anchor="middle" fill="#222" stroke="#222" stroke-width="0.07" textLength="25.30" lengthAdjust="spacingAndGlyphs" >EPZ5676</text>
<text x="461.40" y="248.80" font-size="5.4" text-anchor="start" fill="#333" stroke="#333" stroke-width="0.07" textLength="13.20" lengthAdjust="spacingAndGlyphs" >35μm</text>
<line x1="459.00" y1="251.10" x2="476.80" y2="251.10" stroke="#333" stroke-width="0.8" />
<rect x="396.30" y="273.30" width="57.40" height="53.40" rx="0.8" fill="#fdfbf9" stroke="#3a3a3a" stroke-width="1.1"/>
<text x="424.00" y="270.30" font-size="6.6" text-anchor="middle" fill="#222" stroke="#222" stroke-width="0.07" textLength="40.50" lengthAdjust="spacingAndGlyphs" >compound 10</text>
<text x="402.00" y="321.10" font-size="5.4" text-anchor="start" fill="#333" stroke="#333" stroke-width="0.07" textLength="13.20" lengthAdjust="spacingAndGlyphs" >35μm</text>
<line x1="399.60" y1="323.40" x2="417.40" y2="323.40" stroke="#333" stroke-width="0.8" />
<rect x="455.50" y="273.30" width="57.10" height="53.10" rx="0.8" fill="#fdfbf9" stroke="#3a3a3a" stroke-width="1.1"/>
<text x="486.40" y="270.30" font-size="6.6" text-anchor="middle" fill="#222" stroke="#222" stroke-width="0.07" textLength="39.80" lengthAdjust="spacingAndGlyphs" >compound 11</text>
<text x="461.20" y="320.80" font-size="5.4" text-anchor="start" fill="#333" stroke="#333" stroke-width="0.07" textLength="13.20" lengthAdjust="spacingAndGlyphs" >35μm</text>
<line x1="458.80" y1="323.10" x2="476.60" y2="323.10" stroke="#333" stroke-width="0.8" />
<ellipse cx="425.40" cy="208.90" rx="4.90" ry="4.90" fill="#7479d4" stroke="#eef0fa" stroke-width="0.7"/>
<ellipse cx="425.70" cy="208.70" rx="3.10" ry="2.84" fill="#9b4fc2" opacity="0.9"/>
<ellipse cx="426.20" cy="209.50" rx="1.29" ry="1.07" fill="#c482d6" opacity="0.6"/>
<ellipse cx="426.50" cy="215.30" rx="5.00" ry="5.00" fill="#7479d4" stroke="#eef0fa" stroke-width="0.7"/>
<ellipse cx="426.80" cy="215.10" rx="3.17" ry="2.90" fill="#9b4fc2" opacity="0.9"/>
<ellipse cx="427.30" cy="215.90" rx="1.32" ry="1.10" fill="#c482d6" opacity="0.6"/>
<ellipse cx="420.30" cy="220.40" rx="3.90" ry="3.90" fill="#7479d4" stroke="#eef0fa" stroke-width="0.7"/>
<ellipse cx="420.60" cy="220.20" rx="2.38" ry="2.18" fill="#9b4fc2" opacity="0.9"/>
<ellipse cx="421.10" cy="221.00" rx="0.99" ry="0.82" fill="#c482d6" opacity="0.6"/>
<ellipse cx="435.20" cy="218.90" rx="4.90" ry="4.90" fill="#7479d4" stroke="#eef0fa" stroke-width="0.7"/>
<ellipse cx="435.50" cy="218.70" rx="3.10" ry="2.84" fill="#9b4fc2" opacity="0.9"/>
<ellipse cx="436.00" cy="219.50" rx="1.29" ry="1.07" fill="#c482d6" opacity="0.6"/>
<ellipse cx="427.00" cy="224.20" rx="5.20" ry="5.20" fill="#7479d4" stroke="#eef0fa" stroke-width="0.7"/>
<ellipse cx="427.30" cy="224.00" rx="3.31" ry="3.04" fill="#9b4fc2" opacity="0.9"/>
<ellipse cx="427.80" cy="224.80" rx="1.38" ry="1.15" fill="#c482d6" opacity="0.6"/>
<ellipse cx="436.20" cy="227.10" rx="4.40" ry="4.40" fill="#7479d4" stroke="#eef0fa" stroke-width="0.7"/>
<ellipse cx="436.50" cy="226.90" rx="2.74" ry="2.51" fill="#9b4fc2" opacity="0.9"/>
<ellipse cx="437.00" cy="227.70" rx="1.14" ry="0.95" fill="#c482d6" opacity="0.6"/>
<ellipse cx="422.90" cy="230.70" rx="5.20" ry="5.20" fill="#7479d4" stroke="#eef0fa" stroke-width="0.7"/>
<ellipse cx="423.20" cy="230.50" rx="3.31" ry="3.04" fill="#9b4fc2" opacity="0.9"/>
<ellipse cx="423.70" cy="231.30" rx="1.38" ry="1.15" fill="#c482d6" opacity="0.6"/>
<ellipse cx="432.60" cy="232.70" rx="4.60" ry="4.60" fill="#7479d4" stroke="#eef0fa" stroke-width="0.7"/>
<ellipse cx="432.90" cy="232.50" rx="2.88" ry="2.64" fill="#9b4fc2" opacity="0.9"/>
<ellipse cx="433.40" cy="233.30" rx="1.20" ry="1.00" fill="#c482d6" opacity="0.6"/>
<ellipse cx="440.80" cy="234.80" rx="4.80" ry="4.80" fill="#7479d4" stroke="#eef0fa" stroke-width="0.7"/>
<ellipse cx="441.10" cy="234.60" rx="3.02" ry="2.77" fill="#9b4fc2" opacity="0.9"/>
<ellipse cx="441.60" cy="235.40" rx="1.26" ry="1.05" fill="#c482d6" opacity="0.6"/>
<ellipse cx="420.30" cy="240.40" rx="4.90" ry="4.90" fill="#7479d4" stroke="#eef0fa" stroke-width="0.7"/>
<ellipse cx="420.60" cy="240.20" rx="3.10" ry="2.84" fill="#9b4fc2" opacity="0.9"/>
<ellipse cx="421.10" cy="241.00" rx="1.29" ry="1.07" fill="#c482d6" opacity="0.6"/>
<ellipse cx="429.00" cy="240.90" rx="4.80" ry="4.80" fill="#7479d4" stroke="#eef0fa" stroke-width="0.7"/>
<ellipse cx="429.30" cy="240.70" rx="3.02" ry="2.77" fill="#9b4fc2" opacity="0.9"/>
<ellipse cx="429.80" cy="241.50" rx="1.26" ry="1.05" fill="#c482d6" opacity="0.6"/>
<ellipse cx="435.70" cy="240.40" rx="4.00" ry="4.00" fill="#7479d4" stroke="#eef0fa" stroke-width="0.7"/>
<ellipse cx="436.00" cy="240.20" rx="2.45" ry="2.24" fill="#9b4fc2" opacity="0.9"/>
<ellipse cx="436.50" cy="241.00" rx="1.02" ry="0.85" fill="#c482d6" opacity="0.6"/>
<circle cx="408.5" cy="232" r="0.8" fill="#e6b8c8"/><circle cx="410" cy="236" r="0.7" fill="#e6b8c8"/>
<ellipse cx="465.30" cy="211.30" rx="3.50" ry="3.50" fill="#b6bdea" opacity="0.75"/>
<ellipse cx="465.30" cy="211.30" rx="2.18" ry="2.02" fill="#5a44b8" opacity="0.92"/>
<ellipse cx="465.60" cy="211.50" rx="1.01" ry="0.84" fill="#9d94d8"/>
<ellipse cx="471.40" cy="211.90" rx="3.50" ry="3.50" fill="#b6bdea" opacity="0.75"/>
<ellipse cx="471.40" cy="211.90" rx="2.18" ry="2.02" fill="#5a44b8" opacity="0.92"/>
<ellipse cx="471.70" cy="212.10" rx="1.01" ry="0.84" fill="#9d94d8"/>
<ellipse cx="475.70" cy="212.40" rx="3.40" ry="3.40" fill="#b6bdea" opacity="0.75"/>
<ellipse cx="475.70" cy="212.40" rx="2.11" ry="1.94" fill="#5a44b8" opacity="0.92"/>
<ellipse cx="476.00" cy="212.60" rx="0.97" ry="0.81" fill="#9d94d8"/>
<ellipse cx="480.70" cy="213.50" rx="3.50" ry="3.50" fill="#b6bdea" opacity="0.75"/>
<ellipse cx="480.70" cy="213.50" rx="2.18" ry="2.02" fill="#5a44b8" opacity="0.92"/>
<ellipse cx="481.00" cy="213.70" rx="1.01" ry="0.84" fill="#9d94d8"/>
<ellipse cx="465.30" cy="217.90" rx="5.70" ry="5.70" fill="#b6bdea" opacity="0.75"/>
<ellipse cx="465.30" cy="217.90" rx="3.90" ry="3.60" fill="#5a44b8" opacity="0.92"/>
<ellipse cx="465.60" cy="218.10" rx="1.80" ry="1.50" fill="#9d94d8"/>
<ellipse cx="473.50" cy="217.40" rx="4.60" ry="4.60" fill="#b6bdea" opacity="0.75"/>
<ellipse cx="473.50" cy="217.40" rx="3.04" ry="2.81" fill="#5a44b8" opacity="0.92"/>
<ellipse cx="473.80" cy="217.60" rx="1.40" ry="1.17" fill="#9d94d8"/>
<ellipse cx="488.90" cy="218.40" rx="4.60" ry="4.60" fill="#b6bdea" opacity="0.75"/>
<ellipse cx="488.90" cy="218.40" rx="3.04" ry="2.81" fill="#5a44b8" opacity="0.92"/>
<ellipse cx="489.20" cy="218.60" rx="1.40" ry="1.17" fill="#9d94d8"/>
<ellipse cx="483.40" cy="217.40" rx="3.40" ry="3.40" fill="#b6bdea" opacity="0.75"/>
<ellipse cx="483.40" cy="217.40" rx="2.11" ry="1.94" fill="#5a44b8" opacity="0.92"/>
<ellipse cx="483.70" cy="217.60" rx="0.97" ry="0.81" fill="#9d94d8"/>
<ellipse cx="479.60" cy="220.10" rx="3.50" ry="3.50" fill="#b6bdea" opacity="0.75"/>
<ellipse cx="479.60" cy="220.10" rx="2.18" ry="2.02" fill="#5a44b8" opacity="0.92"/>
<ellipse cx="479.90" cy="220.30" rx="1.01" ry="0.84" fill="#9d94d8"/>
<ellipse cx="474.10" cy="222.80" rx="3.50" ry="3.50" fill="#b6bdea" opacity="0.75"/>
<ellipse cx="474.10" cy="222.80" rx="2.18" ry="2.02" fill="#5a44b8" opacity="0.92"/>
<ellipse cx="474.40" cy="223.00" rx="1.01" ry="0.84" fill="#9d94d8"/>
<ellipse cx="465.90" cy="225.60" rx="5.20" ry="5.20" fill="#b6bdea" opacity="0.75"/>
<ellipse cx="465.90" cy="225.60" rx="3.51" ry="3.24" fill="#5a44b8" opacity="0.92"/>
<ellipse cx="466.20" cy="225.80" rx="1.62" ry="1.35" fill="#9d94d8"/>
<ellipse cx="472.40" cy="226.70" rx="4.10" ry="4.10" fill="#b6bdea" opacity="0.75"/>
<ellipse cx="472.40" cy="226.70" rx="2.65" ry="2.45" fill="#5a44b8" opacity="0.92"/>
<ellipse cx="472.70" cy="226.90" rx="1.22" ry="1.02" fill="#9d94d8"/>
<ellipse cx="484.00" cy="225.60" rx="5.70" ry="5.70" fill="#b6bdea" opacity="0.75"/>
<ellipse cx="484.00" cy="225.60" rx="3.90" ry="3.60" fill="#5a44b8" opacity="0.92"/>
<ellipse cx="484.30" cy="225.80" rx="1.80" ry="1.50" fill="#9d94d8"/>
<ellipse cx="493.30" cy="226.70" rx="3.90" ry="3.90" fill="#b6bdea" opacity="0.75"/>
<ellipse cx="493.30" cy="226.70" rx="2.50" ry="2.30" fill="#5a44b8" opacity="0.92"/>
<ellipse cx="493.60" cy="226.90" rx="1.15" ry="0.96" fill="#9d94d8"/>
<ellipse cx="499.30" cy="226.70" rx="3.50" ry="3.50" fill="#b6bdea" opacity="0.75"/>
<ellipse cx="499.30" cy="226.70" rx="2.18" ry="2.02" fill="#5a44b8" opacity="0.92"/>
<ellipse cx="499.60" cy="226.90" rx="1.01" ry="0.84" fill="#9d94d8"/>
<ellipse cx="507.50" cy="232.20" rx="4.50" ry="4.50" fill="#b6bdea" opacity="0.75"/>
<ellipse cx="507.50" cy="232.20" rx="2.96" ry="2.74" fill="#5a44b8" opacity="0.92"/>
<ellipse cx="507.80" cy="232.40" rx="1.37" ry="1.14" fill="#9d94d8"/>
<ellipse cx="504.80" cy="239.80" rx="4.50" ry="4.50" fill="#b6bdea" opacity="0.75"/>
<ellipse cx="504.80" cy="239.80" rx="2.96" ry="2.74" fill="#5a44b8" opacity="0.92"/>
<ellipse cx="505.10" cy="240.00" rx="1.37" ry="1.14" fill="#9d94d8"/>
<ellipse cx="510.30" cy="246.40" rx="3.30" ry="3.30" fill="#b6bdea" opacity="0.75"/>
<ellipse cx="510.30" cy="246.40" rx="2.03" ry="1.87" fill="#5a44b8" opacity="0.92"/>
<ellipse cx="510.60" cy="246.60" rx="0.94" ry="0.78" fill="#9d94d8"/>
<ellipse cx="417.70" cy="294.90" rx="3.20" ry="3.20" fill="#b4c8ee" opacity="0.55"/>
<ellipse cx="417.70" cy="294.90" rx="1.84" ry="1.84" fill="#5a3cc8"/>
<ellipse cx="417.90" cy="295.00" rx="0.76" ry="0.76" fill="#c9c0ec"/>
<ellipse cx="422.60" cy="291.50" rx="3.70" ry="3.70" fill="#b4c8ee" opacity="0.55"/>
<ellipse cx="422.60" cy="291.50" rx="2.24" ry="2.24" fill="#5a3cc8"/>
<ellipse cx="422.80" cy="291.60" rx="0.92" ry="0.92" fill="#c9c0ec"/>
<ellipse cx="422.60" cy="298.00" rx="3.40" ry="3.40" fill="#b4c8ee" opacity="0.55"/>
<ellipse cx="422.60" cy="298.00" rx="2.00" ry="2.00" fill="#5a3cc8"/>
<ellipse cx="422.80" cy="298.10" rx="0.83" ry="0.83" fill="#c9c0ec"/>
<ellipse cx="429.00" cy="295.20" rx="4.50" ry="3.10" fill="#b4c8ee" opacity="0.55"/>
<ellipse cx="429.00" cy="295.20" rx="2.88" ry="1.76" fill="#5a3cc8"/>
<ellipse cx="429.20" cy="295.30" rx="1.19" ry="0.73" fill="#c9c0ec"/>
<ellipse cx="417.40" cy="301.60" rx="3.20" ry="3.20" fill="#b4c8ee" opacity="0.55"/>
<ellipse cx="417.40" cy="301.60" rx="1.84" ry="1.84" fill="#5a3cc8"/>
<ellipse cx="417.60" cy="301.70" rx="0.76" ry="0.76" fill="#c9c0ec"/>
<ellipse cx="423.20" cy="304.10" rx="3.70" ry="3.70" fill="#b4c8ee" opacity="0.55"/>
<ellipse cx="423.20" cy="304.10" rx="2.24" ry="2.24" fill="#5a3cc8"/>
<ellipse cx="423.40" cy="304.20" rx="0.92" ry="0.92" fill="#c9c0ec"/>
<ellipse cx="429.60" cy="300.40" rx="3.90" ry="3.90" fill="#b4c8ee" opacity="0.55"/>
<ellipse cx="429.60" cy="300.40" rx="2.40" ry="2.40" fill="#5a3cc8"/>
<ellipse cx="429.80" cy="300.50" rx="0.99" ry="0.99" fill="#c9c0ec"/>
<ellipse cx="473.70" cy="287.70" rx="4.40" ry="4.40" fill="#b4c8ee" opacity="0.55"/>
<ellipse cx="473.70" cy="287.70" rx="2.80" ry="2.80" fill="#5a3cc8"/>
<ellipse cx="481.00" cy="287.70" rx="4.40" ry="4.40" fill="#b4c8ee" opacity="0.55"/>
<ellipse cx="481.00" cy="287.70" rx="2.80" ry="2.80" fill="#5a3cc8"/>
<ellipse cx="488.00" cy="285.70" rx="3.40" ry="3.40" fill="#b4c8ee" opacity="0.55"/>
<ellipse cx="488.00" cy="285.70" rx="2.00" ry="2.00" fill="#5a3cc8"/>
<ellipse cx="488.20" cy="285.80" rx="0.83" ry="0.83" fill="#c9c0ec"/>
<ellipse cx="489.60" cy="291.90" rx="3.70" ry="3.70" fill="#b4c8ee" opacity="0.55"/>
<ellipse cx="489.60" cy="291.90" rx="2.24" ry="2.24" fill="#5a3cc8"/>
<ellipse cx="489.80" cy="292.00" rx="0.92" ry="0.92" fill="#c9c0ec"/>
<ellipse cx="485.30" cy="294.60" rx="2.90" ry="2.90" fill="#b4c8ee" opacity="0.55"/>
<ellipse cx="485.30" cy="294.60" rx="1.60" ry="1.60" fill="#5a3cc8"/>
<ellipse cx="485.50" cy="294.70" rx="0.66" ry="0.66" fill="#c9c0ec"/>
<ellipse cx="478.30" cy="295.80" rx="3.90" ry="3.90" fill="#b4c8ee" opacity="0.55"/>
<ellipse cx="478.30" cy="295.80" rx="2.40" ry="2.40" fill="#5a3cc8"/>
<ellipse cx="478.50" cy="295.90" rx="0.99" ry="0.99" fill="#c9c0ec"/>
<ellipse cx="470.50" cy="297.40" rx="4.10" ry="4.10" fill="#b4c8ee" opacity="0.55"/>
<ellipse cx="470.50" cy="297.40" rx="2.56" ry="2.56" fill="#5a3cc8"/>
<ellipse cx="489.60" cy="298.90" rx="3.70" ry="3.70" fill="#b4c8ee" opacity="0.55"/>
<ellipse cx="489.60" cy="298.90" rx="2.24" ry="2.24" fill="#5a3cc8"/>
<ellipse cx="489.80" cy="299.00" rx="0.92" ry="0.92" fill="#c9c0ec"/>
<ellipse cx="483.40" cy="301.30" rx="3.90" ry="3.90" fill="#b4c8ee" opacity="0.55"/>
<ellipse cx="483.40" cy="301.30" rx="2.40" ry="2.40" fill="#5a3cc8"/>
<ellipse cx="483.60" cy="301.40" rx="0.99" ry="0.99" fill="#c9c0ec"/>
<ellipse cx="477.20" cy="302.40" rx="3.70" ry="3.70" fill="#b4c8ee" opacity="0.55"/>
<ellipse cx="477.20" cy="302.40" rx="2.24" ry="2.24" fill="#5a3cc8"/>
<ellipse cx="477.40" cy="302.50" rx="0.92" ry="0.92" fill="#c9c0ec"/>
<ellipse cx="470.20" cy="303.60" rx="2.90" ry="2.90" fill="#b4c8ee" opacity="0.55"/>
<ellipse cx="470.20" cy="303.60" rx="1.60" ry="1.60" fill="#5a3cc8"/>
<ellipse cx="470.40" cy="303.70" rx="0.66" ry="0.66" fill="#c9c0ec"/>
<ellipse cx="473.70" cy="307.10" rx="3.10" ry="3.10" fill="#b4c8ee" opacity="0.55"/>
<ellipse cx="473.70" cy="307.10" rx="1.76" ry="1.76" fill="#5a3cc8"/>
<ellipse cx="473.90" cy="307.20" rx="0.73" ry="0.73" fill="#c9c0ec"/>
<ellipse cx="477.90" cy="310.60" rx="2.70" ry="2.70" fill="#b4c8ee" opacity="0.55"/>
<ellipse cx="477.90" cy="310.60" rx="1.44" ry="1.44" fill="#5a3cc8"/>
<ellipse cx="478.10" cy="310.70" rx="0.59" ry="0.59" fill="#c9c0ec"/>
<ellipse cx="474" cy="282" rx="4" ry="2" fill="#cfe0f0" opacity="0.6"/>
<text x="6.60" y="237.10" font-size="11.5" text-anchor="start" fill="#111" stroke="#111" stroke-width="0.07" font-weight="bold" textLength="7.20" lengthAdjust="spacingAndGlyphs" >E</text>
<defs><linearGradient id="blotg" x1="0" y1="0" x2="0" y2="1"><stop offset="0" stop-color="#dcdcdc"/><stop offset="0.5" stop-color="#ececec"/><stop offset="1" stop-color="#f2f2f2"/></linearGradient><filter id="bl" x="-50%" y="-100%" width="200%" height="300%"><feGaussianBlur stdDeviation="0.6"/></filter></defs>
<text x="70.00" y="233.20" font-size="6.6" text-anchor="middle" fill="#222" stroke="#222" stroke-width="0.07" textLength="40.00" lengthAdjust="spacingAndGlyphs" >compound 10</text>
<line x1="37.50" y1="240.00" x2="102.50" y2="240.00" stroke="#444" stroke-width="0.9" />
<text x="27.70" y="262.50" font-size="6.6" text-anchor="start" fill="#222" stroke="#222" stroke-width="0.07" textLength="19.30" lengthAdjust="spacingAndGlyphs" transform="rotate(-90 27.70 262.50)" >DMSO</text>
<text x="40.80" y="262.50" font-size="6.6" text-anchor="start" fill="#222" stroke="#222" stroke-width="0.07" textLength="16.50" lengthAdjust="spacingAndGlyphs" transform="rotate(-90 40.80 262.50)" >25nM</text>
<text x="53.80" y="262.50" font-size="6.6" text-anchor="start" fill="#222" stroke="#222" stroke-width="0.07" textLength="16.50" lengthAdjust="spacingAndGlyphs" transform="rotate(-90 53.80 262.50)" >50nM</text>
<text x="70.00" y="262.50" font-size="6.6" text-anchor="start" fill="#222" stroke="#222" stroke-width="0.07" textLength="20.00" lengthAdjust="spacingAndGlyphs" transform="rotate(-90 70.00 262.50)" >100nM</text>
<text x="84.50" y="262.50" font-size="6.6" text-anchor="start" fill="#222" stroke="#222" stroke-width="0.07" textLength="20.00" lengthAdjust="spacingAndGlyphs" transform="rotate(-90 84.50 262.50)" >250nM</text>
<text x="98.20" y="262.50" font-size="6.6" text-anchor="start" fill="#222" stroke="#222" stroke-width="0.07" textLength="20.00" lengthAdjust="spacingAndGlyphs" transform="rotate(-90 98.20 262.50)" >500nM</text>
<rect x="17.00" y="266.60" width="90.00" height="16.90" fill="url(#blotg)" stroke="#3c3c3c" stroke-width="1"/>
<ellipse cx="27.30" cy="276.20" rx="5.9" ry="2.5" fill="#0a0a0a" filter="url(#bl)"/>
<ellipse cx="41.10" cy="276.20" rx="5.5" ry="1.3" fill="#555" opacity="0.19" filter="url(#bl)"/>
<ellipse cx="54.10" cy="276.20" rx="5.5" ry="1.3" fill="#555" opacity="0.13" filter="url(#bl)"/>
<ellipse cx="70.30" cy="276.20" rx="5.5" ry="1.3" fill="#555" opacity="0.13" filter="url(#bl)"/>
<ellipse cx="84.80" cy="276.20" rx="5.5" ry="1.3" fill="#555" opacity="0.11" filter="url(#bl)"/>
<ellipse cx="98.50" cy="276.20" rx="5.5" ry="1.3" fill="#555" opacity="0.10" filter="url(#bl)"/>
<rect x="17.00" y="285.60" width="90.00" height="17.50" fill="url(#blotg)" stroke="#3c3c3c" stroke-width="1"/>
<ellipse cx="26.10" cy="295.20" rx="6.2" ry="1.4" fill="#0c0c0c" filter="url(#bl)"/>
<ellipse cx="41.10" cy="295.20" rx="6.9" ry="2.0" fill="#0c0c0c" filter="url(#bl)"/>
<ellipse cx="54.10" cy="295.20" rx="6.9" ry="2.0" fill="#0c0c0c" filter="url(#bl)"/>
<ellipse cx="70.30" cy="295.20" rx="6.9" ry="2.0" fill="#0c0c0c" filter="url(#bl)"/>
<ellipse cx="84.80" cy="295.20" rx="6.9" ry="2.0" fill="#0c0c0c" filter="url(#bl)"/>
<ellipse cx="98.50" cy="295.20" rx="6.9" ry="2.0" fill="#0c0c0c" filter="url(#bl)"/>
<text x="24.40" y="311.20" font-size="6.6" text-anchor="middle" fill="#222" stroke="#222" stroke-width="0.07" >1</text>
<text x="40.20" y="311.20" font-size="6.6" text-anchor="middle" fill="#222" stroke="#222" stroke-width="0.07" >0.16</text>
<text x="54.00" y="311.20" font-size="6.6" text-anchor="middle" fill="#222" stroke="#222" stroke-width="0.07" >0.1</text>
<text x="68.80" y="311.20" font-size="6.6" text-anchor="middle" fill="#222" stroke="#222" stroke-width="0.07" >0.1</text>
<text x="84.30" y="311.20" font-size="6.6" text-anchor="middle" fill="#222" stroke="#222" stroke-width="0.07" >0.08</text>
<text x="99.20" y="311.20" font-size="6.6" text-anchor="middle" fill="#222" stroke="#222" stroke-width="0.07" >0.06</text>
<text x="166.00" y="234.20" font-size="6.6" text-anchor="middle" fill="#222" stroke="#222" stroke-width="0.07" textLength="40.00" lengthAdjust="spacingAndGlyphs" >compound 11</text>
<line x1="133.80" y1="240.50" x2="198.80" y2="240.50" stroke="#444" stroke-width="0.9" />
<text x="124.50" y="263.80" font-size="6.6" text-anchor="start" fill="#222" stroke="#222" stroke-width="0.07" textLength="19.30" lengthAdjust="spacingAndGlyphs" transform="rotate(-90 124.50 263.80)" >DMSO</text>
<text x="137.00" y="263.80" font-size="6.6" text-anchor="start" fill="#222" stroke="#222" stroke-width="0.07" textLength="16.50" lengthAdjust="spacingAndGlyphs" transform="rotate(-90 137.00 263.80)" >25nM</text>
<text x="149.60" y="263.80" font-size="6.6" text-anchor="start" fill="#222" stroke="#222" stroke-width="0.07" textLength="16.50" lengthAdjust="spacingAndGlyphs" transform="rotate(-90 149.60 263.80)" >50nM</text>
<text x="165.50" y="263.80" font-size="6.6" text-anchor="start" fill="#222" stroke="#222" stroke-width="0.07" textLength="20.00" lengthAdjust="spacingAndGlyphs" transform="rotate(-90 165.50 263.80)" >100nM</text>
<text x="181.00" y="263.80" font-size="6.6" text-anchor="start" fill="#222" stroke="#222" stroke-width="0.07" textLength="20.00" lengthAdjust="spacingAndGlyphs" transform="rotate(-90 181.00 263.80)" >250nM</text>
<text x="195.00" y="263.80" font-size="6.6" text-anchor="start" fill="#222" stroke="#222" stroke-width="0.07" textLength="20.00" lengthAdjust="spacingAndGlyphs" transform="rotate(-90 195.00 263.80)" >500nM</text>
<rect x="115.50" y="268.60" width="89.10" height="16.70" fill="url(#blotg)" stroke="#3c3c3c" stroke-width="1"/>
<ellipse cx="124.10" cy="278.20" rx="5.9" ry="2.5" fill="#0a0a0a" filter="url(#bl)"/>
<ellipse cx="137.30" cy="278.20" rx="5.5" ry="1.3" fill="#555" opacity="0.80" filter="url(#bl)"/>
<ellipse cx="149.90" cy="278.20" rx="5.5" ry="1.3" fill="#555" opacity="0.51" filter="url(#bl)"/>
<ellipse cx="165.80" cy="278.20" rx="5.5" ry="1.3" fill="#555" opacity="0.58" filter="url(#bl)"/>
<ellipse cx="181.30" cy="278.20" rx="5.5" ry="1.3" fill="#555" opacity="0.38" filter="url(#bl)"/>
<ellipse cx="195.30" cy="278.20" rx="5.5" ry="1.3" fill="#555" opacity="0.45" filter="url(#bl)"/>
<rect x="115.50" y="287.60" width="89.10" height="16.80" fill="url(#blotg)" stroke="#3c3c3c" stroke-width="1"/>
<ellipse cx="122.90" cy="297.20" rx="6.2" ry="1.4" fill="#0c0c0c" filter="url(#bl)"/>
<ellipse cx="137.30" cy="297.20" rx="6.3" ry="2.0" fill="#0c0c0c" filter="url(#bl)"/>
<ellipse cx="149.90" cy="297.20" rx="6.3" ry="2.0" fill="#0c0c0c" filter="url(#bl)"/>
<ellipse cx="165.80" cy="297.20" rx="6.3" ry="2.0" fill="#0c0c0c" filter="url(#bl)"/>
<ellipse cx="181.30" cy="297.20" rx="6.3" ry="2.0" fill="#0c0c0c" filter="url(#bl)"/>
<ellipse cx="195.30" cy="297.20" rx="6.3" ry="2.0" fill="#0c0c0c" filter="url(#bl)"/>
<text x="125.00" y="312.00" font-size="6.6" text-anchor="middle" fill="#222" stroke="#222" stroke-width="0.07" >1</text>
<text x="139.50" y="312.00" font-size="6.6" text-anchor="middle" fill="#222" stroke="#222" stroke-width="0.07" >0.29</text>
<text x="168.20" y="312.00" font-size="6.6" text-anchor="middle" fill="#222" stroke="#222" stroke-width="0.07" >0.14</text>
<text x="183.30" y="312.00" font-size="6.6" text-anchor="middle" fill="#222" stroke="#222" stroke-width="0.07" >0.08</text>
<text x="198.30" y="312.00" font-size="6.6" text-anchor="middle" fill="#222" stroke="#222" stroke-width="0.07" >0.08</text>
<text x="154.50" y="320.50" font-size="6.6" text-anchor="middle" fill="#222" stroke="#222" stroke-width="0.07" >0.12</text>
<text x="209.30" y="280.30" font-size="6.6" text-anchor="start" fill="#222" stroke="#222" stroke-width="0.07" textLength="32.00" lengthAdjust="spacingAndGlyphs" >H3K79me2</text>
<text x="209.30" y="299.70" font-size="6.6" text-anchor="start" fill="#222" stroke="#222" stroke-width="0.07" textLength="23.00" lengthAdjust="spacingAndGlyphs" >total H3</text>
<text x="6.60" y="340.30" font-size="11.5" text-anchor="start" fill="#111" stroke="#111" stroke-width="0.07" font-weight="bold" textLength="6.80" lengthAdjust="spacingAndGlyphs" >F</text>
<text x="148.30" y="350.90" font-size="8.3" text-anchor="middle" fill="#222" stroke="#222" stroke-width="0.07" textLength="36.30" lengthAdjust="spacingAndGlyphs" >all genes:</text>
<line x1="130.20" y1="355.80" x2="166.50" y2="355.80" stroke="#333" stroke-width="0.7" />
<line x1="29.40" y1="469.00" x2="29.40" y2="382.40" stroke="#2a2a2a" stroke-width="1.3" />
<line x1="28.75" y1="469.00" x2="243.20" y2="469.00" stroke="#2a2a2a" stroke-width="1.3" />
<path d="M26.10,384.60 L29.40,377.40 L32.70,384.60 L29.40,383.00 Z" fill="#111"/>
<path d="M241.00,465.70 L248.20,469.00 L241.00,472.30 L242.60,469.00 Z" fill="#111"/>
<text x="11.10" y="423.40" font-size="9.0" text-anchor="middle" fill="#333" stroke="#333" stroke-width="0.07" textLength="60.50" lengthAdjust="spacingAndGlyphs" transform="rotate(-90 11.10 423.40)" >Read count / million</text>
<text x="21.80" y="423.80" font-size="9.0" text-anchor="middle" fill="#333" stroke="#333" stroke-width="0.07" textLength="43.30" lengthAdjust="spacingAndGlyphs" transform="rotate(-90 21.80 423.80)" >mapped reads</text>
<text x="139.00" y="475.90" font-size="8.6" text-anchor="middle" fill="#333" stroke="#333" stroke-width="0.07" textLength="47.50" lengthAdjust="spacingAndGlyphs" >Genomic region</text>
<text x="75.10" y="371.30" font-size="6.5" text-anchor="middle" fill="#222" stroke="#222" stroke-width="0.07" textLength="46.00" lengthAdjust="spacingAndGlyphs" >H3K79me2 – 3d</text>
<line x1="47.80" y1="377.70" x2="47.80" y2="444.40" stroke="#222" stroke-width="1" />
<line x1="47.30" y1="443.90" x2="100.80" y2="443.90" stroke="#222" stroke-width="1" />
<line x1="45.20" y1="382.80" x2="47.80" y2="382.80" stroke="#222" stroke-width="0.9" />
<line x1="45.20" y1="395.00" x2="47.80" y2="395.00" stroke="#222" stroke-width="0.9" />
<text x="41.70" y="394.80" font-size="7.0" text-anchor="end" fill="#222" stroke="#222" stroke-width="0.07" textLength="9.00" lengthAdjust="spacingAndGlyphs" >0.2</text>
<line x1="45.20" y1="407.20" x2="47.80" y2="407.20" stroke="#222" stroke-width="0.9" />
<line x1="45.20" y1="419.40" x2="47.80" y2="419.40" stroke="#222" stroke-width="0.9" />
<text x="41.70" y="419.20" font-size="7.0" text-anchor="end" fill="#222" stroke="#222" stroke-width="0.07" textLength="9.00" lengthAdjust="spacingAndGlyphs" >0.4</text>
<line x1="45.20" y1="431.40" x2="47.80" y2="431.40" stroke="#222" stroke-width="0.9" />
<line x1="45.20" y1="443.00" x2="47.80" y2="443.00" stroke="#222" stroke-width="0.9" />
<text x="41.70" y="442.80" font-size="7.0" text-anchor="end" fill="#222" stroke="#222" stroke-width="0.07" textLength="9.00" lengthAdjust="spacingAndGlyphs" >0.0</text>
<line x1="50.20" y1="443.90" x2="50.20" y2="446.30" stroke="#222" stroke-width="0.9" />
<line x1="59.90" y1="443.90" x2="59.90" y2="446.30" stroke="#222" stroke-width="0.9" />
<line x1="69.60" y1="443.90" x2="69.60" y2="446.30" stroke="#222" stroke-width="0.9" />
<line x1="79.50" y1="443.90" x2="79.50" y2="446.30" stroke="#222" stroke-width="0.9" />
<line x1="89.50" y1="443.90" x2="89.50" y2="446.30" stroke="#222" stroke-width="0.9" />
<line x1="99.40" y1="443.90" x2="99.40" y2="446.30" stroke="#222" stroke-width="0.9" />
<text x="50.80" y="453.80" font-size="6.7" text-anchor="end" fill="#222" stroke="#222" stroke-width="0.2" textLength="11.2" lengthAdjust="spacingAndGlyphs" transform="rotate(-45 50.80 453.80)">-1kb</text>
<text x="60.50" y="453.80" font-size="6.7" text-anchor="end" fill="#222" stroke="#222" stroke-width="0.2" textLength="9.2" lengthAdjust="spacingAndGlyphs" transform="rotate(-45 60.50 453.80)">TSS</text>
<text x="90.10" y="453.80" font-size="6.7" text-anchor="end" fill="#222" stroke="#222" stroke-width="0.2" textLength="9.2" lengthAdjust="spacingAndGlyphs" transform="rotate(-45 90.10 453.80)">TES</text>
<text x="100.00" y="453.80" font-size="6.7" text-anchor="end" fill="#222" stroke="#222" stroke-width="0.2" textLength="11.8" lengthAdjust="spacingAndGlyphs" transform="rotate(-45 100.00 453.80)">+1kb</text>
<text x="67.90" y="382.80" font-size="5.8" text-anchor="start" fill="#6ab04a" stroke="#6ab04a" stroke-width="0.07" textLength="15.80" lengthAdjust="spacingAndGlyphs" >DMSO</text>
<text x="67.90" y="388.55" font-size="5.8" text-anchor="start" fill="#b52651" stroke="#b52651" stroke-width="0.07" textLength="21.00" lengthAdjust="spacingAndGlyphs" >EPZ5676</text>
<text x="67.90" y="394.30" font-size="5.8" text-anchor="start" fill="#3d4f92" stroke="#3d4f92" stroke-width="0.07" textLength="33.80" lengthAdjust="spacingAndGlyphs" >compound 10</text>
<path d="M50.40,439.10 C51.55,439.15 55.85,439.22 57.30,439.40 C58.75,439.58 58.60,441.17 59.10,440.20 C59.60,439.23 59.72,434.37 60.30,433.60 C60.88,432.83 61.32,434.75 62.60,435.60 C63.88,436.45 65.82,437.88 68.00,438.70 C70.18,439.52 72.88,440.05 75.70,440.50 C78.52,440.95 80.95,441.20 84.90,441.40 C88.85,441.60 96.98,441.65 99.40,441.70" stroke="#3d4f92" stroke-width="0.9" fill="none" />
<path d="M50.60,439.20 C51.75,439.25 56.05,439.32 57.50,439.50 C58.95,439.68 58.80,441.27 59.30,440.30 C59.80,439.33 59.92,434.47 60.50,433.70 C61.08,432.93 61.52,434.85 62.80,435.70 C64.08,436.55 66.02,437.98 68.20,438.80 C70.38,439.62 73.08,440.15 75.90,440.60 C78.72,441.05 81.15,441.30 85.10,441.50 C89.05,441.70 97.18,441.75 99.60,441.80" stroke="#b52651" stroke-width="1.1" fill="none" />
<path d="M50.40,416.10 C50.78,416.02 51.82,415.03 52.70,415.60 C53.58,416.17 54.73,418.03 55.70,419.50 C56.67,420.97 57.85,425.17 58.50,424.40 C59.15,423.63 59.30,420.58 59.60,414.90 C59.90,409.22 60.07,396.13 60.30,390.30 C60.53,384.47 60.62,380.53 61.00,379.90 C61.38,379.27 61.95,383.98 62.60,386.50 C63.25,389.02 64.00,392.32 64.90,395.00 C65.80,397.68 66.72,399.80 68.00,402.60 C69.28,405.40 70.82,408.73 72.60,411.80 C74.38,414.87 76.65,418.45 78.70,421.00 C80.75,423.55 83.05,425.43 84.90,427.10 C86.75,428.77 87.38,430.35 89.80,431.00 C92.22,431.65 97.80,431.00 99.40,431.00" stroke="#6ab04a" stroke-width="1.0" fill="none" />
<text x="148.00" y="370.80" font-size="6.5" text-anchor="middle" fill="#222" stroke="#222" stroke-width="0.07" textLength="46.00" lengthAdjust="spacingAndGlyphs" >H3K79me2 – 6d</text>
<line x1="121.40" y1="377.80" x2="121.40" y2="444.10" stroke="#222" stroke-width="1" />
<line x1="120.90" y1="443.60" x2="174.60" y2="443.60" stroke="#222" stroke-width="1" />
<line x1="118.80" y1="381.40" x2="121.40" y2="381.40" stroke="#222" stroke-width="0.9" />
<line x1="118.80" y1="390.00" x2="121.40" y2="390.00" stroke="#222" stroke-width="0.9" />
<text x="115.30" y="389.80" font-size="7.0" text-anchor="end" fill="#222" stroke="#222" stroke-width="0.07" textLength="9.00" lengthAdjust="spacingAndGlyphs" >0.3</text>
<line x1="118.80" y1="398.70" x2="121.40" y2="398.70" stroke="#222" stroke-width="0.9" />
<line x1="118.80" y1="407.40" x2="121.40" y2="407.40" stroke="#222" stroke-width="0.9" />
<text x="115.30" y="407.20" font-size="7.0" text-anchor="end" fill="#222" stroke="#222" stroke-width="0.07" textLength="9.00" lengthAdjust="spacingAndGlyphs" >0.2</text>
<line x1="118.80" y1="416.10" x2="121.40" y2="416.10" stroke="#222" stroke-width="0.9" />
<line x1="118.80" y1="424.80" x2="121.40" y2="424.80" stroke="#222" stroke-width="0.9" />
<text x="115.30" y="424.60" font-size="7.0" text-anchor="end" fill="#222" stroke="#222" stroke-width="0.07" textLength="9.00" lengthAdjust="spacingAndGlyphs" >0.1</text>
<line x1="118.80" y1="433.50" x2="121.40" y2="433.50" stroke="#222" stroke-width="0.9" />
<line x1="118.80" y1="442.10" x2="121.40" y2="442.10" stroke="#222" stroke-width="0.9" />
<text x="115.30" y="441.90" font-size="7.0" text-anchor="end" fill="#222" stroke="#222" stroke-width="0.07" textLength="9.00" lengthAdjust="spacingAndGlyphs" >0.0</text>
<line x1="123.40" y1="443.60" x2="123.40" y2="446.00" stroke="#222" stroke-width="0.9" />
<line x1="133.30" y1="443.60" x2="133.30" y2="446.00" stroke="#222" stroke-width="0.9" />
<line x1="143.30" y1="443.60" x2="143.30" y2="446.00" stroke="#222" stroke-width="0.9" />
<line x1="153.20" y1="443.60" x2="153.20" y2="446.00" stroke="#222" stroke-width="0.9" />
<line x1="163.40" y1="443.60" x2="163.40" y2="446.00" stroke="#222" stroke-width="0.9" />
<line x1="173.10" y1="443.60" x2="173.10" y2="446.00" stroke="#222" stroke-width="0.9" />
<text x="124.00" y="453.50" font-size="6.7" text-anchor="end" fill="#222" stroke="#222" stroke-width="0.2" textLength="11.2" lengthAdjust="spacingAndGlyphs" transform="rotate(-45 124.00 453.50)">-1kb</text>
<text x="133.90" y="453.50" font-size="6.7" text-anchor="end" fill="#222" stroke="#222" stroke-width="0.2" textLength="9.2" lengthAdjust="spacingAndGlyphs" transform="rotate(-45 133.90 453.50)">TSS</text>
<text x="164.00" y="453.50" font-size="6.7" text-anchor="end" fill="#222" stroke="#222" stroke-width="0.2" textLength="9.2" lengthAdjust="spacingAndGlyphs" transform="rotate(-45 164.00 453.50)">TES</text>
<text x="173.70" y="453.50" font-size="6.7" text-anchor="end" fill="#222" stroke="#222" stroke-width="0.2" textLength="11.8" lengthAdjust="spacingAndGlyphs" transform="rotate(-45 173.70 453.50)">+1kb</text>
<text x="141.00" y="382.00" font-size="5.8" text-anchor="start" fill="#6ab04a" stroke="#6ab04a" stroke-width="0.07" textLength="15.80" lengthAdjust="spacingAndGlyphs" >DMSO</text>
<text x="141.00" y="387.75" font-size="5.8" text-anchor="start" fill="#b52651" stroke="#b52651" stroke-width="0.07" textLength="21.00" lengthAdjust="spacingAndGlyphs" >EPZ5676</text>
<text x="141.00" y="393.50" font-size="5.8" text-anchor="start" fill="#3d4f92" stroke="#3d4f92" stroke-width="0.07" textLength="33.80" lengthAdjust="spacingAndGlyphs" >compound 10</text>
<path d="M123.70,440.80 C125.08,440.83 130.18,441.25 132.00,441.00 C133.82,440.75 133.77,439.37 134.60,439.30 C135.43,439.23 134.43,440.32 137.00,440.60 C139.57,440.88 144.02,440.93 150.00,441.00 C155.98,441.07 169.08,441.00 172.90,441.00" stroke="#3d4f92" stroke-width="1.0" fill="none" />
<path d="M123.70,439.80 C128.08,439.82 141.80,439.88 150.00,439.90 C158.20,439.92 169.08,439.90 172.90,439.90" stroke="#b52651" stroke-width="1.1" fill="none" />
<path d="M123.70,416.60 C124.13,416.55 125.42,415.90 126.30,416.30 C127.18,416.70 128.05,417.65 129.00,419.00 C129.95,420.35 131.28,425.90 132.00,424.40 C132.72,422.90 132.87,417.47 133.30,410.00 C133.73,402.53 134.07,383.60 134.60,379.60 C135.13,375.60 135.77,383.43 136.50,386.00 C137.23,388.57 138.10,392.08 139.00,395.00 C139.90,397.92 140.73,400.83 141.90,403.50 C143.07,406.17 144.25,408.18 146.00,411.00 C147.75,413.82 150.40,417.65 152.40,420.40 C154.40,423.15 156.27,425.33 158.00,427.50 C159.73,429.67 160.40,432.62 162.80,433.40 C165.20,434.18 170.80,432.40 172.40,432.20" stroke="#6ab04a" stroke-width="1.0" fill="none" />
<text x="221.80" y="370.80" font-size="6.5" text-anchor="middle" fill="#222" stroke="#222" stroke-width="0.07" textLength="46.00" lengthAdjust="spacingAndGlyphs" >H3K79me2 – 9d</text>
<line x1="194.40" y1="377.50" x2="194.40" y2="443.50" stroke="#222" stroke-width="1" />
<line x1="193.90" y1="443.00" x2="247.70" y2="443.00" stroke="#222" stroke-width="1" />
<line x1="191.80" y1="382.10" x2="194.40" y2="382.10" stroke="#222" stroke-width="0.9" />
<text x="188.30" y="381.90" font-size="7.0" text-anchor="end" fill="#222" stroke="#222" stroke-width="0.07" textLength="9.00" lengthAdjust="spacingAndGlyphs" >0.2</text>
<line x1="191.80" y1="396.80" x2="194.40" y2="396.80" stroke="#222" stroke-width="0.9" />
<line x1="191.80" y1="412.10" x2="194.40" y2="412.10" stroke="#222" stroke-width="0.9" />
<text x="188.30" y="411.90" font-size="7.0" text-anchor="end" fill="#222" stroke="#222" stroke-width="0.07" textLength="9.00" lengthAdjust="spacingAndGlyphs" >0.1</text>
<line x1="191.80" y1="427.20" x2="194.40" y2="427.20" stroke="#222" stroke-width="0.9" />
<line x1="191.80" y1="441.90" x2="194.40" y2="441.90" stroke="#222" stroke-width="0.9" />
<text x="188.30" y="441.70" font-size="7.0" text-anchor="end" fill="#222" stroke="#222" stroke-width="0.07" textLength="9.00" lengthAdjust="spacingAndGlyphs" >0.0</text>
<line x1="196.20" y1="443.00" x2="196.20" y2="445.40" stroke="#222" stroke-width="0.9" />
<line x1="206.00" y1="443.00" x2="206.00" y2="445.40" stroke="#222" stroke-width="0.9" />
<line x1="216.00" y1="443.00" x2="216.00" y2="445.40" stroke="#222" stroke-width="0.9" />
<line x1="225.80" y1="443.00" x2="225.80" y2="445.40" stroke="#222" stroke-width="0.9" />
<line x1="235.80" y1="443.00" x2="235.80" y2="445.40" stroke="#222" stroke-width="0.9" />
<line x1="245.60" y1="443.00" x2="245.60" y2="445.40" stroke="#222" stroke-width="0.9" />
<text x="196.80" y="452.90" font-size="6.7" text-anchor="end" fill="#222" stroke="#222" stroke-width="0.2" textLength="11.2" lengthAdjust="spacingAndGlyphs" transform="rotate(-45 196.80 452.90)">-1kb</text>
<text x="206.60" y="452.90" font-size="6.7" text-anchor="end" fill="#222" stroke="#222" stroke-width="0.2" textLength="9.2" lengthAdjust="spacingAndGlyphs" transform="rotate(-45 206.60 452.90)">TSS</text>
<text x="236.40" y="452.90" font-size="6.7" text-anchor="end" fill="#222" stroke="#222" stroke-width="0.2" textLength="9.2" lengthAdjust="spacingAndGlyphs" transform="rotate(-45 236.40 452.90)">TES</text>
<text x="246.20" y="452.90" font-size="6.7" text-anchor="end" fill="#222" stroke="#222" stroke-width="0.2" textLength="11.8" lengthAdjust="spacingAndGlyphs" transform="rotate(-45 246.20 452.90)">+1kb</text>
<text x="214.70" y="382.70" font-size="5.8" text-anchor="start" fill="#6ab04a" stroke="#6ab04a" stroke-width="0.07" textLength="15.80" lengthAdjust="spacingAndGlyphs" >DMSO</text>
<text x="214.70" y="388.45" font-size="5.8" text-anchor="start" fill="#b52651" stroke="#b52651" stroke-width="0.07" textLength="21.00" lengthAdjust="spacingAndGlyphs" >EPZ5676</text>
<text x="214.70" y="394.20" font-size="5.8" text-anchor="start" fill="#3d4f92" stroke="#3d4f92" stroke-width="0.07" textLength="33.80" lengthAdjust="spacingAndGlyphs" >compound 10</text>
<path d="M196.20,441.00 C198.50,441.03 201.70,441.17 210.00,441.20 C218.30,441.23 240.00,441.20 246.00,441.20" stroke="#b52651" stroke-width="1.1" fill="none" />
<path d="M196.20,440.80 C197.67,440.80 202.98,441.05 205.00,440.80 C207.02,440.55 207.30,439.33 208.30,439.30 C209.30,439.27 208.22,440.32 211.00,440.60 C213.78,440.88 219.17,440.93 225.00,441.00 C230.83,441.07 242.50,441.00 246.00,441.00" stroke="#3d4f92" stroke-width="0.9" fill="none" />
<path d="M197.20,413.70 C197.58,413.67 198.62,413.03 199.50,413.50 C200.38,413.97 201.43,414.92 202.50,416.50 C203.57,418.08 205.15,424.08 205.90,423.00 C206.65,421.92 206.60,417.28 207.00,410.00 C207.40,402.72 207.72,383.30 208.30,379.30 C208.88,375.30 209.72,383.55 210.50,386.00 C211.28,388.45 212.00,391.28 213.00,394.00 C214.00,396.72 215.25,399.80 216.50,402.30 C217.75,404.80 218.97,406.85 220.50,409.00 C222.03,411.15 223.95,413.12 225.70,415.20 C227.45,417.28 229.15,419.65 231.00,421.50 C232.85,423.35 234.30,425.42 236.80,426.30 C239.30,427.18 244.47,426.72 246.00,426.80" stroke="#6ab04a" stroke-width="1.0" fill="none" />
<text x="265.80" y="341.10" font-size="11.5" text-anchor="start" fill="#111" stroke="#111" stroke-width="0.07" font-weight="bold" textLength="8.80" lengthAdjust="spacingAndGlyphs" >G</text>
<text x="410.00" y="356.60" font-size="8.3" text-anchor="middle" fill="#222" stroke="#222" stroke-width="0.07" textLength="88.60" lengthAdjust="spacingAndGlyphs" >MLL-AF9 traget genes:</text>
<line x1="365.70" y1="360.90" x2="454.30" y2="360.90" stroke="#333" stroke-width="0.7" />
<line x1="288.80" y1="469.00" x2="288.80" y2="387.30" stroke="#2a2a2a" stroke-width="1.3" />
<line x1="288.15" y1="469.00" x2="502.40" y2="469.00" stroke="#2a2a2a" stroke-width="1.3" />
<path d="M285.50,389.50 L288.80,382.30 L292.10,389.50 L288.80,387.90 Z" fill="#111"/>
<path d="M500.20,465.70 L507.40,469.00 L500.20,472.30 L501.80,469.00 Z" fill="#111"/>
<text x="271.20" y="423.40" font-size="9.0" text-anchor="middle" fill="#333" stroke="#333" stroke-width="0.07" textLength="60.50" lengthAdjust="spacingAndGlyphs" transform="rotate(-90 271.20 423.40)" >Read count / million</text>
<text x="281.70" y="423.80" font-size="9.0" text-anchor="middle" fill="#333" stroke="#333" stroke-width="0.07" textLength="43.30" lengthAdjust="spacingAndGlyphs" transform="rotate(-90 281.70 423.80)" >mapped reads</text>
<text x="399.50" y="475.60" font-size="8.6" text-anchor="middle" fill="#333" stroke="#333" stroke-width="0.07" textLength="47.50" lengthAdjust="spacingAndGlyphs" >Genomic region</text>
<text x="337.80" y="375.90" font-size="6.5" text-anchor="middle" fill="#222" stroke="#222" stroke-width="0.07" textLength="46.00" lengthAdjust="spacingAndGlyphs" >H3K79me2 – 3d</text>
<line x1="313.30" y1="381.50" x2="313.30" y2="445.20" stroke="#222" stroke-width="1" />
<line x1="312.80" y1="444.70" x2="362.50" y2="444.70" stroke="#222" stroke-width="1" />
<line x1="310.70" y1="391.50" x2="313.30" y2="391.50" stroke="#222" stroke-width="0.9" />
<text x="307.20" y="391.30" font-size="7.0" text-anchor="end" fill="#222" stroke="#222" stroke-width="0.07" textLength="9.00" lengthAdjust="spacingAndGlyphs" >0.8</text>
<line x1="310.70" y1="404.50" x2="313.30" y2="404.50" stroke="#222" stroke-width="0.9" />
<line x1="310.70" y1="417.50" x2="313.30" y2="417.50" stroke="#222" stroke-width="0.9" />
<text x="307.20" y="417.30" font-size="7.0" text-anchor="end" fill="#222" stroke="#222" stroke-width="0.07" textLength="9.00" lengthAdjust="spacingAndGlyphs" >0.4</text>
<line x1="310.70" y1="430.60" x2="313.30" y2="430.60" stroke="#222" stroke-width="0.9" />
<line x1="310.70" y1="443.30" x2="313.30" y2="443.30" stroke="#222" stroke-width="0.9" />
<text x="307.20" y="443.10" font-size="7.0" text-anchor="end" fill="#222" stroke="#222" stroke-width="0.07" textLength="9.00" lengthAdjust="spacingAndGlyphs" >0.0</text>
<line x1="315.00" y1="444.70" x2="315.00" y2="447.10" stroke="#222" stroke-width="0.9" />
<line x1="324.40" y1="444.70" x2="324.40" y2="447.10" stroke="#222" stroke-width="0.9" />
<line x1="334.00" y1="444.70" x2="334.00" y2="447.10" stroke="#222" stroke-width="0.9" />
<line x1="343.40" y1="444.70" x2="343.40" y2="447.10" stroke="#222" stroke-width="0.9" />
<line x1="352.90" y1="444.70" x2="352.90" y2="447.10" stroke="#222" stroke-width="0.9" />
<line x1="362.20" y1="444.70" x2="362.20" y2="447.10" stroke="#222" stroke-width="0.9" />
<text x="315.60" y="454.60" font-size="6.7" text-anchor="end" fill="#222" stroke="#222" stroke-width="0.2" textLength="11.2" lengthAdjust="spacingAndGlyphs" transform="rotate(-45 315.60 454.60)">-1kb</text>
<text x="325.00" y="454.60" font-size="6.7" text-anchor="end" fill="#222" stroke="#222" stroke-width="0.2" textLength="9.2" lengthAdjust="spacingAndGlyphs" transform="rotate(-45 325.00 454.60)">TSS</text>
<text x="353.50" y="454.60" font-size="6.7" text-anchor="end" fill="#222" stroke="#222" stroke-width="0.2" textLength="9.2" lengthAdjust="spacingAndGlyphs" transform="rotate(-45 353.50 454.60)">TES</text>
<text x="362.80" y="454.60" font-size="6.7" text-anchor="end" fill="#222" stroke="#222" stroke-width="0.2" textLength="11.8" lengthAdjust="spacingAndGlyphs" transform="rotate(-45 362.80 454.60)">+1kb</text>
<text x="331.10" y="386.30" font-size="5.8" text-anchor="start" fill="#6ab04a" stroke="#6ab04a" stroke-width="0.07" textLength="15.80" lengthAdjust="spacingAndGlyphs" >DMSO</text>
<text x="331.10" y="392.05" font-size="5.8" text-anchor="start" fill="#b52651" stroke="#b52651" stroke-width="0.07" textLength="21.00" lengthAdjust="spacingAndGlyphs" >EPZ5676</text>
<text x="331.10" y="397.80" font-size="5.8" text-anchor="start" fill="#3d4f92" stroke="#3d4f92" stroke-width="0.07" textLength="33.80" lengthAdjust="spacingAndGlyphs" >compound 10</text>
<path d="M314.50,436.00 L316.00,435.50 L318.00,436.20 L320.00,436.40 L323.50,437.20 L324.50,431.80 L325.50,433.00 L327.00,433.70 L330.00,434.70 L333.00,435.70 L336.00,436.20 L340.00,436.70 L344.00,437.60 L347.00,437.00 L350.00,438.00 L354.00,438.00 L357.00,438.70 L361.30,438.60 L361.30,446.20 L357.00,446.30 L354.00,445.60 L350.00,445.60 L347.00,444.60 L344.00,445.20 L340.00,444.30 L336.00,443.80 L333.00,443.30 L330.00,442.30 L327.00,441.30 L325.50,440.60 L324.50,439.40 L323.50,444.80 L320.00,444.00 L318.00,443.80 L316.00,443.10 L314.50,443.60 Z" fill="#c8a0a8" opacity="0.55"/>
<path d="M314.50,405.20 L316.50,407.10 L318.00,406.10 L320.70,409.80 L322.00,411.10 L323.00,413.60 L323.80,397.60 L324.50,381.40 L326.00,385.60 L327.00,388.60 L328.30,390.60 L329.50,394.60 L330.50,396.60 L332.00,400.10 L333.00,404.40 L334.50,406.60 L336.00,409.60 L338.50,414.10 L340.60,418.20 L342.00,419.60 L343.50,420.60 L345.50,419.60 L346.70,419.10 L348.00,421.60 L349.00,423.60 L351.00,426.60 L352.90,428.90 L355.00,430.10 L357.50,430.50 L359.50,429.80 L361.30,431.30 L361.30,436.10 L359.50,434.60 L357.50,435.30 L355.00,434.90 L352.90,433.70 L351.00,431.40 L349.00,428.40 L348.00,426.40 L346.70,423.90 L345.50,424.40 L343.50,425.40 L342.00,424.40 L340.60,423.00 L338.50,418.90 L336.00,414.40 L334.50,411.40 L333.00,409.20 L332.00,404.90 L330.50,401.40 L329.50,399.40 L328.30,395.40 L327.00,393.40 L326.00,390.40 L324.50,386.20 L323.80,402.40 L323.00,418.40 L322.00,415.90 L320.70,414.60 L318.00,410.90 L316.50,411.90 L314.50,410.00 Z" fill="#d3eac4" opacity="0.85"/>
<path d="M314.50,439.80 C314.75,439.72 315.42,439.27 316.00,439.30 C316.58,439.33 317.33,439.85 318.00,440.00 C318.67,440.15 319.08,440.03 320.00,440.20 C320.92,440.37 322.75,441.77 323.50,441.00 C324.25,440.23 324.17,436.30 324.50,435.60 C324.83,434.90 325.08,436.48 325.50,436.80 C325.92,437.12 326.25,437.22 327.00,437.50 C327.75,437.78 329.00,438.17 330.00,438.50 C331.00,438.83 332.00,439.25 333.00,439.50 C334.00,439.75 334.83,439.83 336.00,440.00 C337.17,440.17 338.67,440.27 340.00,440.50 C341.33,440.73 342.83,441.35 344.00,441.40 C345.17,441.45 346.00,440.73 347.00,440.80 C348.00,440.87 348.83,441.63 350.00,441.80 C351.17,441.97 352.83,441.68 354.00,441.80 C355.17,441.92 355.78,442.40 357.00,442.50 C358.22,442.60 360.58,442.42 361.30,442.40" stroke="#b52651" stroke-width="1.2" fill="none" />
<path d="M314.50,407.60 C314.83,407.92 315.92,409.35 316.50,409.50 C317.08,409.65 317.30,408.05 318.00,408.50 C318.70,408.95 320.03,411.37 320.70,412.20 C321.37,413.03 321.62,412.87 322.00,413.50 C322.38,414.13 322.70,418.25 323.00,416.00 C323.30,413.75 323.55,405.37 323.80,400.00 C324.05,394.63 324.13,385.80 324.50,383.80 C324.87,381.80 325.58,386.80 326.00,388.00 C326.42,389.20 326.62,390.17 327.00,391.00 C327.38,391.83 327.88,392.00 328.30,393.00 C328.72,394.00 329.13,396.00 329.50,397.00 C329.87,398.00 330.08,398.08 330.50,399.00 C330.92,399.92 331.58,401.20 332.00,402.50 C332.42,403.80 332.58,405.72 333.00,406.80 C333.42,407.88 334.00,408.13 334.50,409.00 C335.00,409.87 335.33,410.75 336.00,412.00 C336.67,413.25 337.73,415.07 338.50,416.50 C339.27,417.93 340.02,419.68 340.60,420.60 C341.18,421.52 341.52,421.60 342.00,422.00 C342.48,422.40 342.92,423.00 343.50,423.00 C344.08,423.00 344.97,422.25 345.50,422.00 C346.03,421.75 346.28,421.17 346.70,421.50 C347.12,421.83 347.62,423.25 348.00,424.00 C348.38,424.75 348.50,425.17 349.00,426.00 C349.50,426.83 350.35,428.12 351.00,429.00 C351.65,429.88 352.23,430.72 352.90,431.30 C353.57,431.88 354.23,432.23 355.00,432.50 C355.77,432.77 356.75,432.95 357.50,432.90 C358.25,432.85 358.87,432.07 359.50,432.20 C360.13,432.33 361.00,433.45 361.30,433.70" stroke="#6ab04a" stroke-width="1.25" fill="none" />
<text x="410.00" y="376.00" font-size="6.5" text-anchor="middle" fill="#222" stroke="#222" stroke-width="0.07" textLength="46.00" lengthAdjust="spacingAndGlyphs" >H3K79me2 – 6d</text>
<line x1="384.20" y1="381.50" x2="384.20" y2="445.50" stroke="#222" stroke-width="1" />
<line x1="383.70" y1="445.00" x2="434.00" y2="445.00" stroke="#222" stroke-width="1" />
<line x1="381.60" y1="386.40" x2="384.20" y2="386.40" stroke="#222" stroke-width="0.9" />
<text x="378.10" y="386.20" font-size="7.0" text-anchor="end" fill="#222" stroke="#222" stroke-width="0.07" textLength="9.00" lengthAdjust="spacingAndGlyphs" >1.2</text>
<line x1="381.60" y1="395.70" x2="384.20" y2="395.70" stroke="#222" stroke-width="0.9" />
<line x1="381.60" y1="405.20" x2="384.20" y2="405.20" stroke="#222" stroke-width="0.9" />
<text x="378.10" y="405.00" font-size="7.0" text-anchor="end" fill="#222" stroke="#222" stroke-width="0.07" textLength="9.00" lengthAdjust="spacingAndGlyphs" >0.8</text>
<line x1="381.60" y1="415.00" x2="384.20" y2="415.00" stroke="#222" stroke-width="0.9" />
<line x1="381.60" y1="424.80" x2="384.20" y2="424.80" stroke="#222" stroke-width="0.9" />
<text x="378.10" y="424.60" font-size="7.0" text-anchor="end" fill="#222" stroke="#222" stroke-width="0.07" textLength="9.00" lengthAdjust="spacingAndGlyphs" >0.4</text>
<line x1="381.60" y1="434.30" x2="384.20" y2="434.30" stroke="#222" stroke-width="0.9" />
<line x1="381.60" y1="444.00" x2="384.20" y2="444.00" stroke="#222" stroke-width="0.9" />
<text x="378.10" y="443.80" font-size="7.0" text-anchor="end" fill="#222" stroke="#222" stroke-width="0.07" textLength="9.00" lengthAdjust="spacingAndGlyphs" >0.0</text>
<line x1="386.00" y1="445.00" x2="386.00" y2="447.40" stroke="#222" stroke-width="0.9" />
<line x1="395.80" y1="445.00" x2="395.80" y2="447.40" stroke="#222" stroke-width="0.9" />
<line x1="405.30" y1="445.00" x2="405.30" y2="447.40" stroke="#222" stroke-width="0.9" />
<line x1="414.90" y1="445.00" x2="414.90" y2="447.40" stroke="#222" stroke-width="0.9" />
<line x1="424.50" y1="445.00" x2="424.50" y2="447.40" stroke="#222" stroke-width="0.9" />
<line x1="433.30" y1="445.00" x2="433.30" y2="447.40" stroke="#222" stroke-width="0.9" />
<text x="386.60" y="454.90" font-size="6.7" text-anchor="end" fill="#222" stroke="#222" stroke-width="0.2" textLength="11.2" lengthAdjust="spacingAndGlyphs" transform="rotate(-45 386.60 454.90)">-1kb</text>
<text x="396.40" y="454.90" font-size="6.7" text-anchor="end" fill="#222" stroke="#222" stroke-width="0.2" textLength="9.2" lengthAdjust="spacingAndGlyphs" transform="rotate(-45 396.40 454.90)">TSS</text>
<text x="425.10" y="454.90" font-size="6.7" text-anchor="end" fill="#222" stroke="#222" stroke-width="0.2" textLength="9.2" lengthAdjust="spacingAndGlyphs" transform="rotate(-45 425.10 454.90)">TES</text>
<text x="433.90" y="454.90" font-size="6.7" text-anchor="end" fill="#222" stroke="#222" stroke-width="0.2" textLength="11.8" lengthAdjust="spacingAndGlyphs" transform="rotate(-45 433.90 454.90)">+1kb</text>
<text x="401.80" y="386.20" font-size="5.8" text-anchor="start" fill="#6ab04a" stroke="#6ab04a" stroke-width="0.07" textLength="15.80" lengthAdjust="spacingAndGlyphs" >DMSO</text>
<text x="401.80" y="391.95" font-size="5.8" text-anchor="start" fill="#b52651" stroke="#b52651" stroke-width="0.07" textLength="21.00" lengthAdjust="spacingAndGlyphs" >EPZ5676</text>
<text x="401.80" y="397.70" font-size="5.8" text-anchor="start" fill="#3d4f92" stroke="#3d4f92" stroke-width="0.07" textLength="33.80" lengthAdjust="spacingAndGlyphs" >compound 10</text>
<path d="M385.50,435.30 L388.00,436.70 L391.00,436.00 L393.50,434.60 L395.00,433.00 L396.30,426.70 L397.30,434.50 L400.00,436.00 L404.00,436.70 L408.00,436.50 L412.00,435.00 L414.50,434.20 L416.40,433.90 L418.50,433.20 L420.50,436.00 L422.50,438.50 L425.00,439.60 L428.00,439.40 L431.00,438.60 L433.30,438.90 L433.3,443.6 L385.5,443.6 Z" fill="#b3b7d8" opacity="0.85"/>
<path d="M386.30,406.40 L388.00,406.80 L389.90,407.80 L392.70,409.70 L394.60,414.00 L395.60,397.10 L396.30,381.30 L397.80,385.60 L399.90,394.20 L402.00,400.00 L404.90,404.30 L407.80,409.30 L410.70,413.60 L413.50,418.60 L416.40,421.40 L418.50,422.20 L420.70,424.30 L422.80,428.60 L425.70,432.20 L429.30,431.80 L431.40,430.80 L433.30,432.20 L433.30,437.00 L431.40,435.60 L429.30,436.60 L425.70,437.00 L422.80,433.40 L420.70,429.10 L418.50,427.00 L416.40,426.20 L413.50,423.40 L410.70,418.40 L407.80,414.10 L404.90,409.10 L402.00,404.80 L399.90,399.00 L397.80,390.40 L396.30,386.10 L395.60,401.90 L394.60,418.80 L392.70,414.50 L389.90,412.60 L388.00,411.60 L386.30,411.20 Z" fill="#d3eac4" opacity="0.85"/>
<path d="M385.50,442.50 C393.47,442.50 425.33,442.50 433.30,442.50" stroke="#b52651" stroke-width="1.1" fill="none" />
<path d="M385.50,442.20 C386.92,442.20 392.20,442.68 394.00,442.20 C395.80,441.72 395.55,439.37 396.30,439.30 C397.05,439.23 392.33,441.32 398.50,441.80 C404.67,442.28 427.50,442.13 433.30,442.20" stroke="#3d4f92" stroke-width="0.9" fill="none" />
<path d="M386.30,408.80 C386.58,408.87 387.40,408.97 388.00,409.20 C388.60,409.43 389.12,409.72 389.90,410.20 C390.68,410.68 391.92,411.07 392.70,412.10 C393.48,413.13 394.12,418.50 394.60,416.40 C395.08,414.30 395.32,404.95 395.60,399.50 C395.88,394.05 395.93,385.62 396.30,383.70 C396.67,381.78 397.20,385.85 397.80,388.00 C398.40,390.15 399.20,394.20 399.90,396.60 C400.60,399.00 401.17,400.72 402.00,402.40 C402.83,404.08 403.93,405.15 404.90,406.70 C405.87,408.25 406.83,410.15 407.80,411.70 C408.77,413.25 409.75,414.45 410.70,416.00 C411.65,417.55 412.55,419.70 413.50,421.00 C414.45,422.30 415.57,423.20 416.40,423.80 C417.23,424.40 417.78,424.12 418.50,424.60 C419.22,425.08 419.98,425.63 420.70,426.70 C421.42,427.77 421.97,429.68 422.80,431.00 C423.63,432.32 424.62,434.07 425.70,434.60 C426.78,435.13 428.35,434.43 429.30,434.20 C430.25,433.97 430.73,433.13 431.40,433.20 C432.07,433.27 432.98,434.37 433.30,434.60" stroke="#6ab04a" stroke-width="1.25" fill="none" />
<text x="481.50" y="376.00" font-size="6.5" text-anchor="middle" fill="#222" stroke="#222" stroke-width="0.07" textLength="46.00" lengthAdjust="spacingAndGlyphs" >H3K79me2 – 9d</text>
<line x1="455.90" y1="381.80" x2="455.90" y2="445.80" stroke="#222" stroke-width="1" />
<line x1="455.40" y1="445.30" x2="505.80" y2="445.30" stroke="#222" stroke-width="1" />
<line x1="453.30" y1="386.40" x2="455.90" y2="386.40" stroke="#222" stroke-width="0.9" />
<line x1="453.30" y1="394.50" x2="455.90" y2="394.50" stroke="#222" stroke-width="0.9" />
<text x="449.80" y="394.30" font-size="7.0" text-anchor="end" fill="#222" stroke="#222" stroke-width="0.07" textLength="9.00" lengthAdjust="spacingAndGlyphs" >0.6</text>
<line x1="453.30" y1="402.70" x2="455.90" y2="402.70" stroke="#222" stroke-width="0.9" />
<line x1="453.30" y1="410.60" x2="455.90" y2="410.60" stroke="#222" stroke-width="0.9" />
<text x="449.80" y="410.40" font-size="7.0" text-anchor="end" fill="#222" stroke="#222" stroke-width="0.07" textLength="9.00" lengthAdjust="spacingAndGlyphs" >0.4</text>
<line x1="453.30" y1="419.10" x2="455.90" y2="419.10" stroke="#222" stroke-width="0.9" />
<line x1="453.30" y1="427.30" x2="455.90" y2="427.30" stroke="#222" stroke-width="0.9" />
<text x="449.80" y="427.10" font-size="7.0" text-anchor="end" fill="#222" stroke="#222" stroke-width="0.07" textLength="9.00" lengthAdjust="spacingAndGlyphs" >0.2</text>
<line x1="453.30" y1="435.40" x2="455.90" y2="435.40" stroke="#222" stroke-width="0.9" />
<line x1="453.30" y1="443.60" x2="455.90" y2="443.60" stroke="#222" stroke-width="0.9" />
<text x="449.80" y="443.40" font-size="7.0" text-anchor="end" fill="#222" stroke="#222" stroke-width="0.07" textLength="9.00" lengthAdjust="spacingAndGlyphs" >0.0</text>
<line x1="457.80" y1="445.30" x2="457.80" y2="447.70" stroke="#222" stroke-width="0.9" />
<line x1="467.50" y1="445.30" x2="467.50" y2="447.70" stroke="#222" stroke-width="0.9" />
<line x1="477.00" y1="445.30" x2="477.00" y2="447.70" stroke="#222" stroke-width="0.9" />
<line x1="486.60" y1="445.30" x2="486.60" y2="447.70" stroke="#222" stroke-width="0.9" />
<line x1="496.20" y1="445.30" x2="496.20" y2="447.70" stroke="#222" stroke-width="0.9" />
<line x1="505.50" y1="445.30" x2="505.50" y2="447.70" stroke="#222" stroke-width="0.9" />
<text x="458.40" y="455.20" font-size="6.7" text-anchor="end" fill="#222" stroke="#222" stroke-width="0.2" textLength="11.2" lengthAdjust="spacingAndGlyphs" transform="rotate(-45 458.40 455.20)">-1kb</text>
<text x="468.10" y="455.20" font-size="6.7" text-anchor="end" fill="#222" stroke="#222" stroke-width="0.2" textLength="9.2" lengthAdjust="spacingAndGlyphs" transform="rotate(-45 468.10 455.20)">TSS</text>
<text x="496.80" y="455.20" font-size="6.7" text-anchor="end" fill="#222" stroke="#222" stroke-width="0.2" textLength="9.2" lengthAdjust="spacingAndGlyphs" transform="rotate(-45 496.80 455.20)">TES</text>
<text x="506.10" y="455.20" font-size="6.7" text-anchor="end" fill="#222" stroke="#222" stroke-width="0.2" textLength="11.8" lengthAdjust="spacingAndGlyphs" transform="rotate(-45 506.10 455.20)">+1kb</text>
<text x="473.90" y="386.20" font-size="5.8" text-anchor="start" fill="#6ab04a" stroke="#6ab04a" stroke-width="0.07" textLength="15.80" lengthAdjust="spacingAndGlyphs" >DMSO</text>
<text x="473.90" y="391.95" font-size="5.8" text-anchor="start" fill="#b52651" stroke="#b52651" stroke-width="0.07" textLength="21.00" lengthAdjust="spacingAndGlyphs" >EPZ5676</text>
<text x="473.90" y="397.70" font-size="5.8" text-anchor="start" fill="#3d4f92" stroke="#3d4f92" stroke-width="0.07" textLength="33.80" lengthAdjust="spacingAndGlyphs" >compound 10</text>
<path d="M457.20,431.00 L459.00,432.00 L461.60,435.30 L464.00,433.50 L465.50,432.40 L466.50,428.00 L467.30,421.00 L468.00,418.10 L469.50,425.30 L471.60,432.40 L475.90,435.30 L480.00,436.50 L484.00,436.70 L486.50,434.60 L488.10,425.30 L490.20,423.80 L492.50,429.00 L495.30,437.50 L500.00,438.00 L504.60,436.70 L504.6,444 L457.2,444 Z" fill="#b3b7d8" opacity="0.85"/>
<path d="M458.00,405.70 L459.80,406.60 L461.60,407.80 L463.50,409.60 L465.20,412.10 L466.60,414.30 L467.30,397.10 L468.00,382.00 L469.50,388.50 L471.60,397.10 L473.50,400.60 L475.90,404.30 L478.00,407.10 L480.20,410.00 L482.50,413.60 L484.50,417.10 L486.50,419.60 L488.10,421.40 L490.50,421.70 L493.10,425.00 L495.00,428.10 L496.70,430.80 L498.50,431.40 L500.30,431.50 L502.40,429.80 L504.60,431.50 L504.60,436.30 L502.40,434.60 L500.30,436.30 L498.50,436.20 L496.70,435.60 L495.00,432.90 L493.10,429.80 L490.50,426.50 L488.10,426.20 L486.50,424.40 L484.50,421.90 L482.50,418.40 L480.20,414.80 L478.00,411.90 L475.90,409.10 L473.50,405.40 L471.60,401.90 L469.50,393.30 L468.00,386.80 L467.30,401.90 L466.60,419.10 L465.20,416.90 L463.50,414.40 L461.60,412.60 L459.80,411.40 L458.00,410.50 Z" fill="#d3eac4" opacity="0.85"/>
<path d="M457.20,443.20 C465.10,443.20 496.70,443.20 504.60,443.20" stroke="#b52651" stroke-width="1.1" fill="none" />
<path d="M457.20,441.80 C458.67,441.80 464.20,442.28 466.00,441.80 C467.80,441.32 467.25,439.00 468.00,438.90 C468.75,438.80 467.33,440.77 470.50,441.20 C473.67,441.63 483.75,441.53 487.00,441.50 C490.25,441.47 489.00,440.95 490.00,441.00 C491.00,441.05 490.57,441.67 493.00,441.80 C495.43,441.93 502.67,441.80 504.60,441.80" stroke="#3d4f92" stroke-width="0.9" fill="none" />
<path d="M458.00,408.10 C458.30,408.25 459.20,408.65 459.80,409.00 C460.40,409.35 460.98,409.70 461.60,410.20 C462.22,410.70 462.90,411.28 463.50,412.00 C464.10,412.72 464.68,413.72 465.20,414.50 C465.72,415.28 466.25,419.20 466.60,416.70 C466.95,414.20 467.07,404.88 467.30,399.50 C467.53,394.12 467.63,385.83 468.00,384.40 C468.37,382.97 468.90,388.38 469.50,390.90 C470.10,393.42 470.93,397.48 471.60,399.50 C472.27,401.52 472.78,401.80 473.50,403.00 C474.22,404.20 475.15,405.62 475.90,406.70 C476.65,407.78 477.28,408.55 478.00,409.50 C478.72,410.45 479.45,411.32 480.20,412.40 C480.95,413.48 481.78,414.82 482.50,416.00 C483.22,417.18 483.83,418.50 484.50,419.50 C485.17,420.50 485.90,421.28 486.50,422.00 C487.10,422.72 487.43,423.45 488.10,423.80 C488.77,424.15 489.67,423.50 490.50,424.10 C491.33,424.70 492.35,426.33 493.10,427.40 C493.85,428.47 494.40,429.53 495.00,430.50 C495.60,431.47 496.12,432.65 496.70,433.20 C497.28,433.75 497.90,433.68 498.50,433.80 C499.10,433.92 499.65,434.17 500.30,433.90 C500.95,433.63 501.68,432.20 502.40,432.20 C503.12,432.20 504.23,433.62 504.60,433.90" stroke="#6ab04a" stroke-width="1.25" fill="none" />
</svg></body></html>
